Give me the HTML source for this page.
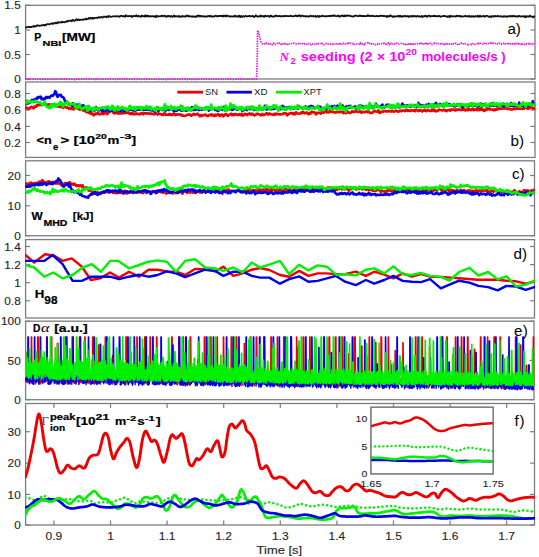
<!DOCTYPE html><html><head><meta charset="utf-8"><style>html,body{margin:0;padding:0;background:#fff;width:539px;height:557px;overflow:hidden}svg{display:block;font-family:"Liberation Sans",sans-serif}</style></head><body><svg width="539" height="557" viewBox="0 0 539 557">
<rect width="539" height="557" fill="#fff"/>
<defs>
<clipPath id="cpa"><rect x="25.1" y="5.3" width="510.4" height="73.7"/></clipPath>
<clipPath id="cpb"><rect x="25.1" y="82.0" width="510.4" height="75.4"/></clipPath>
<clipPath id="cpc"><rect x="25.1" y="160.8" width="509.9" height="74.89999999999998"/></clipPath>
<clipPath id="cpd"><rect x="25.1" y="239.6" width="509.9" height="78.4"/></clipPath>
<clipPath id="cpe"><rect x="25.1" y="321.2" width="509.4" height="78.5"/></clipPath>
<clipPath id="cpf"><rect x="25.1" y="403.5" width="509.9" height="121.5"/></clipPath>
</defs>
<rect x="25.6" y="5.3" width="509.4" height="73.7" fill="none" stroke="#7d7d7d" stroke-width="1.3"/>
<line x1="25.6" y1="79.0" x2="30.1" y2="79.0" stroke="#7d7d7d" stroke-width="1.2"/>
<line x1="530.5" y1="79.0" x2="535.0" y2="79.0" stroke="#7d7d7d" stroke-width="1.2"/>
<text x="14.15" y="83.10" font-size="10.6" textLength="6.55" lengthAdjust="spacingAndGlyphs" fill="#262626" stroke="#262626" stroke-width="0.12">0</text>
<line x1="25.6" y1="54.5" x2="30.1" y2="54.5" stroke="#7d7d7d" stroke-width="1.2"/>
<line x1="530.5" y1="54.5" x2="535.0" y2="54.5" stroke="#7d7d7d" stroke-width="1.2"/>
<text x="4.32" y="58.60" font-size="10.6" textLength="16.38" lengthAdjust="spacingAndGlyphs" fill="#262626" stroke="#262626" stroke-width="0.12">0.5</text>
<line x1="25.6" y1="30.0" x2="30.1" y2="30.0" stroke="#7d7d7d" stroke-width="1.2"/>
<line x1="530.5" y1="30.0" x2="535.0" y2="30.0" stroke="#7d7d7d" stroke-width="1.2"/>
<text x="14.15" y="34.10" font-size="10.6" textLength="6.55" lengthAdjust="spacingAndGlyphs" fill="#262626" stroke="#262626" stroke-width="0.12">1</text>
<line x1="25.6" y1="5.3" x2="30.1" y2="5.3" stroke="#7d7d7d" stroke-width="1.2"/>
<line x1="530.5" y1="5.3" x2="535.0" y2="5.3" stroke="#7d7d7d" stroke-width="1.2"/>
<text x="4.32" y="9.40" font-size="10.6" textLength="16.38" lengthAdjust="spacingAndGlyphs" fill="#262626" stroke="#262626" stroke-width="0.12">1.5</text>
<rect x="25.6" y="82.0" width="509.4" height="75.4" fill="none" stroke="#7d7d7d" stroke-width="1.3"/>
<line x1="25.6" y1="93.5" x2="30.1" y2="93.5" stroke="#7d7d7d" stroke-width="1.2"/>
<line x1="530.5" y1="93.5" x2="535.0" y2="93.5" stroke="#7d7d7d" stroke-width="1.2"/>
<text x="4.32" y="97.60" font-size="10.6" textLength="16.38" lengthAdjust="spacingAndGlyphs" fill="#262626" stroke="#262626" stroke-width="0.12">0.8</text>
<line x1="25.6" y1="110.1" x2="30.1" y2="110.1" stroke="#7d7d7d" stroke-width="1.2"/>
<line x1="530.5" y1="110.1" x2="535.0" y2="110.1" stroke="#7d7d7d" stroke-width="1.2"/>
<text x="4.32" y="114.20" font-size="10.6" textLength="16.38" lengthAdjust="spacingAndGlyphs" fill="#262626" stroke="#262626" stroke-width="0.12">0.6</text>
<line x1="25.6" y1="126.4" x2="30.1" y2="126.4" stroke="#7d7d7d" stroke-width="1.2"/>
<line x1="530.5" y1="126.4" x2="535.0" y2="126.4" stroke="#7d7d7d" stroke-width="1.2"/>
<text x="4.32" y="130.50" font-size="10.6" textLength="16.38" lengthAdjust="spacingAndGlyphs" fill="#262626" stroke="#262626" stroke-width="0.12">0.4</text>
<line x1="25.6" y1="142.5" x2="30.1" y2="142.5" stroke="#7d7d7d" stroke-width="1.2"/>
<line x1="530.5" y1="142.5" x2="535.0" y2="142.5" stroke="#7d7d7d" stroke-width="1.2"/>
<text x="4.32" y="146.60" font-size="10.6" textLength="16.38" lengthAdjust="spacingAndGlyphs" fill="#262626" stroke="#262626" stroke-width="0.12">0.2</text>
<rect x="25.6" y="160.8" width="508.9" height="74.89999999999998" fill="none" stroke="#7d7d7d" stroke-width="1.3"/>
<line x1="25.6" y1="175.5" x2="30.1" y2="175.5" stroke="#7d7d7d" stroke-width="1.2"/>
<line x1="530.0" y1="175.5" x2="534.5" y2="175.5" stroke="#7d7d7d" stroke-width="1.2"/>
<text x="7.60" y="179.60" font-size="10.6" textLength="13.10" lengthAdjust="spacingAndGlyphs" fill="#262626" stroke="#262626" stroke-width="0.12">20</text>
<line x1="25.6" y1="205.8" x2="30.1" y2="205.8" stroke="#7d7d7d" stroke-width="1.2"/>
<line x1="530.0" y1="205.8" x2="534.5" y2="205.8" stroke="#7d7d7d" stroke-width="1.2"/>
<text x="7.60" y="209.90" font-size="10.6" textLength="13.10" lengthAdjust="spacingAndGlyphs" fill="#262626" stroke="#262626" stroke-width="0.12">10</text>
<line x1="25.6" y1="235.7" x2="30.1" y2="235.7" stroke="#7d7d7d" stroke-width="1.2"/>
<line x1="530.0" y1="235.7" x2="534.5" y2="235.7" stroke="#7d7d7d" stroke-width="1.2"/>
<text x="14.15" y="239.80" font-size="10.6" textLength="6.55" lengthAdjust="spacingAndGlyphs" fill="#262626" stroke="#262626" stroke-width="0.12">0</text>
<rect x="25.6" y="239.6" width="508.9" height="78.4" fill="none" stroke="#7d7d7d" stroke-width="1.3"/>
<line x1="25.6" y1="246.5" x2="30.1" y2="246.5" stroke="#7d7d7d" stroke-width="1.2"/>
<line x1="530.0" y1="246.5" x2="534.5" y2="246.5" stroke="#7d7d7d" stroke-width="1.2"/>
<text x="4.32" y="250.60" font-size="10.6" textLength="16.38" lengthAdjust="spacingAndGlyphs" fill="#262626" stroke="#262626" stroke-width="0.12">1.4</text>
<line x1="25.6" y1="264.6" x2="30.1" y2="264.6" stroke="#7d7d7d" stroke-width="1.2"/>
<line x1="530.0" y1="264.6" x2="534.5" y2="264.6" stroke="#7d7d7d" stroke-width="1.2"/>
<text x="4.32" y="268.70" font-size="10.6" textLength="16.38" lengthAdjust="spacingAndGlyphs" fill="#262626" stroke="#262626" stroke-width="0.12">1.2</text>
<line x1="25.6" y1="282.7" x2="30.1" y2="282.7" stroke="#7d7d7d" stroke-width="1.2"/>
<line x1="530.0" y1="282.7" x2="534.5" y2="282.7" stroke="#7d7d7d" stroke-width="1.2"/>
<text x="14.15" y="286.80" font-size="10.6" textLength="6.55" lengthAdjust="spacingAndGlyphs" fill="#262626" stroke="#262626" stroke-width="0.12">1</text>
<line x1="25.6" y1="300.8" x2="30.1" y2="300.8" stroke="#7d7d7d" stroke-width="1.2"/>
<line x1="530.0" y1="300.8" x2="534.5" y2="300.8" stroke="#7d7d7d" stroke-width="1.2"/>
<text x="4.32" y="304.90" font-size="10.6" textLength="16.38" lengthAdjust="spacingAndGlyphs" fill="#262626" stroke="#262626" stroke-width="0.12">0.8</text>
<rect x="25.6" y="321.2" width="508.4" height="78.5" fill="none" stroke="#7d7d7d" stroke-width="1.3"/>
<line x1="25.6" y1="321.2" x2="30.1" y2="321.2" stroke="#7d7d7d" stroke-width="1.2"/>
<line x1="529.5" y1="321.2" x2="534.0" y2="321.2" stroke="#7d7d7d" stroke-width="1.2"/>
<text x="1.05" y="325.30" font-size="10.6" textLength="19.65" lengthAdjust="spacingAndGlyphs" fill="#262626" stroke="#262626" stroke-width="0.12">100</text>
<line x1="25.6" y1="360.4" x2="30.1" y2="360.4" stroke="#7d7d7d" stroke-width="1.2"/>
<line x1="529.5" y1="360.4" x2="534.0" y2="360.4" stroke="#7d7d7d" stroke-width="1.2"/>
<text x="7.60" y="364.50" font-size="10.6" textLength="13.10" lengthAdjust="spacingAndGlyphs" fill="#262626" stroke="#262626" stroke-width="0.12">50</text>
<line x1="25.6" y1="399.7" x2="30.1" y2="399.7" stroke="#7d7d7d" stroke-width="1.2"/>
<line x1="529.5" y1="399.7" x2="534.0" y2="399.7" stroke="#7d7d7d" stroke-width="1.2"/>
<text x="14.15" y="403.80" font-size="10.6" textLength="6.55" lengthAdjust="spacingAndGlyphs" fill="#262626" stroke="#262626" stroke-width="0.12">0</text>
<rect x="25.6" y="403.5" width="508.9" height="121.5" fill="none" stroke="#7d7d7d" stroke-width="1.3"/>
<line x1="25.6" y1="431.7" x2="30.1" y2="431.7" stroke="#7d7d7d" stroke-width="1.2"/>
<line x1="530.0" y1="431.7" x2="534.5" y2="431.7" stroke="#7d7d7d" stroke-width="1.2"/>
<text x="7.60" y="435.80" font-size="10.6" textLength="13.10" lengthAdjust="spacingAndGlyphs" fill="#262626" stroke="#262626" stroke-width="0.12">30</text>
<line x1="25.6" y1="463.1" x2="30.1" y2="463.1" stroke="#7d7d7d" stroke-width="1.2"/>
<line x1="530.0" y1="463.1" x2="534.5" y2="463.1" stroke="#7d7d7d" stroke-width="1.2"/>
<text x="7.60" y="467.20" font-size="10.6" textLength="13.10" lengthAdjust="spacingAndGlyphs" fill="#262626" stroke="#262626" stroke-width="0.12">20</text>
<line x1="25.6" y1="494.4" x2="30.1" y2="494.4" stroke="#7d7d7d" stroke-width="1.2"/>
<line x1="530.0" y1="494.4" x2="534.5" y2="494.4" stroke="#7d7d7d" stroke-width="1.2"/>
<text x="7.60" y="498.50" font-size="10.6" textLength="13.10" lengthAdjust="spacingAndGlyphs" fill="#262626" stroke="#262626" stroke-width="0.12">10</text>
<line x1="25.6" y1="525.0" x2="30.1" y2="525.0" stroke="#7d7d7d" stroke-width="1.2"/>
<line x1="530.0" y1="525.0" x2="534.5" y2="525.0" stroke="#7d7d7d" stroke-width="1.2"/>
<text x="14.15" y="529.10" font-size="10.6" textLength="6.55" lengthAdjust="spacingAndGlyphs" fill="#262626" stroke="#262626" stroke-width="0.12">0</text>
<line x1="53.90" y1="403.5" x2="53.90" y2="408.0" stroke="#7d7d7d" stroke-width="1.2"/>
<line x1="53.90" y1="520.5" x2="53.90" y2="525.0" stroke="#7d7d7d" stroke-width="1.2"/>
<text x="45.55" y="539.6" font-size="10.8" textLength="16.70" lengthAdjust="spacingAndGlyphs" fill="#262626" stroke="#262626" stroke-width="0.12">0.9</text>
<line x1="110.50" y1="403.5" x2="110.50" y2="408.0" stroke="#7d7d7d" stroke-width="1.2"/>
<line x1="110.50" y1="520.5" x2="110.50" y2="525.0" stroke="#7d7d7d" stroke-width="1.2"/>
<text x="107.16" y="539.6" font-size="10.8" textLength="6.68" lengthAdjust="spacingAndGlyphs" fill="#262626" stroke="#262626" stroke-width="0.12">1</text>
<line x1="167.10" y1="403.5" x2="167.10" y2="408.0" stroke="#7d7d7d" stroke-width="1.2"/>
<line x1="167.10" y1="520.5" x2="167.10" y2="525.0" stroke="#7d7d7d" stroke-width="1.2"/>
<text x="158.75" y="539.6" font-size="10.8" textLength="16.70" lengthAdjust="spacingAndGlyphs" fill="#262626" stroke="#262626" stroke-width="0.12">1.1</text>
<line x1="223.70" y1="403.5" x2="223.70" y2="408.0" stroke="#7d7d7d" stroke-width="1.2"/>
<line x1="223.70" y1="520.5" x2="223.70" y2="525.0" stroke="#7d7d7d" stroke-width="1.2"/>
<text x="215.35" y="539.6" font-size="10.8" textLength="16.70" lengthAdjust="spacingAndGlyphs" fill="#262626" stroke="#262626" stroke-width="0.12">1.2</text>
<line x1="280.30" y1="403.5" x2="280.30" y2="408.0" stroke="#7d7d7d" stroke-width="1.2"/>
<line x1="280.30" y1="520.5" x2="280.30" y2="525.0" stroke="#7d7d7d" stroke-width="1.2"/>
<text x="271.95" y="539.6" font-size="10.8" textLength="16.70" lengthAdjust="spacingAndGlyphs" fill="#262626" stroke="#262626" stroke-width="0.12">1.3</text>
<line x1="336.90" y1="403.5" x2="336.90" y2="408.0" stroke="#7d7d7d" stroke-width="1.2"/>
<line x1="336.90" y1="520.5" x2="336.90" y2="525.0" stroke="#7d7d7d" stroke-width="1.2"/>
<text x="328.55" y="539.6" font-size="10.8" textLength="16.70" lengthAdjust="spacingAndGlyphs" fill="#262626" stroke="#262626" stroke-width="0.12">1.4</text>
<line x1="393.50" y1="403.5" x2="393.50" y2="408.0" stroke="#7d7d7d" stroke-width="1.2"/>
<line x1="393.50" y1="520.5" x2="393.50" y2="525.0" stroke="#7d7d7d" stroke-width="1.2"/>
<text x="385.15" y="539.6" font-size="10.8" textLength="16.70" lengthAdjust="spacingAndGlyphs" fill="#262626" stroke="#262626" stroke-width="0.12">1.5</text>
<line x1="450.10" y1="403.5" x2="450.10" y2="408.0" stroke="#7d7d7d" stroke-width="1.2"/>
<line x1="450.10" y1="520.5" x2="450.10" y2="525.0" stroke="#7d7d7d" stroke-width="1.2"/>
<text x="441.75" y="539.6" font-size="10.8" textLength="16.70" lengthAdjust="spacingAndGlyphs" fill="#262626" stroke="#262626" stroke-width="0.12">1.6</text>
<line x1="506.70" y1="403.5" x2="506.70" y2="408.0" stroke="#7d7d7d" stroke-width="1.2"/>
<line x1="506.70" y1="520.5" x2="506.70" y2="525.0" stroke="#7d7d7d" stroke-width="1.2"/>
<text x="498.35" y="539.6" font-size="10.8" textLength="16.70" lengthAdjust="spacingAndGlyphs" fill="#262626" stroke="#262626" stroke-width="0.12">1.7</text>
<text x="256.6" y="553.5" font-size="11" textLength="45.5" lengthAdjust="spacingAndGlyphs" fill="#262626" stroke="#262626" stroke-width="0.12">Time [s]</text>
<polyline points="25.60,27.37 26.30,27.55 27.00,27.20 27.70,27.08 28.40,26.77 29.10,26.93 29.80,27.31 30.50,26.98 31.20,27.10 31.90,26.73 32.60,26.69 33.30,26.53 34.00,25.79 34.70,26.58 35.40,26.37 36.10,26.28 36.80,25.42 37.50,25.31 38.20,25.52 38.90,25.58 39.60,25.76 40.30,25.54 41.00,25.62 41.70,25.10 42.40,25.32 43.10,25.24 43.80,24.76 44.50,25.48 45.20,24.96 45.90,25.07 46.60,24.33 47.30,24.17 48.00,24.20 48.70,24.17 49.40,24.32 50.10,24.07 50.80,23.72 51.50,23.43 52.20,23.47 52.90,23.96 53.60,23.14 54.30,23.40 55.00,23.35 55.70,22.58 56.40,23.01 57.10,23.35 57.80,22.08 58.50,22.57 59.20,22.55 59.90,22.20 60.60,22.55 61.30,22.25 62.00,21.66 62.70,22.36 63.40,22.20 64.10,22.20 64.80,22.27 65.50,21.79 66.20,21.60 66.90,21.00 67.60,21.57 68.30,21.04 69.00,20.99 69.70,20.60 70.40,20.61 71.10,20.67 71.80,21.22 72.50,19.97 73.20,20.08 73.90,20.59 74.60,20.92 75.30,20.53 76.00,19.58 76.70,19.27 77.40,20.19 78.10,19.72 78.80,19.49 79.50,20.14 80.20,20.09 80.90,19.67 81.60,19.62 82.30,19.59 83.00,19.91 83.70,19.48 84.40,19.36 85.10,19.28 85.80,18.46 86.50,19.37 87.20,19.17 87.90,18.94 88.60,17.98 89.30,18.36 90.00,18.79 90.70,17.78 91.40,18.27 92.10,18.60 92.80,17.71 93.50,18.64 94.20,18.19 94.90,17.86 95.60,17.94 96.30,17.97 97.00,17.70 97.70,17.98 98.40,17.26 99.10,17.26 99.80,17.69 100.50,17.26 101.20,16.88 101.90,17.46 102.60,17.58 103.30,16.85 104.00,16.46 104.70,16.83 105.40,16.76 106.10,16.65 106.80,17.18 107.50,16.27 108.20,17.00 108.90,16.06 109.60,16.16 110.30,16.61 111.00,16.77 111.70,16.65 112.40,16.45 113.10,16.36 113.80,16.34 114.50,16.47 115.20,16.18 115.90,16.32 116.60,16.40 117.30,16.18 118.00,16.43 118.70,16.34 119.40,16.82 120.10,16.21 120.80,15.95 121.50,15.97 122.20,16.10 122.90,16.43 123.60,15.99 124.30,16.25 125.00,16.76 125.70,15.22 126.40,15.72 127.10,16.20 127.80,16.26 128.50,16.20 129.20,15.97 129.90,16.35 130.60,16.23 131.30,15.95 132.00,16.98 132.70,16.26 133.40,15.94 134.10,16.10 134.80,16.06 135.50,16.12 136.20,15.19 136.90,15.97 137.60,16.50 138.30,15.74 139.00,16.12 139.70,16.48 140.40,16.45 141.10,16.67 141.80,15.56 142.50,16.03 143.20,16.04 143.90,16.38 144.60,16.54 145.30,15.22 146.00,16.55 146.70,15.66 147.40,16.41 148.10,15.65 148.80,16.23 149.50,16.59 150.20,16.12 150.90,16.24 151.60,16.46 152.30,16.23 153.00,16.15 153.70,16.72 154.40,16.55 155.10,16.08 155.80,17.15 156.50,15.79 157.20,16.51 157.90,16.10 158.60,16.24 159.30,16.45 160.00,16.28 160.70,16.43 161.40,15.67 162.10,15.68 162.80,16.42 163.50,15.87 164.20,15.85 164.90,15.70 165.60,16.66 166.30,16.48 167.00,16.73 167.70,15.89 168.40,16.22 169.10,15.82 169.80,16.49 170.50,16.78 171.20,15.92 171.90,16.78 172.60,16.58 173.30,16.17 174.00,15.54 174.70,16.73 175.40,16.20 176.10,16.03 176.80,16.38 177.50,16.39 178.20,16.77 178.90,15.89 179.60,16.65 180.30,16.77 181.00,16.76 181.70,16.19 182.40,16.00 183.10,16.61 183.80,16.30 184.50,16.30 185.20,16.76 185.90,16.17 186.60,15.46 187.30,16.13 188.00,15.62 188.70,16.56 189.40,16.38 190.10,16.06 190.80,16.27 191.50,16.57 192.20,16.31 192.90,16.75 193.60,16.26 194.30,16.65 195.00,16.81 195.70,16.85 196.40,16.06 197.10,16.60 197.80,15.64 198.50,15.92 199.20,15.61 199.90,16.67 200.60,15.87 201.30,16.29 202.00,16.23 202.70,16.28 203.40,16.09 204.10,16.37 204.80,16.92 205.50,16.30 206.20,16.47 206.90,16.63 207.60,16.21 208.30,15.84 209.00,16.08 209.70,16.65 210.40,15.70 211.10,16.07 211.80,16.63 212.50,16.55 213.20,16.27 213.90,16.55 214.60,16.32 215.30,15.85 216.00,15.72 216.70,16.04 217.40,16.58 218.10,16.06 218.80,15.94 219.50,15.99 220.20,15.72 220.90,16.21 221.60,15.84 222.30,16.38 223.00,15.42 223.70,16.36 224.40,16.02 225.10,15.56 225.80,16.49 226.50,16.14 227.20,15.46 227.90,15.93 228.60,16.34 229.30,16.07 230.00,16.50 230.70,16.49 231.40,16.46 232.10,16.34 232.80,16.69 233.50,16.45 234.20,16.38 234.90,15.49 235.60,16.53 236.30,16.67 237.00,16.11 237.70,16.05 238.40,16.89 239.10,15.59 239.80,16.37 240.50,17.05 241.20,15.88 241.90,16.44 242.60,16.86 243.30,16.16 244.00,16.39 244.70,16.51 245.40,15.88 246.10,16.16 246.80,16.29 247.50,16.48 248.20,16.18 248.90,16.12 249.60,15.83 250.30,16.06 251.00,16.49 251.70,16.22 252.40,15.88 253.10,15.88 253.80,17.11 254.50,16.57 255.20,16.40 255.90,15.26 256.60,16.39 257.30,16.34 258.00,16.76 258.70,16.31 259.40,16.14 260.10,16.34 260.80,15.48 261.50,16.52 262.20,16.27 262.90,15.91 263.60,16.62 264.30,16.78 265.00,15.66 265.70,15.92 266.40,16.25 267.10,16.21 267.80,16.00 268.50,15.80 269.20,16.88 269.90,16.50 270.60,15.72 271.30,15.66 272.00,16.73 272.70,16.48 273.40,16.77 274.10,16.41 274.80,15.82 275.50,16.22 276.20,15.37 276.90,15.86 277.60,16.10 278.30,16.30 279.00,15.86 279.70,16.07 280.40,16.27 281.10,16.24 281.80,16.33 282.50,16.18 283.20,15.99 283.90,16.38 284.60,16.12 285.30,15.81 286.00,15.88 286.70,16.10 287.40,16.06 288.10,16.15 288.80,16.09 289.50,16.16 290.20,16.04 290.90,15.65 291.60,16.24 292.30,16.46 293.00,16.24 293.70,16.02 294.40,16.24 295.10,15.74 295.80,15.42 296.50,16.10 297.20,15.75 297.90,16.33 298.60,15.69 299.30,15.15 300.00,15.71 300.70,16.62 301.40,15.93 302.10,15.59 302.80,15.80 303.50,16.24 304.20,16.23 304.90,16.12 305.60,16.58 306.30,16.30 307.00,16.05 307.70,16.26 308.40,16.63 309.10,16.39 309.80,16.40 310.50,15.67 311.20,15.99 311.90,16.30 312.60,15.94 313.30,16.41 314.00,16.25 314.70,16.35 315.40,15.96 316.10,16.92 316.80,16.46 317.50,15.95 318.20,16.06 318.90,16.93 319.60,15.90 320.30,16.33 321.00,16.36 321.70,16.02 322.40,15.61 323.10,16.08 323.80,16.14 324.50,16.41 325.20,16.29 325.90,16.02 326.60,16.31 327.30,16.20 328.00,16.08 328.70,16.02 329.40,15.92 330.10,16.24 330.80,15.63 331.50,15.78 332.20,16.01 332.90,15.49 333.60,15.86 334.30,15.31 335.00,15.77 335.70,16.21 336.40,16.21 337.10,16.00 337.80,15.94 338.50,15.52 339.20,16.66 339.90,16.20 340.60,16.41 341.30,15.72 342.00,15.96 342.70,15.39 343.40,16.30 344.10,16.36 344.80,15.37 345.50,16.02 346.20,16.26 346.90,15.42 347.60,15.40 348.30,15.67 349.00,15.82 349.70,15.55 350.40,16.06 351.10,16.13 351.80,16.27 352.50,16.30 353.20,16.58 353.90,16.46 354.60,15.60 355.30,15.88 356.00,15.69 356.70,15.68 357.40,16.03 358.10,16.06 358.80,16.24 359.50,15.51 360.20,15.63 360.90,16.06 361.60,16.00 362.30,15.96 363.00,16.05 363.70,15.81 364.40,16.32 365.10,16.20 365.80,16.05 366.50,15.85 367.20,16.02 367.90,15.13 368.60,15.74 369.30,16.10 370.00,15.56 370.70,16.16 371.40,16.14 372.10,15.61 372.80,16.01 373.50,15.99 374.20,16.26 374.90,16.31 375.60,16.09 376.30,15.80 377.00,16.05 377.70,16.08 378.40,16.36 379.10,16.21 379.80,15.86 380.50,15.64 381.20,15.98 381.90,15.86 382.60,15.73 383.30,16.08 384.00,15.95 384.70,16.16 385.40,16.31 386.10,15.98 386.80,16.94 387.50,16.02 388.20,16.51 388.90,16.17 389.60,16.52 390.30,15.30 391.00,15.87 391.70,16.22 392.40,16.35 393.10,16.96 393.80,16.25 394.50,16.59 395.20,16.41 395.90,16.48 396.60,16.33 397.30,16.09 398.00,16.33 398.70,15.78 399.40,16.57 400.10,15.80 400.80,16.24 401.50,16.90 402.20,16.08 402.90,16.17 403.60,16.57 404.30,16.17 405.00,15.88 405.70,16.26 406.40,16.37 407.10,16.42 407.80,15.90 408.50,16.79 409.20,16.76 409.90,16.18 410.60,16.27 411.30,16.03 412.00,16.68 412.70,15.94 413.40,16.42 414.10,16.02 414.80,15.95 415.50,16.44 416.20,16.66 416.90,16.19 417.60,15.96 418.30,16.48 419.00,16.18 419.70,16.31 420.40,16.73 421.10,16.60 421.80,16.02 422.50,17.00 423.20,16.21 423.90,16.48 424.60,15.98 425.30,16.19 426.00,15.60 426.70,16.84 427.40,16.69 428.10,15.79 428.80,15.69 429.50,15.65 430.20,16.63 430.90,16.06 431.60,16.20 432.30,16.11 433.00,16.18 433.70,15.84 434.40,16.23 435.10,15.72 435.80,16.20 436.50,16.34 437.20,16.39 437.90,16.15 438.60,15.92 439.30,16.29 440.00,16.07 440.70,16.78 441.40,16.51 442.10,16.20 442.80,16.07 443.50,15.99 444.20,15.91 444.90,16.12 445.60,16.35 446.30,16.43 447.00,16.45 447.70,16.98 448.40,16.00 449.10,16.26 449.80,17.23 450.50,15.60 451.20,16.07 451.90,16.31 452.60,16.31 453.30,16.40 454.00,16.18 454.70,16.39 455.40,16.28 456.10,16.53 456.80,15.60 457.50,15.96 458.20,16.27 458.90,15.91 459.60,15.90 460.30,16.49 461.00,16.04 461.70,16.49 462.40,16.53 463.10,16.38 463.80,16.45 464.50,16.24 465.20,15.79 465.90,16.27 466.60,16.44 467.30,16.10 468.00,16.25 468.70,16.55 469.40,15.98 470.10,16.51 470.80,16.94 471.50,16.10 472.20,16.34 472.90,16.24 473.60,16.83 474.30,16.41 475.00,16.61 475.70,16.06 476.40,16.29 477.10,16.30 477.80,15.68 478.50,16.81 479.20,16.62 479.90,15.69 480.60,16.57 481.30,16.26 482.00,16.46 482.70,16.44 483.40,15.79 484.10,16.24 484.80,16.84 485.50,16.11 486.20,15.96 486.90,15.84 487.60,15.89 488.30,16.44 489.00,16.91 489.70,16.47 490.40,16.41 491.10,17.11 491.80,16.14 492.50,16.09 493.20,16.51 493.90,16.52 494.60,15.97 495.30,15.92 496.00,16.43 496.70,16.42 497.40,15.88 498.10,16.27 498.80,16.15 499.50,16.50 500.20,16.30 500.90,16.31 501.60,16.22 502.30,16.71 503.00,16.83 503.70,16.22 504.40,16.64 505.10,16.08 505.80,16.37 506.50,16.61 507.20,16.88 507.90,16.22 508.60,16.33 509.30,16.42 510.00,15.83 510.70,16.36 511.40,16.12 512.10,16.49 512.80,15.97 513.50,15.67 514.20,16.38 514.90,16.46 515.60,16.17 516.30,16.68 517.00,16.27 517.70,16.16 518.40,16.54 519.10,15.82 519.80,16.14 520.50,16.37 521.20,16.67 521.90,16.32 522.60,16.49 523.30,16.15 524.00,16.49 524.70,16.96 525.40,16.14 526.10,17.21 526.80,16.16 527.50,16.39 528.20,16.45 528.90,16.75 529.60,15.96 530.30,15.66 531.00,16.61 531.70,16.67 532.40,16.61 533.10,17.32 533.80,16.47 534.50,16.49" fill="none" stroke="#111" stroke-width="1.8" stroke-linejoin="round" stroke-linecap="round" clip-path="url(#cpa)"/>
<polyline points="25.30,79.34 26.10,79.26 26.90,79.45 27.70,79.01 28.50,79.14 29.30,78.68 30.10,79.32 30.90,79.14 31.70,79.34 32.50,79.52 33.30,79.20 34.10,79.16 34.90,79.13 35.70,79.07 36.50,79.11 37.30,79.30 38.10,79.21 38.90,79.21 39.70,79.17 40.50,79.34 41.30,79.27 42.10,79.18 42.90,79.30 43.70,79.18 44.50,79.03 45.30,79.42 46.10,79.27 46.90,79.06 47.70,79.36 48.50,79.25 49.30,78.97 50.10,79.44 50.90,79.25 51.70,79.33 52.50,79.23 53.30,79.18 54.10,78.97 54.90,79.35 55.70,79.20 56.50,79.16 57.30,79.25 58.10,79.21 58.90,79.30 59.70,79.14 60.50,79.19 61.30,78.88 62.10,79.14 62.90,79.30 63.70,79.40 64.50,79.15 65.30,79.18 66.10,79.44 66.90,79.15 67.70,79.31 68.50,79.45 69.30,79.21 70.10,79.38 70.90,79.09 71.70,79.23 72.50,79.19 73.30,79.22 74.10,79.37 74.90,79.56 75.70,79.10 76.50,79.11 77.30,79.27 78.10,79.04 78.90,79.27 79.70,79.29 80.50,79.16 81.30,79.28 82.10,78.97 82.90,79.31 83.70,78.97 84.50,79.10 85.30,79.12 86.10,79.14 86.90,79.33 87.70,79.21 88.50,79.14 89.30,79.28 90.10,79.44 90.90,79.20 91.70,79.25 92.50,79.39 93.30,79.24 94.10,79.01 94.90,79.57 95.70,79.53 96.50,78.90 97.30,79.19 98.10,79.26 98.90,79.34 99.70,79.30 100.50,79.16 101.30,79.04 102.10,79.22 102.90,79.36 103.70,79.04 104.50,79.05 105.30,79.20 106.10,78.91 106.90,79.16 107.70,79.13 108.50,79.27 109.30,79.09 110.10,79.07 110.90,79.14 111.70,79.19 112.50,79.10 113.30,79.20 114.10,79.31 114.90,79.38 115.70,79.46 116.50,79.08 117.30,79.14 118.10,78.83 118.90,79.48 119.70,79.09 120.50,79.19 121.30,79.28 122.10,79.00 122.90,79.27 123.70,79.20 124.50,78.93 125.30,79.24 126.10,79.38 126.90,78.92 127.70,79.32 128.50,79.23 129.30,79.27 130.10,79.27 130.90,79.40 131.70,79.17 132.50,79.33 133.30,79.14 134.10,79.31 134.90,79.08 135.70,79.18 136.50,79.46 137.30,79.27 138.10,79.18 138.90,79.03 139.70,79.08 140.50,79.23 141.30,79.34 142.10,79.26 142.90,79.28 143.70,79.19 144.50,79.40 145.30,79.14 146.10,79.12 146.90,79.33 147.70,79.21 148.50,79.16 149.30,79.11 150.10,79.16 150.90,79.29 151.70,79.25 152.50,79.02 153.30,79.26 154.10,79.23 154.90,79.05 155.70,79.32 156.50,79.16 157.30,79.15 158.10,79.32 158.90,79.40 159.70,79.10 160.50,79.27 161.30,79.07 162.10,79.55 162.90,79.13 163.70,79.38 164.50,79.10 165.30,79.32 166.10,79.53 166.90,78.82 167.70,79.13 168.50,79.28 169.30,79.19 170.10,79.10 170.90,79.52 171.70,79.21 172.50,78.95 173.30,79.33 174.10,78.94 174.90,79.37 175.70,79.11 176.50,79.22 177.30,79.39 178.10,79.22 178.90,78.99 179.70,78.95 180.50,79.38 181.30,79.31 182.10,79.08 182.90,79.33 183.70,79.27 184.50,79.30 185.30,78.86 186.10,79.15 186.90,79.34 187.70,79.31 188.50,79.33 189.30,78.83 190.10,79.23 190.90,79.27 191.70,79.58 192.50,79.06 193.30,79.15 194.10,79.21 194.90,79.33 195.70,79.13 196.50,79.37 197.30,79.08 198.10,79.24 198.90,79.12 199.70,79.22 200.50,79.10 201.30,78.96 202.10,79.36 202.90,79.25 203.70,79.12 204.50,79.23 205.30,79.35 206.10,79.05 206.90,79.18 207.70,79.28 208.50,79.28 209.30,79.15 210.10,78.88 210.90,79.39 211.70,79.25 212.50,79.20 213.30,79.16 214.10,79.24 214.90,79.14 215.70,79.05 216.50,79.09 217.30,79.11 218.10,79.11 218.90,79.03 219.70,79.30 220.50,79.00 221.30,79.30 222.10,79.05 222.90,79.25 223.70,79.41 224.50,79.23 225.30,79.09 226.10,79.21 226.90,79.22 227.70,78.94 228.50,79.11 229.30,79.22 230.10,79.13 230.90,79.21 231.70,79.31 232.50,79.31 233.30,79.34 234.10,79.29 234.90,79.16 235.70,79.20 236.50,79.16 237.30,79.15 238.10,79.17 238.90,78.94 239.70,79.15 240.50,79.20 241.30,79.05 242.10,79.20 242.90,79.28 243.70,79.18 244.50,79.51 245.30,78.81 246.10,79.17 246.90,78.93 247.70,79.35 248.50,79.60 249.30,78.82 250.10,79.22 250.90,79.28 251.70,79.15 252.50,79.28 253.30,78.86 254.10,79.33 254.90,79.26 255.70,79.20 256.50,79.11 257.20,60.00 257.40,45.00 257.60,30.50 258.20,31.50 259.50,36.00 260.70,41.30 262.00,43.50 263.00,44.12 263.70,43.56 264.40,43.91 265.10,43.54 265.80,42.68 266.50,43.78 267.20,43.90 267.90,44.18 268.60,43.36 269.30,43.78 270.00,44.11 270.70,43.87 271.40,44.42 272.10,44.80 272.80,43.35 273.50,42.84 274.20,44.23 274.90,44.56 275.60,44.26 276.30,44.21 277.00,43.49 277.70,43.44 278.40,44.24 279.10,43.34 279.80,42.89 280.50,43.30 281.20,45.05 281.90,44.76 282.60,43.46 283.30,43.44 284.00,43.92 284.70,43.43 285.40,44.46 286.10,43.76 286.80,43.26 287.50,44.45 288.20,43.51 288.90,43.91 289.60,43.79 290.30,43.64 291.00,43.96 291.70,43.45 292.40,42.88 293.10,42.70 293.80,43.17 294.50,43.42 295.20,43.79 295.90,43.83 296.60,44.08 297.30,43.86 298.00,43.40 298.70,43.45 299.40,42.74 300.10,43.72 300.80,44.04 301.50,44.06 302.20,43.74 302.90,43.71 303.60,44.27 304.30,43.81 305.00,44.17 305.70,44.09 306.40,43.91 307.10,44.45 307.80,43.51 308.50,43.62 309.20,43.40 309.90,43.40 310.60,44.58 311.30,44.68 312.00,43.81 312.70,44.08 313.40,44.39 314.10,44.20 314.80,44.40 315.50,43.17 316.20,43.48 316.90,44.03 317.60,44.52 318.30,43.85 319.00,43.37 319.70,43.62 320.40,43.47 321.10,43.37 321.80,44.55 322.50,43.49 323.20,43.81 323.90,44.88 324.60,44.39 325.30,43.97 326.00,43.49 326.70,44.01 327.40,44.61 328.10,44.11 328.80,44.43 329.50,43.85 330.20,44.06 330.90,43.70 331.60,44.01 332.30,44.45 333.00,43.08 333.70,43.77 334.40,43.92 335.10,43.51 335.80,43.65 336.50,44.19 337.20,44.80 337.90,44.11 338.60,43.96 339.30,43.02 340.00,44.76 340.70,43.84 341.40,43.78 342.10,43.24 342.80,43.77 343.50,43.25 344.20,43.84 344.90,44.03 345.60,43.82 346.30,43.94 347.00,43.37 347.70,44.51 348.40,43.47 349.10,42.89 349.80,43.71 350.50,43.42 351.20,43.30 351.90,43.62 352.60,43.95 353.30,43.21 354.00,43.73 354.70,44.51 355.40,44.14 356.10,43.72 356.80,43.86 357.50,43.74 358.20,43.78 358.90,44.17 359.60,43.75 360.30,42.60 361.00,43.79 361.70,43.36 362.40,44.13 363.10,43.49 363.80,43.87 364.50,44.89 365.20,43.28 365.90,43.24 366.60,43.09 367.30,42.60 368.00,42.86 368.70,43.98 369.40,43.48 370.10,42.87 370.80,43.06 371.50,44.11 372.20,43.41 372.90,43.62 373.60,43.97 374.30,44.48 375.00,44.77 375.70,44.32 376.40,43.87 377.10,43.89 377.80,44.70 378.50,44.51 379.20,43.64 379.90,44.03 380.60,43.94 381.30,43.83 382.00,43.55 382.70,43.14 383.40,43.53 384.10,43.03 384.80,44.41 385.50,44.07 386.20,43.20 386.90,44.50 387.60,44.25 388.30,42.85 389.00,44.72 389.70,44.20 390.40,44.83 391.10,43.18 391.80,44.07 392.50,44.01 393.20,43.90 393.90,43.89 394.60,44.33 395.30,43.05 396.00,43.18 396.70,43.10 397.40,43.52 398.10,43.50 398.80,43.98 399.50,43.93 400.20,43.82 400.90,43.46 401.60,43.58 402.30,44.28 403.00,44.18 403.70,43.85 404.40,43.64 405.10,44.58 405.80,43.50 406.50,44.12 407.20,44.38 407.90,43.67 408.60,44.21 409.30,43.24 410.00,44.31 410.70,43.90 411.40,43.01 412.10,44.13 412.80,43.35 413.50,44.44 414.20,43.46 414.90,43.72 415.60,43.94 416.30,43.63 417.00,43.93 417.70,43.52 418.40,44.14 419.10,43.80 419.80,43.91 420.50,42.42 421.20,44.38 421.90,43.82 422.60,42.91 423.30,43.85 424.00,44.03 424.70,44.34 425.40,43.26 426.10,44.57 426.80,43.72 427.50,45.00 428.20,43.73 428.90,44.14 429.60,43.62 430.30,43.24 431.00,44.35 431.70,44.25 432.40,44.57 433.10,44.23 433.80,43.51 434.50,42.97 435.20,43.47 435.90,43.46 436.60,43.39 437.30,44.09 438.00,43.96 438.70,43.67 439.40,43.89 440.10,43.73 440.80,43.91 441.50,44.18 442.20,44.28 442.90,43.46 443.60,43.05 444.30,44.51 445.00,43.86 445.70,44.35 446.40,42.98 447.10,43.64 447.80,43.81 448.50,43.08 449.20,43.54 449.90,44.16 450.60,44.34 451.30,44.60 452.00,43.37 452.70,43.10 453.40,44.06 454.10,44.27 454.80,43.90 455.50,43.15 456.20,44.19 456.90,44.20 457.60,44.08 458.30,43.56 459.00,43.95 459.70,44.20 460.40,43.52 461.10,42.88 461.80,43.96 462.50,44.04 463.20,43.81 463.90,44.24 464.60,43.51 465.30,43.76 466.00,43.65 466.70,44.09 467.40,44.60 468.10,43.67 468.80,44.83 469.50,44.56 470.20,44.20 470.90,44.09 471.60,44.69 472.30,43.71 473.00,43.74 473.70,43.27 474.40,44.04 475.10,44.47 475.80,44.07 476.50,44.01 477.20,43.70 477.90,43.88 478.60,43.09 479.30,44.32 480.00,43.60 480.70,43.25 481.40,43.42 482.10,43.39 482.80,44.23 483.50,44.33 484.20,43.12 484.90,44.26 485.60,44.24 486.30,43.51 487.00,43.06 487.70,43.43 488.40,43.48 489.10,43.97 489.80,43.62 490.50,42.79 491.20,43.92 491.90,43.03 492.60,44.25 493.30,43.20 494.00,43.45 494.70,43.37 495.40,43.53 496.10,44.45 496.80,44.23 497.50,44.10 498.20,43.96 498.90,43.03 499.60,43.54 500.30,43.52 501.00,43.31 501.70,44.05 502.40,43.43 503.10,43.45 503.80,43.28 504.50,42.77 505.20,44.10 505.90,44.47 506.60,43.89 507.30,43.31 508.00,42.45 508.70,43.89 509.40,44.41 510.10,43.95 510.80,44.26 511.50,44.54 512.20,44.36 512.90,43.58 513.60,44.33 514.30,44.19 515.00,43.03 515.70,43.60 516.40,43.09 517.10,43.75 517.80,44.09 518.50,43.27 519.20,42.77 519.90,44.45 520.60,43.99 521.30,44.54 522.00,43.14 522.70,44.33 523.40,44.84 524.10,44.80 524.80,43.69 525.50,43.93 526.20,43.72 526.90,44.30 527.60,44.32 528.30,43.84 529.00,43.12 529.70,44.17 530.40,43.57 531.10,44.11 531.80,43.93 532.50,44.61 533.20,44.37 533.90,43.57 534.60,43.97" fill="none" stroke="#dc20dc" stroke-width="1.7" stroke-linejoin="round" stroke-dasharray="1.4 1.1" stroke-linecap="butt"/>
<polyline points="25.60,108.55 26.40,107.54 27.20,107.94 28.00,108.51 28.80,108.73 29.60,108.42 30.40,107.23 31.20,106.80 32.00,107.37 32.80,107.37 33.60,108.39 34.40,106.49 35.20,107.04 36.00,106.75 36.80,105.13 37.60,105.10 38.40,105.45 39.20,104.96 40.00,104.86 40.80,105.07 41.60,104.27 42.40,104.70 43.20,104.04 44.00,103.83 44.80,104.27 45.60,103.78 46.40,104.25 47.20,105.14 48.00,104.50 48.80,104.34 49.60,104.86 50.40,104.44 51.20,105.26 52.00,104.20 52.80,105.15 53.60,104.80 54.40,104.66 55.20,106.17 56.00,105.10 56.80,106.44 57.60,106.19 58.40,106.68 59.20,105.52 60.00,106.60 60.80,107.10 61.60,106.44 62.40,106.43 63.20,108.01 64.00,107.17 64.80,106.80 65.60,106.73 66.40,107.45 67.20,107.66 68.00,107.74 68.80,108.75 69.60,107.93 70.40,108.31 71.20,108.99 72.00,107.81 72.80,108.78 73.60,109.49 74.40,107.91 75.20,107.80 76.00,107.87 76.80,107.50 77.60,108.78 78.40,107.80 79.20,108.99 80.00,109.83 80.80,108.61 81.60,109.37 82.40,108.91 83.20,110.61 84.00,110.38 84.80,110.88 85.60,111.44 86.40,112.10 87.20,112.02 88.00,112.48 88.80,112.59 89.60,113.30 90.40,113.04 91.20,114.00 92.00,113.40 92.80,113.96 93.60,115.37 94.40,114.59 95.20,113.64 96.00,114.26 96.80,113.66 97.60,113.12 98.40,113.48 99.20,114.34 100.00,114.27 100.80,113.90 101.60,113.28 102.40,112.99 103.20,114.21 104.00,113.76 104.80,112.92 105.60,112.02 106.40,112.18 107.20,114.28 108.00,112.59 108.80,112.34 109.60,112.03 110.40,111.33 111.20,110.93 112.00,110.70 112.80,111.15 113.60,113.10 114.40,112.44 115.20,113.43 116.00,112.17 116.80,112.73 117.60,113.17 118.40,113.71 119.20,112.63 120.00,113.40 120.80,113.46 121.60,112.86 122.40,113.44 123.20,112.81 124.00,112.76 124.80,113.21 125.60,111.81 126.40,113.01 127.20,112.77 128.00,112.49 128.80,113.03 129.60,113.83 130.40,113.35 131.20,114.21 132.00,113.04 132.80,112.73 133.60,114.29 134.40,113.97 135.20,114.23 136.00,113.31 136.80,114.05 137.60,113.91 138.40,114.12 139.20,113.83 140.00,114.44 140.80,113.55 141.60,113.21 142.40,112.87 143.20,114.29 144.00,113.53 144.80,113.22 145.60,113.23 146.40,113.53 147.20,113.14 148.00,113.63 148.80,113.55 149.60,113.60 150.40,113.39 151.20,113.93 152.00,113.77 152.80,114.08 153.60,114.23 154.40,114.33 155.20,112.95 156.00,113.61 156.80,113.62 157.60,114.51 158.40,113.39 159.20,113.67 160.00,113.97 160.80,114.03 161.60,114.80 162.40,114.16 163.20,114.84 164.00,113.63 164.80,113.21 165.60,114.84 166.40,114.74 167.20,114.77 168.00,114.59 168.80,114.77 169.60,113.87 170.40,114.91 171.20,114.30 172.00,115.04 172.80,114.70 173.60,113.48 174.40,113.64 175.20,115.03 176.00,114.61 176.80,114.39 177.60,114.72 178.40,114.42 179.20,114.30 180.00,114.65 180.80,114.76 181.60,115.56 182.40,114.91 183.20,115.81 184.00,115.96 184.80,115.95 185.60,115.60 186.40,115.01 187.20,114.91 188.00,114.75 188.80,114.39 189.60,114.71 190.40,114.46 191.20,115.70 192.00,115.33 192.80,114.72 193.60,113.79 194.40,114.66 195.20,114.64 196.00,114.27 196.80,114.18 197.60,113.55 198.40,115.01 199.20,114.96 200.00,116.44 200.80,115.27 201.60,114.97 202.40,115.80 203.20,115.24 204.00,115.14 204.80,114.82 205.60,114.63 206.40,115.76 207.20,115.71 208.00,116.10 208.80,115.02 209.60,115.02 210.40,114.51 211.20,115.44 212.00,114.31 212.80,115.18 213.60,115.65 214.40,115.92 215.20,114.66 216.00,115.54 216.80,114.71 217.60,114.52 218.40,114.16 219.20,115.48 220.00,116.02 220.80,114.86 221.60,114.53 222.40,114.69 223.20,116.31 224.00,115.78 224.80,114.80 225.60,113.90 226.40,114.34 227.20,115.46 228.00,116.06 228.80,114.97 229.60,114.51 230.40,114.51 231.20,113.73 232.00,115.13 232.80,114.29 233.60,115.32 234.40,113.96 235.20,113.93 236.00,114.78 236.80,114.36 237.60,115.13 238.40,114.84 239.20,114.12 240.00,114.97 240.80,115.26 241.60,113.76 242.40,115.55 243.20,115.15 244.00,115.21 244.80,113.75 245.60,114.09 246.40,114.36 247.20,115.20 248.00,113.94 248.80,114.00 249.60,113.37 250.40,114.23 251.20,114.73 252.00,113.68 252.80,114.07 253.60,114.76 254.40,115.49 255.20,115.12 256.00,114.49 256.80,113.87 257.60,113.87 258.40,114.02 259.20,114.49 260.00,114.47 260.80,115.40 261.60,114.80 262.40,113.90 263.20,115.16 264.00,115.06 264.80,114.55 265.60,113.97 266.40,113.19 267.20,113.49 268.00,114.61 268.80,113.86 269.60,113.40 270.40,114.13 271.20,114.29 272.00,114.50 272.80,114.56 273.60,114.97 274.40,113.77 275.20,114.53 276.00,113.56 276.80,114.29 277.60,114.13 278.40,114.12 279.20,114.50 280.00,114.01 280.80,114.52 281.60,114.47 282.40,114.03 283.20,113.53 284.00,113.30 284.80,113.37 285.60,113.54 286.40,113.66 287.20,115.34 288.00,114.35 288.80,114.20 289.60,113.24 290.40,113.12 291.20,113.29 292.00,113.59 292.80,112.95 293.60,114.28 294.40,113.31 295.20,114.02 296.00,112.23 296.80,113.15 297.60,113.48 298.40,113.48 299.20,113.69 300.00,113.53 300.80,113.41 301.60,112.22 302.40,112.62 303.20,111.76 304.00,113.24 304.80,113.33 305.60,113.05 306.40,112.62 307.20,112.65 308.00,113.99 308.80,114.17 309.60,113.19 310.40,113.72 311.20,112.20 312.00,111.68 312.80,112.37 313.60,112.26 314.40,112.40 315.20,112.82 316.00,114.48 316.80,112.72 317.60,112.75 318.40,112.86 319.20,112.69 320.00,113.17 320.80,113.72 321.60,112.12 322.40,112.57 323.20,112.40 324.00,112.69 324.80,111.67 325.60,111.32 326.40,110.91 327.20,112.40 328.00,112.50 328.80,112.43 329.60,111.03 330.40,111.84 331.20,111.77 332.00,111.36 332.80,111.54 333.60,112.46 334.40,112.54 335.20,112.21 336.00,112.43 336.80,111.83 337.60,112.06 338.40,112.07 339.20,112.34 340.00,112.02 340.80,111.91 341.60,111.89 342.40,111.59 343.20,113.13 344.00,112.47 344.80,112.28 345.60,113.28 346.40,112.98 347.20,111.25 348.00,112.16 348.80,112.41 349.60,113.04 350.40,112.84 351.20,112.49 352.00,111.32 352.80,111.25 353.60,111.86 354.40,112.11 355.20,111.30 356.00,111.48 356.80,111.50 357.60,111.76 358.40,111.95 359.20,111.64 360.00,111.03 360.80,112.29 361.60,112.73 362.40,111.86 363.20,112.31 364.00,112.07 364.80,112.13 365.60,112.04 366.40,111.31 367.20,111.91 368.00,112.27 368.80,111.26 369.60,112.66 370.40,113.00 371.20,112.91 372.00,112.97 372.80,112.28 373.60,111.53 374.40,111.22 375.20,111.04 376.00,111.51 376.80,111.51 377.60,111.90 378.40,110.46 379.20,112.59 380.00,112.99 380.80,111.76 381.60,111.90 382.40,111.79 383.20,111.64 384.00,111.33 384.80,111.30 385.60,110.88 386.40,111.34 387.20,111.31 388.00,111.48 388.80,110.84 389.60,111.19 390.40,111.25 391.20,111.56 392.00,110.67 392.80,111.31 393.60,111.74 394.40,111.59 395.20,111.00 396.00,110.80 396.80,110.89 397.60,111.43 398.40,111.98 399.20,111.12 400.00,110.66 400.80,111.12 401.60,111.10 402.40,110.46 403.20,110.41 404.00,110.74 404.80,111.22 405.60,110.26 406.40,110.15 407.20,110.96 408.00,110.14 408.80,110.71 409.60,110.94 410.40,110.71 411.20,110.14 412.00,110.55 412.80,110.46 413.60,110.81 414.40,110.20 415.20,111.14 416.00,109.77 416.80,110.31 417.60,110.51 418.40,111.07 419.20,110.29 420.00,110.76 420.80,110.22 421.60,110.83 422.40,111.50 423.20,110.43 424.00,110.68 424.80,109.95 425.60,110.86 426.40,111.16 427.20,110.55 428.00,109.77 428.80,110.46 429.60,111.00 430.40,111.07 431.20,110.92 432.00,109.40 432.80,109.73 433.60,110.96 434.40,109.71 435.20,110.77 436.00,111.39 436.80,110.88 437.60,110.97 438.40,110.16 439.20,109.49 440.00,109.97 440.80,110.00 441.60,110.08 442.40,110.51 443.20,110.11 444.00,110.21 444.80,110.35 445.60,110.12 446.40,111.10 447.20,110.50 448.00,110.17 448.80,109.93 449.60,109.64 450.40,110.67 451.20,110.20 452.00,109.41 452.80,109.54 453.60,109.79 454.40,109.66 455.20,110.49 456.00,109.38 456.80,110.08 457.60,110.02 458.40,109.26 459.20,109.78 460.00,109.80 460.80,110.13 461.60,109.66 462.40,109.98 463.20,108.93 464.00,109.04 464.80,110.10 465.60,110.44 466.40,109.92 467.20,109.47 468.00,110.32 468.80,108.70 469.60,109.09 470.40,109.99 471.20,110.15 472.00,109.23 472.80,108.56 473.60,110.29 474.40,109.90 475.20,109.22 476.00,109.61 476.80,110.16 477.60,108.30 478.40,110.00 479.20,110.12 480.00,108.56 480.80,109.83 481.60,108.65 482.40,110.04 483.20,109.90 484.00,110.90 484.80,109.49 485.60,109.54 486.40,110.13 487.20,109.29 488.00,109.08 488.80,109.22 489.60,109.40 490.40,108.86 491.20,109.60 492.00,109.76 492.80,109.50 493.60,110.34 494.40,109.35 495.20,110.04 496.00,109.12 496.80,109.64 497.60,108.21 498.40,109.09 499.20,109.04 500.00,108.82 500.80,108.69 501.60,108.79 502.40,108.58 503.20,107.69 504.00,108.38 504.80,108.52 505.60,108.54 506.40,108.22 507.20,108.65 508.00,109.22 508.80,108.73 509.60,108.48 510.40,109.44 511.20,109.39 512.00,109.33 512.80,109.42 513.60,108.59 514.40,108.51 515.20,109.16 516.00,108.34 516.80,108.39 517.60,108.66 518.40,108.68 519.20,108.30 520.00,108.90 520.80,108.35 521.60,108.72 522.40,108.97 523.20,108.76 524.00,108.74 524.80,107.65 525.60,107.32 526.40,107.62 527.20,108.27 528.00,108.95 528.80,107.54 529.60,108.08 530.40,107.54 531.20,107.50 532.00,107.74 532.80,108.34 533.60,108.19 534.40,108.70" fill="none" stroke="#ee0000" stroke-width="2.6" stroke-linejoin="round" stroke-linecap="round" clip-path="url(#cpb)"/>
<polyline points="25.60,101.70 26.40,104.07 27.20,103.21 28.00,103.47 28.80,102.78 29.60,101.57 30.40,102.37 31.20,101.52 32.00,99.87 32.80,100.34 33.60,99.92 34.40,101.06 35.20,98.85 36.00,99.04 36.80,98.99 37.60,97.15 38.40,97.89 39.20,96.93 40.00,97.59 40.80,96.65 41.60,99.29 42.40,98.67 43.20,99.49 44.00,98.57 44.80,99.11 45.60,97.68 46.40,96.85 47.20,97.96 48.00,97.08 48.80,97.19 49.60,97.81 50.40,96.28 51.20,95.80 52.00,95.55 52.80,95.83 53.60,94.69 54.40,93.91 55.20,91.18 56.00,91.92 56.80,95.52 57.60,96.98 58.40,95.41 59.20,94.73 60.00,95.27 60.80,94.77 61.60,96.80 62.40,96.95 63.20,97.42 64.00,98.38 64.80,100.70 65.60,101.95 66.40,101.68 67.20,102.97 68.00,103.06 68.80,103.89 69.60,104.81 70.40,104.35 71.20,104.66 72.00,105.81 72.80,103.24 73.60,105.16 74.40,105.83 75.20,105.76 76.00,106.12 76.80,104.50 77.60,105.75 78.40,106.55 79.20,104.11 80.00,106.82 80.80,105.97 81.60,105.92 82.40,107.06 83.20,105.10 84.00,106.87 84.80,108.24 85.60,108.73 86.40,109.12 87.20,109.33 88.00,108.36 88.80,106.32 89.60,109.14 90.40,110.88 91.20,110.14 92.00,110.36 92.80,109.61 93.60,110.56 94.40,110.85 95.20,109.57 96.00,107.10 96.80,109.53 97.60,109.30 98.40,111.27 99.20,108.79 100.00,108.66 100.80,109.76 101.60,110.67 102.40,109.60 103.20,111.29 104.00,110.28 104.80,110.50 105.60,110.69 106.40,110.03 107.20,109.31 108.00,109.71 108.80,110.90 109.60,111.12 110.40,110.44 111.20,108.56 112.00,109.90 112.80,110.33 113.60,109.90 114.40,111.34 115.20,110.94 116.00,109.07 116.80,109.69 117.60,109.25 118.40,110.66 119.20,109.87 120.00,110.74 120.80,110.97 121.60,109.61 122.40,109.56 123.20,110.25 124.00,111.47 124.80,109.74 125.60,109.80 126.40,109.45 127.20,109.11 128.00,110.21 128.80,110.27 129.60,109.87 130.40,109.68 131.20,109.33 132.00,109.86 132.80,110.03 133.60,110.38 134.40,108.78 135.20,110.66 136.00,110.38 136.80,107.68 137.60,109.61 138.40,109.35 139.20,109.70 140.00,109.42 140.80,109.57 141.60,109.58 142.40,108.50 143.20,108.83 144.00,109.96 144.80,108.93 145.60,109.82 146.40,109.62 147.20,109.81 148.00,109.42 148.80,109.87 149.60,110.00 150.40,109.95 151.20,110.19 152.00,110.54 152.80,110.24 153.60,110.41 154.40,111.59 155.20,110.03 156.00,109.28 156.80,109.74 157.60,110.19 158.40,110.97 159.20,109.65 160.00,109.30 160.80,109.20 161.60,108.97 162.40,110.07 163.20,109.92 164.00,109.66 164.80,109.75 165.60,110.73 166.40,109.49 167.20,109.61 168.00,109.37 168.80,109.98 169.60,109.55 170.40,108.71 171.20,108.79 172.00,109.51 172.80,109.26 173.60,111.09 174.40,109.36 175.20,110.81 176.00,110.47 176.80,110.81 177.60,110.08 178.40,108.44 179.20,109.14 180.00,109.96 180.80,110.11 181.60,110.83 182.40,109.54 183.20,110.36 184.00,109.89 184.80,109.75 185.60,110.65 186.40,110.41 187.20,110.43 188.00,110.31 188.80,109.66 189.60,109.59 190.40,108.42 191.20,108.14 192.00,107.08 192.80,109.91 193.60,109.50 194.40,109.99 195.20,110.03 196.00,109.44 196.80,109.48 197.60,108.87 198.40,109.09 199.20,110.05 200.00,107.91 200.80,109.10 201.60,109.88 202.40,108.54 203.20,108.43 204.00,109.28 204.80,109.16 205.60,109.24 206.40,107.61 207.20,107.93 208.00,107.60 208.80,110.58 209.60,109.81 210.40,108.74 211.20,108.51 212.00,109.13 212.80,108.65 213.60,108.05 214.40,108.87 215.20,110.00 216.00,109.57 216.80,109.66 217.60,110.94 218.40,109.36 219.20,110.29 220.00,109.26 220.80,108.84 221.60,108.31 222.40,109.87 223.20,109.15 224.00,106.92 224.80,110.33 225.60,109.17 226.40,109.32 227.20,108.59 228.00,108.73 228.80,108.83 229.60,109.34 230.40,108.89 231.20,109.02 232.00,109.88 232.80,109.81 233.60,108.80 234.40,108.91 235.20,108.14 236.00,108.86 236.80,109.77 237.60,109.60 238.40,108.94 239.20,107.89 240.00,108.80 240.80,108.70 241.60,109.87 242.40,110.84 243.20,110.23 244.00,110.24 244.80,109.20 245.60,109.16 246.40,108.71 247.20,110.04 248.00,108.16 248.80,107.83 249.60,109.07 250.40,108.69 251.20,109.01 252.00,107.88 252.80,107.91 253.60,109.56 254.40,109.98 255.20,109.37 256.00,109.09 256.80,108.57 257.60,108.78 258.40,109.29 259.20,107.21 260.00,108.58 260.80,109.10 261.60,109.67 262.40,108.64 263.20,108.99 264.00,108.28 264.80,105.72 265.60,108.92 266.40,109.41 267.20,109.25 268.00,108.86 268.80,108.03 269.60,109.00 270.40,107.52 271.20,109.27 272.00,108.46 272.80,108.97 273.60,109.03 274.40,108.73 275.20,107.91 276.00,106.06 276.80,108.30 277.60,108.54 278.40,108.84 279.20,108.61 280.00,108.32 280.80,109.21 281.60,106.75 282.40,105.76 283.20,108.40 284.00,106.88 284.80,107.56 285.60,107.63 286.40,109.33 287.20,107.25 288.00,108.14 288.80,107.03 289.60,107.43 290.40,108.77 291.20,107.96 292.00,108.66 292.80,107.88 293.60,108.47 294.40,108.24 295.20,108.19 296.00,107.22 296.80,108.21 297.60,108.63 298.40,108.40 299.20,106.48 300.00,107.16 300.80,107.56 301.60,107.74 302.40,108.58 303.20,108.01 304.00,108.12 304.80,107.74 305.60,106.31 306.40,108.40 307.20,107.82 308.00,107.35 308.80,106.58 309.60,106.69 310.40,107.38 311.20,105.85 312.00,107.91 312.80,106.41 313.60,107.80 314.40,108.55 315.20,108.30 316.00,107.57 316.80,107.21 317.60,106.97 318.40,106.16 319.20,107.99 320.00,106.70 320.80,107.44 321.60,109.17 322.40,108.01 323.20,108.56 324.00,108.07 324.80,107.96 325.60,107.81 326.40,108.65 327.20,108.40 328.00,106.85 328.80,106.82 329.60,106.71 330.40,108.29 331.20,107.66 332.00,106.18 332.80,107.89 333.60,107.33 334.40,105.82 335.20,107.23 336.00,107.37 336.80,106.61 337.60,105.71 338.40,106.90 339.20,106.23 340.00,106.99 340.80,106.87 341.60,107.41 342.40,105.36 343.20,107.02 344.00,107.94 344.80,107.17 345.60,107.35 346.40,106.37 347.20,107.83 348.00,107.93 348.80,106.03 349.60,107.64 350.40,105.76 351.20,107.59 352.00,107.17 352.80,107.53 353.60,107.10 354.40,107.43 355.20,106.31 356.00,108.97 356.80,108.08 357.60,108.29 358.40,107.13 359.20,105.54 360.00,105.03 360.80,106.57 361.60,106.08 362.40,106.16 363.20,106.99 364.00,108.22 364.80,107.30 365.60,106.46 366.40,106.58 367.20,106.79 368.00,108.25 368.80,107.04 369.60,107.05 370.40,106.93 371.20,105.78 372.00,107.77 372.80,106.97 373.60,106.59 374.40,106.45 375.20,106.30 376.00,103.64 376.80,106.54 377.60,106.73 378.40,106.24 379.20,105.97 380.00,106.51 380.80,106.34 381.60,105.51 382.40,104.57 383.20,106.02 384.00,107.72 384.80,106.28 385.60,106.53 386.40,104.94 387.20,105.60 388.00,104.50 388.80,105.78 389.60,105.38 390.40,107.48 391.20,106.27 392.00,105.87 392.80,106.77 393.60,105.70 394.40,106.51 395.20,107.16 396.00,106.33 396.80,105.58 397.60,105.50 398.40,106.96 399.20,107.12 400.00,107.28 400.80,106.59 401.60,105.51 402.40,103.51 403.20,106.43 404.00,105.37 404.80,105.93 405.60,106.95 406.40,105.97 407.20,105.23 408.00,105.50 408.80,105.26 409.60,105.94 410.40,106.88 411.20,104.95 412.00,105.88 412.80,105.94 413.60,106.27 414.40,105.07 415.20,105.56 416.00,106.41 416.80,107.13 417.60,106.80 418.40,102.94 419.20,106.23 420.00,104.73 420.80,105.57 421.60,106.08 422.40,105.05 423.20,105.52 424.00,106.82 424.80,105.94 425.60,106.14 426.40,104.66 427.20,104.93 428.00,106.21 428.80,103.93 429.60,106.24 430.40,106.23 431.20,105.95 432.00,105.49 432.80,106.11 433.60,104.82 434.40,104.41 435.20,105.66 436.00,102.88 436.80,104.68 437.60,106.28 438.40,104.96 439.20,104.42 440.00,103.92 440.80,104.48 441.60,105.20 442.40,104.82 443.20,106.51 444.00,106.27 444.80,104.14 445.60,103.30 446.40,104.71 447.20,105.55 448.00,104.03 448.80,105.46 449.60,104.15 450.40,105.13 451.20,105.26 452.00,105.57 452.80,105.66 453.60,104.31 454.40,106.44 455.20,106.31 456.00,105.68 456.80,104.61 457.60,105.12 458.40,104.62 459.20,104.49 460.00,105.77 460.80,105.83 461.60,105.28 462.40,107.61 463.20,106.00 464.00,105.39 464.80,105.99 465.60,104.85 466.40,105.32 467.20,106.33 468.00,104.70 468.80,105.41 469.60,105.71 470.40,104.73 471.20,105.53 472.00,105.66 472.80,105.08 473.60,106.01 474.40,105.80 475.20,104.98 476.00,105.14 476.80,105.14 477.60,106.52 478.40,104.09 479.20,105.69 480.00,106.26 480.80,103.60 481.60,106.46 482.40,106.11 483.20,104.42 484.00,104.80 484.80,105.09 485.60,104.88 486.40,106.36 487.20,106.95 488.00,106.83 488.80,106.48 489.60,105.39 490.40,105.01 491.20,105.54 492.00,103.42 492.80,105.40 493.60,105.98 494.40,105.21 495.20,105.29 496.00,105.68 496.80,105.19 497.60,105.29 498.40,105.58 499.20,105.67 500.00,106.43 500.80,105.57 501.60,104.74 502.40,105.49 503.20,105.14 504.00,106.20 504.80,105.26 505.60,105.39 506.40,104.56 507.20,103.80 508.00,105.20 508.80,105.67 509.60,105.63 510.40,105.70 511.20,102.98 512.00,105.90 512.80,105.30 513.60,105.92 514.40,105.62 515.20,105.33 516.00,104.83 516.80,106.01 517.60,105.79 518.40,105.57 519.20,102.46 520.00,105.89 520.80,105.93 521.60,104.92 522.40,105.68 523.20,106.10 524.00,106.85 524.80,106.06 525.60,104.73 526.40,105.30 527.20,104.90 528.00,105.66 528.80,105.74 529.60,104.52 530.40,104.93 531.20,105.13 532.00,105.42 532.80,101.16 533.60,104.72 534.40,105.19" fill="none" stroke="#0000ee" stroke-width="2.6" stroke-linejoin="round" stroke-linecap="round" clip-path="url(#cpb)"/>
<polyline points="25.60,102.40 26.40,103.30 27.20,100.39 28.00,101.84 28.80,102.28 29.60,101.45 30.40,101.52 31.20,101.74 32.00,101.41 32.80,101.99 33.60,101.63 34.40,101.95 35.20,100.69 36.00,101.85 36.80,101.97 37.60,101.89 38.40,102.74 39.20,102.51 40.00,102.42 40.80,103.34 41.60,104.06 42.40,105.47 43.20,103.81 44.00,104.25 44.80,101.68 45.60,104.61 46.40,106.30 47.20,106.90 48.00,106.90 48.80,107.97 49.60,106.58 50.40,108.02 51.20,104.40 52.00,106.95 52.80,104.27 53.60,106.26 54.40,103.63 55.20,106.09 56.00,104.59 56.80,106.48 57.60,104.29 58.40,104.38 59.20,104.88 60.00,101.71 60.80,104.04 61.60,102.84 62.40,105.52 63.20,106.63 64.00,104.28 64.80,103.73 65.60,103.08 66.40,103.30 67.20,101.33 68.00,104.67 68.80,103.23 69.60,103.60 70.40,104.72 71.20,103.76 72.00,103.93 72.80,104.42 73.60,103.93 74.40,103.66 75.20,106.79 76.00,105.56 76.80,108.71 77.60,107.69 78.40,105.71 79.20,103.98 80.00,106.73 80.80,107.93 81.60,109.36 82.40,108.47 83.20,107.89 84.00,108.31 84.80,107.47 85.60,106.29 86.40,107.69 87.20,110.77 88.00,105.77 88.80,106.33 89.60,109.59 90.40,108.24 91.20,108.00 92.00,109.77 92.80,108.16 93.60,110.58 94.40,109.58 95.20,107.03 96.00,109.02 96.80,108.60 97.60,108.24 98.40,110.63 99.20,107.99 100.00,108.06 100.80,108.21 101.60,107.83 102.40,107.66 103.20,107.24 104.00,107.97 104.80,108.91 105.60,106.92 106.40,107.84 107.20,106.74 108.00,106.44 108.80,107.28 109.60,109.12 110.40,109.47 111.20,108.46 112.00,105.80 112.80,106.24 113.60,110.08 114.40,107.62 115.20,110.73 116.00,108.15 116.80,108.57 117.60,106.33 118.40,110.02 119.20,109.55 120.00,107.87 120.80,108.52 121.60,107.49 122.40,106.95 123.20,108.51 124.00,108.25 124.80,109.40 125.60,108.14 126.40,109.85 127.20,110.50 128.00,109.13 128.80,109.26 129.60,105.85 130.40,108.42 131.20,106.78 132.00,108.95 132.80,109.05 133.60,107.36 134.40,107.06 135.20,109.92 136.00,107.90 136.80,108.69 137.60,107.49 138.40,107.02 139.20,108.00 140.00,106.90 140.80,109.19 141.60,109.44 142.40,107.22 143.20,107.51 144.00,107.92 144.80,108.68 145.60,107.90 146.40,106.04 147.20,108.16 148.00,109.05 148.80,107.06 149.60,107.79 150.40,106.72 151.20,109.57 152.00,109.12 152.80,108.65 153.60,109.18 154.40,110.41 155.20,108.30 156.00,110.26 156.80,107.06 157.60,106.91 158.40,109.15 159.20,108.60 160.00,108.15 160.80,108.64 161.60,109.95 162.40,107.89 163.20,108.06 164.00,109.44 164.80,104.20 165.60,109.53 166.40,106.33 167.20,108.24 168.00,107.00 168.80,107.64 169.60,107.95 170.40,109.31 171.20,105.93 172.00,109.30 172.80,109.07 173.60,107.81 174.40,106.84 175.20,108.69 176.00,109.50 176.80,108.44 177.60,107.16 178.40,108.12 179.20,107.74 180.00,107.51 180.80,105.60 181.60,109.69 182.40,105.95 183.20,110.54 184.00,108.85 184.80,108.42 185.60,109.47 186.40,107.73 187.20,108.53 188.00,110.05 188.80,107.48 189.60,108.87 190.40,108.91 191.20,110.90 192.00,108.58 192.80,108.74 193.60,108.00 194.40,107.70 195.20,105.51 196.00,107.84 196.80,105.91 197.60,108.12 198.40,107.40 199.20,108.50 200.00,108.63 200.80,108.41 201.60,108.59 202.40,108.20 203.20,108.54 204.00,109.37 204.80,109.00 205.60,107.01 206.40,108.50 207.20,109.38 208.00,108.00 208.80,108.96 209.60,109.06 210.40,107.45 211.20,104.53 212.00,109.51 212.80,109.00 213.60,108.37 214.40,107.71 215.20,107.83 216.00,108.54 216.80,109.24 217.60,108.88 218.40,107.05 219.20,109.55 220.00,108.59 220.80,108.21 221.60,106.71 222.40,108.22 223.20,108.78 224.00,110.11 224.80,109.40 225.60,105.54 226.40,110.78 227.20,110.49 228.00,108.93 228.80,107.94 229.60,108.97 230.40,103.56 231.20,106.40 232.00,107.60 232.80,105.22 233.60,107.25 234.40,105.48 235.20,106.77 236.00,109.05 236.80,107.45 237.60,108.70 238.40,109.62 239.20,107.65 240.00,108.13 240.80,109.69 241.60,106.92 242.40,107.75 243.20,110.16 244.00,108.88 244.80,108.45 245.60,107.98 246.40,107.08 247.20,107.12 248.00,109.18 248.80,108.36 249.60,106.57 250.40,108.25 251.20,108.20 252.00,106.44 252.80,109.20 253.60,106.96 254.40,108.91 255.20,107.94 256.00,109.17 256.80,110.07 257.60,108.40 258.40,110.21 259.20,105.62 260.00,106.28 260.80,109.48 261.60,109.34 262.40,108.01 263.20,109.81 264.00,107.28 264.80,108.67 265.60,107.54 266.40,105.53 267.20,107.40 268.00,107.44 268.80,107.14 269.60,109.60 270.40,107.57 271.20,108.42 272.00,107.27 272.80,107.66 273.60,105.01 274.40,107.29 275.20,106.63 276.00,105.55 276.80,109.05 277.60,108.14 278.40,110.99 279.20,107.67 280.00,106.94 280.80,106.39 281.60,108.37 282.40,109.15 283.20,109.09 284.00,107.98 284.80,109.96 285.60,107.96 286.40,109.16 287.20,108.17 288.00,107.65 288.80,108.20 289.60,107.88 290.40,109.27 291.20,106.67 292.00,108.64 292.80,108.17 293.60,107.30 294.40,106.77 295.20,108.22 296.00,108.44 296.80,107.26 297.60,105.28 298.40,108.24 299.20,107.57 300.00,107.86 300.80,107.40 301.60,107.05 302.40,108.86 303.20,108.31 304.00,107.15 304.80,107.99 305.60,108.65 306.40,106.98 307.20,108.99 308.00,109.54 308.80,108.57 309.60,109.11 310.40,108.23 311.20,107.81 312.00,107.41 312.80,108.18 313.60,108.59 314.40,108.86 315.20,108.37 316.00,107.50 316.80,107.66 317.60,105.79 318.40,106.77 319.20,109.70 320.00,109.64 320.80,109.01 321.60,109.80 322.40,107.74 323.20,110.21 324.00,109.06 324.80,108.42 325.60,107.28 326.40,106.82 327.20,104.48 328.00,107.72 328.80,108.92 329.60,108.01 330.40,107.85 331.20,108.97 332.00,109.00 332.80,109.34 333.60,108.48 334.40,106.93 335.20,107.79 336.00,109.10 336.80,107.84 337.60,107.93 338.40,108.29 339.20,109.35 340.00,103.52 340.80,108.42 341.60,106.39 342.40,107.64 343.20,109.08 344.00,107.63 344.80,108.83 345.60,111.74 346.40,108.88 347.20,107.43 348.00,107.40 348.80,107.30 349.60,107.49 350.40,107.48 351.20,106.15 352.00,107.73 352.80,107.51 353.60,107.99 354.40,108.34 355.20,108.50 356.00,108.25 356.80,107.75 357.60,106.35 358.40,107.58 359.20,109.10 360.00,105.42 360.80,106.83 361.60,107.45 362.40,108.20 363.20,107.47 364.00,108.06 364.80,106.51 365.60,107.72 366.40,105.80 367.20,107.13 368.00,108.77 368.80,109.57 369.60,102.92 370.40,106.40 371.20,106.78 372.00,107.18 372.80,108.15 373.60,108.80 374.40,108.05 375.20,104.05 376.00,105.28 376.80,106.48 377.60,105.47 378.40,107.04 379.20,106.25 380.00,107.22 380.80,108.07 381.60,107.26 382.40,108.72 383.20,107.16 384.00,106.36 384.80,106.80 385.60,107.14 386.40,106.49 387.20,106.99 388.00,105.92 388.80,106.22 389.60,104.75 390.40,107.90 391.20,104.94 392.00,108.54 392.80,105.90 393.60,105.39 394.40,107.12 395.20,108.41 396.00,107.42 396.80,105.34 397.60,103.52 398.40,106.09 399.20,104.66 400.00,106.90 400.80,107.30 401.60,106.56 402.40,106.66 403.20,106.43 404.00,107.00 404.80,106.33 405.60,105.88 406.40,107.31 407.20,106.84 408.00,106.51 408.80,105.11 409.60,104.97 410.40,105.98 411.20,105.22 412.00,105.62 412.80,105.70 413.60,104.82 414.40,107.14 415.20,106.37 416.00,105.67 416.80,105.53 417.60,104.12 418.40,107.17 419.20,107.02 420.00,106.60 420.80,107.38 421.60,106.15 422.40,106.79 423.20,105.96 424.00,105.64 424.80,105.46 425.60,107.31 426.40,106.58 427.20,105.47 428.00,105.72 428.80,106.40 429.60,106.62 430.40,104.31 431.20,105.23 432.00,104.11 432.80,106.05 433.60,105.88 434.40,107.67 435.20,104.90 436.00,106.47 436.80,106.54 437.60,105.38 438.40,104.23 439.20,106.36 440.00,106.04 440.80,105.16 441.60,104.76 442.40,104.94 443.20,103.57 444.00,107.48 444.80,104.48 445.60,103.79 446.40,102.63 447.20,105.83 448.00,105.05 448.80,105.13 449.60,105.63 450.40,104.85 451.20,105.36 452.00,105.55 452.80,105.14 453.60,103.75 454.40,105.56 455.20,105.49 456.00,104.57 456.80,104.15 457.60,105.41 458.40,105.61 459.20,104.98 460.00,106.81 460.80,103.69 461.60,104.12 462.40,104.31 463.20,104.80 464.00,104.32 464.80,106.37 465.60,106.24 466.40,104.94 467.20,106.04 468.00,105.50 468.80,104.10 469.60,104.31 470.40,105.28 471.20,103.05 472.00,103.73 472.80,106.73 473.60,103.29 474.40,104.86 475.20,103.87 476.00,103.89 476.80,105.35 477.60,105.57 478.40,104.04 479.20,104.50 480.00,103.69 480.80,106.16 481.60,104.56 482.40,104.47 483.20,106.07 484.00,105.56 484.80,105.61 485.60,103.44 486.40,106.11 487.20,106.30 488.00,106.63 488.80,104.52 489.60,104.22 490.40,103.53 491.20,104.67 492.00,105.03 492.80,104.01 493.60,102.53 494.40,105.14 495.20,104.93 496.00,104.72 496.80,103.46 497.60,104.65 498.40,103.95 499.20,105.87 500.00,106.06 500.80,103.62 501.60,103.95 502.40,104.22 503.20,103.24 504.00,104.23 504.80,104.10 505.60,103.82 506.40,106.04 507.20,104.23 508.00,105.88 508.80,104.95 509.60,104.12 510.40,104.67 511.20,104.76 512.00,103.54 512.80,104.65 513.60,103.80 514.40,103.46 515.20,104.83 516.00,104.81 516.80,105.40 517.60,105.12 518.40,105.81 519.20,106.31 520.00,106.80 520.80,104.92 521.60,103.88 522.40,104.57 523.20,102.34 524.00,104.35 524.80,104.71 525.60,106.70 526.40,103.15 527.20,103.81 528.00,104.21 528.80,103.17 529.60,105.04 530.40,103.42 531.20,105.01 532.00,105.54 532.80,104.64 533.60,104.58 534.40,105.34" fill="none" stroke="#00f000" stroke-width="2.6" stroke-linejoin="round" stroke-linecap="round" clip-path="url(#cpb)"/>
<polyline points="25.60,183.47 26.40,183.42 27.20,184.54 28.00,185.30 28.80,184.23 29.60,182.97 30.40,183.51 31.20,182.63 32.00,183.23 32.80,184.76 33.60,183.77 34.40,183.12 35.20,183.71 36.00,182.80 36.80,183.07 37.60,182.98 38.40,183.08 39.20,181.70 40.00,182.91 40.80,183.22 41.60,181.00 42.40,180.20 43.20,181.27 44.00,183.12 44.80,182.40 45.60,182.64 46.40,182.53 47.20,182.66 48.00,181.53 48.80,181.27 49.60,181.82 50.40,182.14 51.20,182.34 52.00,182.34 52.80,181.89 53.60,183.05 54.40,182.96 55.20,183.51 56.00,181.27 56.80,183.53 57.60,181.73 58.40,183.44 59.20,183.35 60.00,184.08 60.80,184.35 61.60,184.99 62.40,185.94 63.20,186.41 64.00,185.04 64.80,183.05 65.60,183.60 66.40,184.38 67.20,183.27 68.00,183.67 68.80,182.91 69.60,182.06 70.40,183.46 71.20,184.44 72.00,183.67 72.80,183.83 73.60,184.86 74.40,183.73 75.20,184.08 76.00,185.75 76.80,186.11 77.60,185.38 78.40,185.23 79.20,186.19 80.00,185.33 80.80,185.99 81.60,186.51 82.40,185.21 83.20,187.32 84.00,188.06 84.80,188.61 85.60,187.21 86.40,187.33 87.20,187.97 88.00,188.03 88.80,190.72 89.60,189.38 90.40,189.97 91.20,190.92 92.00,191.74 92.80,193.06 93.60,191.96 94.40,193.60 95.20,193.69 96.00,192.61 96.80,193.27 97.60,192.23 98.40,194.11 99.20,192.75 100.00,193.65 100.80,193.94 101.60,192.53 102.40,191.95 103.20,192.48 104.00,191.64 104.80,192.77 105.60,192.38 106.40,191.54 107.20,191.33 108.00,192.20 108.80,190.72 109.60,192.58 110.40,191.17 111.20,191.38 112.00,190.96 112.80,192.74 113.60,192.58 114.40,192.94 115.20,192.60 116.00,192.18 116.80,193.30 117.60,192.83 118.40,192.63 119.20,192.74 120.00,192.93 120.80,192.63 121.60,192.25 122.40,191.15 123.20,193.54 124.00,191.62 124.80,190.62 125.60,191.45 126.40,193.52 127.20,193.42 128.00,192.09 128.80,192.45 129.60,192.31 130.40,190.88 131.20,191.78 132.00,192.40 132.80,193.16 133.60,191.61 134.40,190.54 135.20,190.82 136.00,192.24 136.80,192.35 137.60,192.42 138.40,192.43 139.20,192.06 140.00,191.27 140.80,192.36 141.60,192.47 142.40,192.58 143.20,193.03 144.00,191.29 144.80,190.10 145.60,190.21 146.40,193.00 147.20,191.31 148.00,191.86 148.80,191.63 149.60,192.06 150.40,193.93 151.20,191.66 152.00,191.48 152.80,191.16 153.60,191.73 154.40,192.07 155.20,191.09 156.00,192.56 156.80,192.76 157.60,192.32 158.40,191.86 159.20,191.70 160.00,190.68 160.80,192.16 161.60,191.31 162.40,191.50 163.20,192.65 164.00,191.52 164.80,191.61 165.60,192.64 166.40,193.60 167.20,191.98 168.00,192.97 168.80,191.93 169.60,192.50 170.40,192.68 171.20,191.53 172.00,192.84 172.80,193.64 173.60,192.52 174.40,192.44 175.20,191.37 176.00,193.27 176.80,192.39 177.60,191.23 178.40,192.45 179.20,191.08 180.00,191.34 180.80,190.34 181.60,192.65 182.40,193.69 183.20,191.84 184.00,191.43 184.80,191.39 185.60,191.37 186.40,192.16 187.20,192.95 188.00,191.32 188.80,192.02 189.60,190.52 190.40,192.60 191.20,191.84 192.00,191.23 192.80,192.70 193.60,191.80 194.40,192.66 195.20,192.60 196.00,192.99 196.80,191.29 197.60,191.55 198.40,191.80 199.20,191.43 200.00,192.58 200.80,191.19 201.60,192.14 202.40,192.58 203.20,190.28 204.00,190.52 204.80,190.60 205.60,190.87 206.40,191.59 207.20,191.32 208.00,191.44 208.80,191.07 209.60,191.26 210.40,191.69 211.20,191.96 212.00,190.91 212.80,191.17 213.60,190.75 214.40,191.08 215.20,190.23 216.00,191.77 216.80,191.87 217.60,191.31 218.40,190.78 219.20,190.83 220.00,190.69 220.80,190.02 221.60,192.16 222.40,193.77 223.20,190.84 224.00,190.29 224.80,191.42 225.60,191.66 226.40,190.13 227.20,189.57 228.00,191.22 228.80,189.72 229.60,191.87 230.40,190.91 231.20,191.13 232.00,191.10 232.80,190.69 233.60,190.90 234.40,190.82 235.20,191.91 236.00,191.15 236.80,191.04 237.60,190.65 238.40,190.49 239.20,190.37 240.00,190.88 240.80,192.26 241.60,191.98 242.40,191.26 243.20,192.12 244.00,191.79 244.80,191.11 245.60,190.67 246.40,189.88 247.20,190.66 248.00,190.38 248.80,189.37 249.60,189.36 250.40,191.64 251.20,190.83 252.00,190.84 252.80,190.59 253.60,190.03 254.40,190.55 255.20,191.08 256.00,190.14 256.80,190.52 257.60,190.93 258.40,189.89 259.20,190.12 260.00,189.48 260.80,190.33 261.60,189.80 262.40,190.79 263.20,189.61 264.00,191.14 264.80,190.00 265.60,189.40 266.40,189.23 267.20,190.32 268.00,189.45 268.80,191.19 269.60,191.16 270.40,190.61 271.20,189.10 272.00,189.80 272.80,189.44 273.60,188.58 274.40,190.02 275.20,191.59 276.00,189.93 276.80,190.57 277.60,191.04 278.40,189.52 279.20,189.66 280.00,190.12 280.80,190.36 281.60,189.25 282.40,190.01 283.20,189.92 284.00,190.67 284.80,188.98 285.60,189.39 286.40,189.52 287.20,189.68 288.00,190.46 288.80,189.64 289.60,191.90 290.40,189.87 291.20,190.58 292.00,190.85 292.80,190.86 293.60,190.03 294.40,189.41 295.20,189.70 296.00,190.42 296.80,190.17 297.60,190.45 298.40,190.50 299.20,189.46 300.00,189.22 300.80,190.84 301.60,189.75 302.40,188.70 303.20,190.94 304.00,189.42 304.80,189.01 305.60,190.27 306.40,188.97 307.20,188.87 308.00,190.20 308.80,189.09 309.60,191.23 310.40,189.89 311.20,191.46 312.00,189.90 312.80,189.50 313.60,188.89 314.40,189.03 315.20,188.83 316.00,189.10 316.80,189.70 317.60,188.31 318.40,188.26 319.20,187.37 320.00,189.75 320.80,189.06 321.60,188.93 322.40,188.84 323.20,189.56 324.00,189.17 324.80,189.45 325.60,188.74 326.40,188.60 327.20,188.58 328.00,187.25 328.80,189.07 329.60,187.49 330.40,187.58 331.20,188.80 332.00,188.60 332.80,189.11 333.60,189.85 334.40,190.11 335.20,189.82 336.00,188.60 336.80,190.00 337.60,188.17 338.40,188.37 339.20,189.19 340.00,188.48 340.80,188.41 341.60,188.23 342.40,189.43 343.20,186.91 344.00,189.10 344.80,189.38 345.60,188.62 346.40,188.93 347.20,187.89 348.00,189.18 348.80,190.84 349.60,188.31 350.40,189.47 351.20,188.65 352.00,188.29 352.80,188.11 353.60,188.28 354.40,187.56 355.20,187.33 356.00,189.46 356.80,188.68 357.60,188.93 358.40,188.81 359.20,188.91 360.00,187.48 360.80,187.71 361.60,188.98 362.40,189.57 363.20,188.23 364.00,188.45 364.80,188.22 365.60,189.49 366.40,189.61 367.20,189.48 368.00,189.05 368.80,189.76 369.60,189.75 370.40,189.28 371.20,190.04 372.00,189.55 372.80,190.70 373.60,190.77 374.40,189.92 375.20,190.75 376.00,190.62 376.80,190.12 377.60,189.94 378.40,189.45 379.20,189.82 380.00,191.03 380.80,191.86 381.60,190.68 382.40,191.00 383.20,191.18 384.00,191.51 384.80,191.32 385.60,191.83 386.40,191.59 387.20,190.42 388.00,191.01 388.80,189.13 389.60,190.30 390.40,190.66 391.20,191.12 392.00,190.56 392.80,191.25 393.60,191.73 394.40,190.25 395.20,190.15 396.00,190.69 396.80,190.95 397.60,190.74 398.40,191.17 399.20,189.80 400.00,190.91 400.80,191.41 401.60,191.45 402.40,190.96 403.20,190.37 404.00,190.69 404.80,190.40 405.60,189.25 406.40,189.71 407.20,190.19 408.00,189.94 408.80,189.57 409.60,189.99 410.40,189.96 411.20,190.26 412.00,190.22 412.80,190.36 413.60,190.97 414.40,190.46 415.20,190.54 416.00,189.37 416.80,187.88 417.60,189.40 418.40,190.47 419.20,189.94 420.00,189.62 420.80,189.09 421.60,190.51 422.40,189.76 423.20,190.15 424.00,190.86 424.80,190.56 425.60,191.71 426.40,190.22 427.20,190.69 428.00,190.59 428.80,189.58 429.60,189.87 430.40,189.48 431.20,189.06 432.00,189.91 432.80,189.30 433.60,190.93 434.40,189.50 435.20,189.34 436.00,189.75 436.80,189.39 437.60,189.71 438.40,189.29 439.20,188.60 440.00,187.74 440.80,188.41 441.60,190.60 442.40,190.29 443.20,190.05 444.00,189.58 444.80,189.74 445.60,190.13 446.40,189.01 447.20,189.24 448.00,189.25 448.80,190.83 449.60,189.50 450.40,190.87 451.20,189.99 452.00,192.14 452.80,190.58 453.60,190.38 454.40,191.31 455.20,191.19 456.00,191.24 456.80,189.83 457.60,191.16 458.40,191.85 459.20,190.73 460.00,190.26 460.80,189.75 461.60,191.20 462.40,190.99 463.20,190.78 464.00,189.86 464.80,191.77 465.60,191.64 466.40,191.00 467.20,191.97 468.00,190.45 468.80,191.49 469.60,190.37 470.40,191.89 471.20,190.98 472.00,191.88 472.80,190.88 473.60,191.26 474.40,191.87 475.20,190.53 476.00,190.97 476.80,190.39 477.60,191.49 478.40,190.66 479.20,190.66 480.00,190.79 480.80,191.80 481.60,190.41 482.40,190.86 483.20,190.74 484.00,190.55 484.80,190.34 485.60,190.75 486.40,191.09 487.20,189.90 488.00,190.95 488.80,190.14 489.60,190.84 490.40,192.61 491.20,190.63 492.00,190.88 492.80,190.79 493.60,191.67 494.40,190.79 495.20,189.67 496.00,189.57 496.80,190.84 497.60,191.15 498.40,191.80 499.20,190.77 500.00,191.43 500.80,190.38 501.60,191.91 502.40,191.28 503.20,190.76 504.00,191.31 504.80,192.60 505.60,191.03 506.40,190.48 507.20,190.58 508.00,190.54 508.80,191.38 509.60,191.88 510.40,191.65 511.20,191.91 512.00,192.72 512.80,191.86 513.60,191.04 514.40,190.18 515.20,191.87 516.00,191.59 516.80,191.89 517.60,192.47 518.40,192.67 519.20,191.29 520.00,191.50 520.80,192.15 521.60,192.02 522.40,192.82 523.20,191.69 524.00,190.23 524.80,192.17 525.60,190.43 526.40,190.46 527.20,191.35 528.00,190.38 528.80,192.64 529.60,191.36 530.40,191.22 531.20,190.39 532.00,192.03 532.80,191.05 533.60,189.85 534.40,190.92" fill="none" stroke="#ee0000" stroke-width="2.6" stroke-linejoin="round" stroke-linecap="round" clip-path="url(#cpc)"/>
<polyline points="25.60,186.32 26.40,186.52 27.20,186.91 28.00,186.59 28.80,185.46 29.60,186.78 30.40,186.80 31.20,184.99 32.00,185.46 32.80,184.73 33.60,184.63 34.40,185.53 35.20,184.99 36.00,184.63 36.80,184.62 37.60,183.61 38.40,185.04 39.20,183.81 40.00,184.96 40.80,183.83 41.60,183.52 42.40,184.76 43.20,183.99 44.00,183.15 44.80,182.96 45.60,183.83 46.40,185.01 47.20,184.43 48.00,183.68 48.80,183.10 49.60,183.39 50.40,183.76 51.20,183.87 52.00,183.05 52.80,184.09 53.60,182.50 54.40,182.16 55.20,182.63 56.00,181.99 56.80,180.60 57.60,180.65 58.40,178.44 59.20,179.76 60.00,179.97 60.80,182.04 61.60,182.80 62.40,185.34 63.20,185.06 64.00,186.62 64.80,185.26 65.60,184.95 66.40,184.81 67.20,183.07 68.00,184.45 68.80,186.58 69.60,184.13 70.40,186.80 71.20,188.74 72.00,189.66 72.80,190.31 73.60,191.94 74.40,192.15 75.20,191.08 76.00,191.65 76.80,192.40 77.60,193.05 78.40,192.93 79.20,193.34 80.00,194.87 80.80,192.30 81.60,195.11 82.40,195.90 83.20,196.21 84.00,196.23 84.80,196.65 85.60,197.12 86.40,197.26 87.20,196.74 88.00,197.87 88.80,196.02 89.60,195.51 90.40,194.74 91.20,193.79 92.00,194.58 92.80,193.97 93.60,192.78 94.40,193.04 95.20,191.99 96.00,193.96 96.80,193.79 97.60,194.90 98.40,193.38 99.20,194.08 100.00,193.10 100.80,192.50 101.60,192.56 102.40,192.56 103.20,192.56 104.00,191.33 104.80,191.70 105.60,191.65 106.40,190.34 107.20,190.58 108.00,190.10 108.80,191.88 109.60,190.62 110.40,191.46 111.20,191.74 112.00,191.05 112.80,190.84 113.60,191.48 114.40,190.89 115.20,190.46 116.00,190.46 116.80,191.31 117.60,191.29 118.40,192.32 119.20,189.86 120.00,190.95 120.80,190.24 121.60,191.95 122.40,192.15 123.20,191.98 124.00,193.10 124.80,192.19 125.60,191.81 126.40,191.24 127.20,191.31 128.00,191.78 128.80,192.17 129.60,192.58 130.40,191.63 131.20,191.34 132.00,191.76 132.80,191.96 133.60,192.17 134.40,192.45 135.20,192.24 136.00,192.52 136.80,192.06 137.60,192.02 138.40,190.95 139.20,191.64 140.00,191.89 140.80,192.11 141.60,191.34 142.40,190.82 143.20,190.65 144.00,190.76 144.80,191.21 145.60,191.59 146.40,190.67 147.20,192.29 148.00,191.08 148.80,191.50 149.60,191.61 150.40,192.70 151.20,193.53 152.00,192.03 152.80,191.69 153.60,191.44 154.40,191.43 155.20,191.36 156.00,193.13 156.80,190.85 157.60,191.00 158.40,190.44 159.20,191.06 160.00,190.46 160.80,191.01 161.60,189.84 162.40,191.78 163.20,190.71 164.00,188.98 164.80,190.30 165.60,189.99 166.40,189.76 167.20,191.15 168.00,191.04 168.80,192.21 169.60,191.82 170.40,192.82 171.20,192.33 172.00,192.28 172.80,192.02 173.60,191.50 174.40,191.29 175.20,191.74 176.00,191.96 176.80,191.14 177.60,192.80 178.40,192.68 179.20,190.57 180.00,191.67 180.80,191.00 181.60,191.02 182.40,190.24 183.20,191.75 184.00,190.23 184.80,190.39 185.60,189.90 186.40,191.63 187.20,191.42 188.00,189.49 188.80,189.66 189.60,190.21 190.40,189.77 191.20,189.81 192.00,189.38 192.80,190.29 193.60,189.59 194.40,190.88 195.20,192.31 196.00,190.73 196.80,191.87 197.60,191.26 198.40,190.47 199.20,190.60 200.00,190.26 200.80,191.01 201.60,191.64 202.40,192.00 203.20,191.28 204.00,190.54 204.80,191.26 205.60,192.70 206.40,192.07 207.20,191.76 208.00,190.34 208.80,191.28 209.60,192.23 210.40,191.38 211.20,192.81 212.00,191.73 212.80,191.29 213.60,191.40 214.40,191.75 215.20,192.59 216.00,191.64 216.80,190.57 217.60,191.56 218.40,192.17 219.20,193.00 220.00,191.27 220.80,192.76 221.60,192.47 222.40,192.25 223.20,191.33 224.00,191.05 224.80,190.93 225.60,192.24 226.40,191.98 227.20,192.52 228.00,193.15 228.80,191.99 229.60,191.70 230.40,193.02 231.20,190.99 232.00,191.19 232.80,191.27 233.60,191.27 234.40,191.63 235.20,191.00 236.00,192.27 236.80,190.73 237.60,190.80 238.40,190.19 239.20,190.25 240.00,191.67 240.80,192.04 241.60,191.58 242.40,192.27 243.20,192.30 244.00,191.50 244.80,191.78 245.60,192.16 246.40,193.45 247.20,192.02 248.00,192.36 248.80,192.60 249.60,193.17 250.40,192.77 251.20,193.20 252.00,191.82 252.80,192.16 253.60,191.09 254.40,192.26 255.20,194.23 256.00,193.19 256.80,192.92 257.60,193.04 258.40,193.03 259.20,192.04 260.00,192.33 260.80,192.75 261.60,193.07 262.40,192.41 263.20,192.81 264.00,192.45 264.80,191.96 265.60,192.33 266.40,192.30 267.20,193.45 268.00,194.04 268.80,193.62 269.60,192.97 270.40,192.61 271.20,191.81 272.00,192.40 272.80,193.99 273.60,194.01 274.40,193.36 275.20,192.90 276.00,192.98 276.80,193.30 277.60,193.05 278.40,193.32 279.20,192.52 280.00,192.94 280.80,192.66 281.60,193.55 282.40,192.02 283.20,193.45 284.00,192.69 284.80,192.19 285.60,192.39 286.40,192.44 287.20,192.13 288.00,192.47 288.80,191.77 289.60,190.78 290.40,192.20 291.20,191.92 292.00,192.99 292.80,192.23 293.60,190.33 294.40,192.17 295.20,191.12 296.00,191.72 296.80,192.95 297.60,192.34 298.40,190.61 299.20,190.91 300.00,189.83 300.80,191.24 301.60,191.45 302.40,190.37 303.20,191.20 304.00,191.70 304.80,191.71 305.60,190.68 306.40,190.45 307.20,190.11 308.00,189.91 308.80,191.01 309.60,191.03 310.40,191.92 311.20,191.38 312.00,190.86 312.80,189.96 313.60,191.88 314.40,191.29 315.20,191.04 316.00,190.30 316.80,190.13 317.60,191.27 318.40,190.38 319.20,191.29 320.00,191.50 320.80,190.83 321.60,189.84 322.40,191.06 323.20,192.00 324.00,190.62 324.80,190.04 325.60,191.58 326.40,191.22 327.20,190.60 328.00,191.79 328.80,190.96 329.60,191.31 330.40,190.88 331.20,190.74 332.00,191.54 332.80,191.11 333.60,190.53 334.40,191.45 335.20,193.04 336.00,193.42 336.80,194.42 337.60,193.95 338.40,194.45 339.20,193.75 340.00,193.28 340.80,193.81 341.60,192.93 342.40,193.96 343.20,193.34 344.00,193.74 344.80,193.05 345.60,193.44 346.40,194.31 347.20,193.67 348.00,193.22 348.80,193.83 349.60,194.38 350.40,193.77 351.20,192.96 352.00,192.55 352.80,192.62 353.60,194.35 354.40,193.90 355.20,194.23 356.00,194.73 356.80,194.29 357.60,194.36 358.40,193.70 359.20,192.79 360.00,194.21 360.80,193.99 361.60,194.43 362.40,193.37 363.20,193.83 364.00,195.44 364.80,193.78 365.60,194.10 366.40,195.03 367.20,194.14 368.00,194.23 368.80,192.66 369.60,194.41 370.40,193.91 371.20,195.04 372.00,194.31 372.80,193.98 373.60,194.49 374.40,194.13 375.20,193.87 376.00,195.27 376.80,195.17 377.60,194.56 378.40,194.93 379.20,195.03 380.00,194.88 380.80,194.50 381.60,194.44 382.40,194.68 383.20,194.85 384.00,194.75 384.80,194.09 385.60,194.32 386.40,194.74 387.20,193.84 388.00,194.34 388.80,194.99 389.60,194.71 390.40,194.26 391.20,194.16 392.00,193.67 392.80,194.43 393.60,193.47 394.40,192.20 395.20,192.13 396.00,193.00 396.80,192.95 397.60,192.30 398.40,191.44 399.20,191.90 400.00,191.37 400.80,191.41 401.60,191.89 402.40,191.44 403.20,192.11 404.00,191.50 404.80,191.59 405.60,191.76 406.40,192.97 407.20,193.31 408.00,192.92 408.80,191.67 409.60,191.95 410.40,192.63 411.20,192.69 412.00,190.99 412.80,191.77 413.60,191.43 414.40,192.42 415.20,192.53 416.00,191.75 416.80,193.46 417.60,192.11 418.40,193.74 419.20,192.24 420.00,191.99 420.80,193.39 421.60,192.03 422.40,191.87 423.20,193.24 424.00,192.52 424.80,192.78 425.60,191.69 426.40,193.65 427.20,193.52 428.00,193.11 428.80,193.33 429.60,192.58 430.40,192.52 431.20,191.77 432.00,193.05 432.80,193.97 433.60,193.93 434.40,194.03 435.20,193.95 436.00,192.84 436.80,192.44 437.60,193.75 438.40,193.74 439.20,194.36 440.00,193.67 440.80,193.00 441.60,193.76 442.40,193.14 443.20,192.24 444.00,192.69 444.80,192.57 445.60,192.29 446.40,192.60 447.20,193.65 448.00,194.76 448.80,194.52 449.60,192.92 450.40,193.63 451.20,192.87 452.00,192.99 452.80,192.22 453.60,192.41 454.40,191.31 455.20,193.44 456.00,192.03 456.80,192.62 457.60,191.88 458.40,192.26 459.20,191.30 460.00,191.58 460.80,192.62 461.60,192.67 462.40,190.99 463.20,192.63 464.00,191.52 464.80,192.45 465.60,192.85 466.40,192.17 467.20,192.33 468.00,192.45 468.80,192.99 469.60,193.51 470.40,193.97 471.20,193.40 472.00,194.49 472.80,192.71 473.60,194.31 474.40,193.27 475.20,193.84 476.00,193.38 476.80,193.50 477.60,192.86 478.40,193.71 479.20,195.09 480.00,194.11 480.80,193.79 481.60,193.78 482.40,194.28 483.20,193.77 484.00,193.81 484.80,194.00 485.60,194.82 486.40,194.74 487.20,193.34 488.00,193.41 488.80,193.87 489.60,194.56 490.40,194.81 491.20,194.07 492.00,195.57 492.80,194.29 493.60,195.14 494.40,195.32 495.20,195.52 496.00,194.60 496.80,194.69 497.60,193.29 498.40,192.81 499.20,193.58 500.00,194.67 500.80,195.08 501.60,194.33 502.40,194.95 503.20,194.73 504.00,195.31 504.80,193.22 505.60,193.34 506.40,193.22 507.20,193.15 508.00,194.97 508.80,193.52 509.60,193.25 510.40,193.49 511.20,194.40 512.00,193.63 512.80,194.27 513.60,194.24 514.40,193.37 515.20,192.02 516.00,192.68 516.80,192.59 517.60,194.54 518.40,193.27 519.20,192.72 520.00,193.61 520.80,193.53 521.60,192.83 522.40,194.07 523.20,194.16 524.00,193.72 524.80,192.90 525.60,192.61 526.40,191.76 527.20,193.22 528.00,193.51 528.80,192.61 529.60,193.09 530.40,195.45 531.20,192.82 532.00,191.84 532.80,193.25 533.60,192.78 534.40,192.64" fill="none" stroke="#0000ee" stroke-width="2.6" stroke-linejoin="round" stroke-linecap="round" clip-path="url(#cpc)"/>
<polyline points="25.60,191.54 26.40,191.51 27.20,192.72 28.00,192.56 28.80,190.69 29.60,191.87 30.40,191.07 31.20,191.10 32.00,189.61 32.80,188.84 33.60,189.53 34.40,187.76 35.20,189.31 36.00,189.36 36.80,190.75 37.60,189.69 38.40,190.77 39.20,190.63 40.00,191.66 40.80,191.57 41.60,191.11 42.40,191.68 43.20,191.50 44.00,191.74 44.80,193.40 45.60,192.51 46.40,192.23 47.20,192.06 48.00,193.04 48.80,192.56 49.60,192.54 50.40,194.03 51.20,191.46 52.00,192.00 52.80,188.95 53.60,191.15 54.40,191.84 55.20,190.26 56.00,191.01 56.80,190.90 57.60,191.98 58.40,191.43 59.20,191.11 60.00,190.64 60.80,190.69 61.60,191.25 62.40,189.59 63.20,189.95 64.00,191.29 64.80,189.91 65.60,189.36 66.40,190.01 67.20,190.73 68.00,191.38 68.80,191.36 69.60,190.95 70.40,191.56 71.20,192.13 72.00,191.30 72.80,190.79 73.60,191.21 74.40,191.34 75.20,191.87 76.00,192.05 76.80,191.84 77.60,190.12 78.40,189.39 79.20,190.90 80.00,192.41 80.80,192.04 81.60,192.01 82.40,188.88 83.20,190.33 84.00,189.49 84.80,189.88 85.60,188.34 86.40,188.09 87.20,188.00 88.00,187.81 88.80,189.19 89.60,188.80 90.40,187.44 91.20,188.22 92.00,189.94 92.80,189.36 93.60,189.45 94.40,189.43 95.20,189.55 96.00,189.05 96.80,188.73 97.60,189.35 98.40,188.32 99.20,188.25 100.00,188.88 100.80,188.37 101.60,186.89 102.40,186.69 103.20,187.17 104.00,186.70 104.80,186.76 105.60,185.55 106.40,185.18 107.20,186.41 108.00,185.59 108.80,185.64 109.60,186.18 110.40,185.81 111.20,185.38 112.00,185.10 112.80,185.92 113.60,185.83 114.40,186.42 115.20,187.28 116.00,186.00 116.80,186.06 117.60,187.01 118.40,187.81 119.20,185.69 120.00,187.22 120.80,187.62 121.60,182.63 122.40,186.79 123.20,185.06 124.00,186.54 124.80,185.06 125.60,185.80 126.40,185.96 127.20,185.90 128.00,185.85 128.80,187.07 129.60,187.93 130.40,186.98 131.20,188.12 132.00,188.12 132.80,188.68 133.60,188.17 134.40,189.14 135.20,190.14 136.00,188.21 136.80,188.46 137.60,186.29 138.40,188.32 139.20,188.37 140.00,188.03 140.80,188.12 141.60,187.30 142.40,186.50 143.20,186.90 144.00,186.54 144.80,185.95 145.60,186.96 146.40,186.26 147.20,186.29 148.00,186.08 148.80,187.52 149.60,186.82 150.40,185.84 151.20,186.23 152.00,186.36 152.80,185.25 153.60,186.00 154.40,184.82 155.20,184.89 156.00,184.80 156.80,183.63 157.60,183.88 158.40,182.60 159.20,185.07 160.00,183.91 160.80,181.98 161.60,182.22 162.40,181.54 163.20,182.05 164.00,182.05 164.80,180.28 165.60,184.41 166.40,185.11 167.20,187.47 168.00,188.12 168.80,187.12 169.60,189.12 170.40,188.71 171.20,189.02 172.00,188.63 172.80,188.42 173.60,188.61 174.40,189.81 175.20,190.80 176.00,189.98 176.80,189.94 177.60,188.42 178.40,189.48 179.20,188.45 180.00,187.67 180.80,188.14 181.60,187.91 182.40,188.63 183.20,186.18 184.00,186.32 184.80,185.59 185.60,186.24 186.40,186.03 187.20,186.07 188.00,184.53 188.80,185.47 189.60,185.25 190.40,185.17 191.20,185.55 192.00,185.61 192.80,185.98 193.60,185.35 194.40,186.45 195.20,185.05 196.00,187.09 196.80,185.62 197.60,186.16 198.40,186.01 199.20,186.12 200.00,187.54 200.80,187.06 201.60,187.17 202.40,186.37 203.20,187.24 204.00,188.10 204.80,187.85 205.60,188.52 206.40,188.00 207.20,187.96 208.00,187.87 208.80,187.54 209.60,188.24 210.40,188.44 211.20,188.74 212.00,187.97 212.80,187.07 213.60,189.52 214.40,186.85 215.20,187.50 216.00,188.33 216.80,187.16 217.60,188.47 218.40,188.35 219.20,188.00 220.00,189.40 220.80,190.10 221.60,188.91 222.40,186.77 223.20,187.71 224.00,188.33 224.80,187.60 225.60,186.83 226.40,186.17 227.20,186.84 228.00,186.45 228.80,186.19 229.60,186.00 230.40,184.97 231.20,183.35 232.00,186.18 232.80,186.72 233.60,186.72 234.40,186.39 235.20,186.46 236.00,186.26 236.80,187.23 237.60,187.47 238.40,188.01 239.20,187.90 240.00,187.99 240.80,187.75 241.60,187.47 242.40,187.81 243.20,188.82 244.00,189.08 244.80,188.07 245.60,188.58 246.40,188.52 247.20,187.26 248.00,187.55 248.80,187.68 249.60,188.08 250.40,188.12 251.20,186.10 252.00,187.28 252.80,187.37 253.60,186.71 254.40,186.25 255.20,186.71 256.00,186.34 256.80,188.10 257.60,187.67 258.40,187.53 259.20,187.10 260.00,185.97 260.80,185.29 261.60,186.04 262.40,186.10 263.20,186.37 264.00,187.40 264.80,187.63 265.60,186.49 266.40,186.64 267.20,185.60 268.00,186.39 268.80,186.60 269.60,187.40 270.40,187.09 271.20,187.14 272.00,186.85 272.80,187.75 273.60,188.22 274.40,186.39 275.20,186.47 276.00,185.68 276.80,186.87 277.60,188.26 278.40,187.98 279.20,187.83 280.00,186.78 280.80,187.06 281.60,188.20 282.40,187.79 283.20,188.46 284.00,186.24 284.80,186.21 285.60,186.44 286.40,186.84 287.20,186.60 288.00,186.35 288.80,186.59 289.60,187.40 290.40,188.12 291.20,187.84 292.00,186.98 292.80,186.14 293.60,187.37 294.40,187.44 295.20,187.17 296.00,186.69 296.80,187.88 297.60,187.15 298.40,187.99 299.20,187.51 300.00,187.57 300.80,187.37 301.60,187.52 302.40,186.80 303.20,187.66 304.00,186.51 304.80,187.12 305.60,185.70 306.40,187.61 307.20,186.20 308.00,186.84 308.80,188.15 309.60,188.56 310.40,186.69 311.20,187.40 312.00,186.78 312.80,186.46 313.60,187.28 314.40,187.48 315.20,187.83 316.00,186.69 316.80,187.15 317.60,187.97 318.40,187.86 319.20,186.50 320.00,187.50 320.80,187.69 321.60,186.29 322.40,187.10 323.20,187.62 324.00,189.67 324.80,190.02 325.60,188.74 326.40,188.69 327.20,188.63 328.00,187.83 328.80,188.10 329.60,188.88 330.40,187.88 331.20,187.78 332.00,188.11 332.80,187.37 333.60,187.30 334.40,188.22 335.20,187.68 336.00,187.34 336.80,187.03 337.60,188.03 338.40,188.18 339.20,187.02 340.00,187.83 340.80,187.66 341.60,186.56 342.40,188.49 343.20,188.77 344.00,187.68 344.80,189.21 345.60,187.67 346.40,186.68 347.20,187.33 348.00,187.27 348.80,187.49 349.60,188.06 350.40,187.27 351.20,187.57 352.00,187.07 352.80,189.25 353.60,188.30 354.40,187.14 355.20,188.21 356.00,188.39 356.80,187.74 357.60,188.60 358.40,187.76 359.20,186.72 360.00,187.58 360.80,188.29 361.60,187.61 362.40,188.41 363.20,186.83 364.00,188.11 364.80,186.87 365.60,187.71 366.40,187.73 367.20,187.30 368.00,187.27 368.80,187.67 369.60,188.19 370.40,187.52 371.20,188.17 372.00,188.06 372.80,187.24 373.60,187.63 374.40,189.38 375.20,189.24 376.00,187.86 376.80,187.16 377.60,186.92 378.40,188.04 379.20,188.63 380.00,188.97 380.80,186.80 381.60,187.62 382.40,187.48 383.20,188.11 384.00,187.91 384.80,187.58 385.60,188.27 386.40,187.56 387.20,187.19 388.00,188.29 388.80,188.32 389.60,188.22 390.40,186.83 391.20,188.05 392.00,187.90 392.80,186.87 393.60,187.85 394.40,188.00 395.20,187.64 396.00,187.87 396.80,189.59 397.60,189.29 398.40,187.91 399.20,188.43 400.00,190.11 400.80,188.39 401.60,188.66 402.40,188.56 403.20,186.52 404.00,188.96 404.80,187.29 405.60,188.90 406.40,187.87 407.20,188.17 408.00,187.84 408.80,187.93 409.60,188.12 410.40,187.56 411.20,189.02 412.00,188.74 412.80,189.44 413.60,187.50 414.40,187.81 415.20,188.36 416.00,187.44 416.80,188.50 417.60,188.20 418.40,188.23 419.20,188.98 420.00,188.25 420.80,189.35 421.60,188.40 422.40,187.26 423.20,187.82 424.00,188.77 424.80,188.81 425.60,186.95 426.40,188.21 427.20,187.56 428.00,187.78 428.80,189.44 429.60,187.87 430.40,188.75 431.20,188.25 432.00,187.39 432.80,188.54 433.60,187.85 434.40,187.61 435.20,187.57 436.00,187.13 436.80,188.93 437.60,187.96 438.40,189.37 439.20,187.70 440.00,185.63 440.80,186.97 441.60,187.85 442.40,186.98 443.20,186.30 444.00,188.89 444.80,188.71 445.60,188.95 446.40,186.86 447.20,186.65 448.00,187.29 448.80,186.89 449.60,188.12 450.40,184.48 451.20,184.98 452.00,186.58 452.80,185.26 453.60,185.63 454.40,186.62 455.20,186.58 456.00,187.48 456.80,186.93 457.60,187.21 458.40,187.46 459.20,186.98 460.00,186.26 460.80,184.98 461.60,186.68 462.40,186.18 463.20,185.76 464.00,186.28 464.80,185.48 465.60,185.59 466.40,185.77 467.20,184.86 468.00,185.71 468.80,186.16 469.60,186.98 470.40,186.76 471.20,187.84 472.00,187.72 472.80,186.73 473.60,187.06 474.40,187.61 475.20,186.84 476.00,187.79 476.80,187.15 477.60,186.92 478.40,187.01 479.20,187.30 480.00,187.74 480.80,188.81 481.60,187.09 482.40,188.20 483.20,187.69 484.00,187.56 484.80,188.27 485.60,187.25 486.40,186.65 487.20,186.76 488.00,186.98 488.80,188.30 489.60,189.66 490.40,188.33 491.20,188.19 492.00,188.05 492.80,188.06 493.60,187.78 494.40,188.21 495.20,188.84 496.00,191.07 496.80,190.67 497.60,190.65 498.40,190.06 499.20,190.53 500.00,189.12 500.80,190.48 501.60,190.60 502.40,190.21 503.20,190.75 504.00,191.03 504.80,191.29 505.60,191.61 506.40,190.36 507.20,191.79 508.00,190.33 508.80,191.81 509.60,191.73 510.40,192.59 511.20,192.56 512.00,193.50 512.80,192.91 513.60,192.96 514.40,192.33 515.20,192.49 516.00,191.61 516.80,192.88 517.60,192.35 518.40,193.55 519.20,193.73 520.00,194.79 520.80,194.34 521.60,194.30 522.40,195.16 523.20,194.44 524.00,195.17 524.80,195.33 525.60,195.53 526.40,194.52 527.20,194.40 528.00,193.44 528.80,194.24 529.60,192.50 530.40,192.43 531.20,192.73 532.00,192.68 532.80,192.75 533.60,192.62 534.40,192.30" fill="none" stroke="#00f000" stroke-width="2.6" stroke-linejoin="round" stroke-linecap="round" clip-path="url(#cpc)"/>
<polyline points="25.30,255.00 34.20,262.50 45.00,254.20 53.40,255.40 62.60,260.90 71.80,258.40 81.80,266.70 91.00,280.00 100.10,278.40 110.00,272.50 119.00,277.60 129.00,271.70 139.00,276.70 148.40,269.70 157.60,269.70 166.80,271.40 176.00,271.70 185.10,275.00 195.00,268.90 205.00,269.20 215.00,271.40 223.40,266.70 233.40,275.90 242.60,273.40 251.80,269.70 260.10,268.00 269.30,270.00 280.00,275.00 289.20,276.70 299.20,270.90 308.40,275.90 317.60,273.40 326.80,273.40 336.00,274.20 345.10,274.20 355.80,271.70 365.90,275.90 374.20,271.70 384.20,274.70 393.40,278.40 402.60,273.40 411.80,276.70 421.00,274.20 430.10,276.70 440.80,276.90 459.00,278.20 478.00,279.70 497.70,279.70 506.40,280.70 516.00,281.30 525.70,283.60 534.40,281.30" fill="none" stroke="#ee0000" stroke-width="2.4" stroke-linejoin="round" stroke-linecap="round" clip-path="url(#cpd)"/>
<polyline points="25.30,260.90 44.20,260.90 52.60,255.00 62.60,264.20 72.60,280.90 81.80,280.90 91.00,276.70 100.00,276.70 110.00,276.70 119.00,279.20 129.00,276.70 139.00,274.70 148.40,276.70 157.60,275.00 166.80,271.40 176.00,273.40 185.10,277.20 195.00,273.40 205.00,269.70 215.00,270.90 223.40,275.90 233.40,271.70 242.60,271.70 251.80,275.90 260.10,277.60 269.30,277.60 280.00,283.70 289.20,279.20 299.20,276.40 308.40,281.70 317.60,280.90 326.80,278.40 336.00,275.90 345.10,281.70 355.80,285.10 365.90,280.00 374.20,283.70 384.20,280.00 393.40,275.90 402.60,280.90 411.80,281.70 421.00,282.10 430.10,279.20 440.80,288.40 449.50,284.60 459.10,280.70 469.40,282.60 478.40,285.90 488.10,287.10 497.70,290.40 506.40,285.90 516.10,286.50 525.70,289.80 534.40,287.10" fill="none" stroke="#0000ee" stroke-width="2.4" stroke-linejoin="round" stroke-linecap="round" clip-path="url(#cpd)"/>
<polyline points="25.30,265.00 34.20,267.50 44.20,276.70 53.40,272.50 62.60,278.40 72.60,275.00 82.60,267.50 91.80,264.20 101.00,271.70 110.00,260.90 118.40,260.90 129.20,268.40 139.20,265.00 148.40,261.70 157.60,260.40 166.80,261.70 176.00,271.70 185.10,260.90 195.00,259.20 205.00,267.50 215.00,268.40 223.40,270.90 233.40,267.50 242.60,272.50 251.80,262.50 260.10,267.50 269.30,264.70 280.00,260.90 289.20,274.20 299.20,264.70 308.40,270.40 317.60,265.40 326.80,266.70 336.00,274.70 345.10,274.20 355.80,275.40 365.90,269.70 374.20,268.40 384.20,273.40 393.40,266.40 402.60,274.20 411.80,275.00 421.00,273.00 430.10,275.90 440.80,276.90 449.50,280.70 459.10,272.00 469.40,267.80 478.40,275.50 488.10,272.00 497.70,279.40 506.40,276.30 516.10,286.50 525.70,284.60 534.40,280.70" fill="none" stroke="#00f000" stroke-width="2.4" stroke-linejoin="round" stroke-linecap="round" clip-path="url(#cpd)"/>
<polyline points="25.30,477.00 25.66,475.93 26.14,474.56 26.74,472.76 27.43,470.39 28.20,467.30 28.63,465.41 29.10,463.28 29.61,460.93 30.14,458.41 30.69,455.76 31.25,453.03 31.80,450.26 32.36,447.48 32.89,444.75 33.40,442.10 33.96,439.03 34.52,435.67 35.08,432.16 35.63,428.63 36.18,425.22 36.70,422.05 37.20,419.27 37.67,417.01 38.10,415.40 38.76,414.05 39.31,414.21 39.80,415.47 40.28,417.47 40.80,419.80 41.38,422.84 41.97,426.84 42.57,431.25 43.16,435.52 43.70,439.10 44.32,442.72 44.89,445.86 45.45,448.43 46.00,450.30 46.56,451.28 47.11,451.49 47.65,451.28 48.20,451.00 48.73,450.52 49.25,449.71 49.79,449.00 50.40,448.80 50.84,448.93 51.29,449.13 51.76,449.49 52.27,450.11 52.81,451.09 53.40,452.50 53.89,454.02 54.43,455.97 55.01,458.21 55.60,460.61 56.19,463.01 56.77,465.27 57.31,467.25 57.80,468.80 58.37,470.32 58.88,471.45 59.34,472.25 59.80,472.77 60.28,473.07 60.80,473.20 61.30,473.10 61.83,472.75 62.37,472.22 62.93,471.56 63.47,470.84 64.00,470.14 64.50,469.50 65.03,468.72 65.53,467.81 66.00,466.89 66.47,466.05 66.97,465.42 67.50,465.10 67.99,465.15 68.51,465.46 69.04,465.94 69.58,466.52 70.12,467.11 70.67,467.63 71.20,468.00 71.72,468.26 72.24,468.49 72.75,468.69 73.27,468.83 73.79,468.91 74.33,468.90 74.90,468.80 75.41,468.57 75.93,468.20 76.46,467.72 77.01,467.21 77.56,466.71 78.13,466.27 78.71,465.95 79.30,465.80 79.79,465.86 80.30,466.10 80.82,466.45 81.36,466.87 81.89,467.31 82.43,467.72 82.97,468.04 83.49,468.23 84.00,468.23 84.50,468.00 85.04,467.42 85.56,466.53 86.08,465.43 86.59,464.18 87.09,462.86 87.59,461.55 88.07,460.32 88.54,459.24 89.00,458.40 89.56,457.61 90.07,457.01 90.56,456.56 91.04,456.22 91.55,455.94 92.09,455.68 92.70,455.40 93.18,455.24 93.70,455.15 94.25,455.12 94.82,455.12 95.40,455.12 95.98,455.09 96.54,455.00 97.07,454.82 97.56,454.53 98.00,454.10 98.74,452.81 99.36,451.09 99.90,449.12 100.40,447.10 100.90,445.20 101.51,442.84 102.08,440.39 102.63,438.12 103.20,436.30 103.68,435.17 104.18,434.23 104.68,433.54 105.18,433.14 105.70,433.10 106.24,433.42 106.79,434.07 107.35,435.02 107.89,436.27 108.40,437.80 108.97,440.33 109.49,443.47 110.01,446.75 110.60,449.70 111.13,451.96 111.70,454.32 112.30,456.47 112.90,458.10 113.50,458.90 113.99,458.74 114.47,457.93 114.95,456.69 115.44,455.24 115.96,453.81 116.50,452.60 116.99,451.72 117.51,450.84 118.04,449.96 118.58,449.10 119.12,448.26 119.67,447.46 120.20,446.70 120.73,445.99 121.28,445.32 121.82,444.68 122.36,444.07 122.89,443.47 123.41,442.88 123.90,442.30 124.44,441.54 124.95,440.71 125.44,439.89 125.93,439.18 126.41,438.69 126.90,438.50 127.40,438.58 127.90,438.85 128.41,439.33 128.91,440.05 129.41,441.03 129.90,442.30 130.47,444.37 131.03,447.00 131.59,449.92 132.17,452.88 132.80,455.60 133.29,457.56 133.82,459.71 134.37,461.89 134.92,463.93 135.47,465.66 136.00,466.90 136.50,467.50 137.04,467.34 137.55,466.46 138.04,465.00 138.53,463.11 139.01,460.93 139.50,458.60 140.00,455.86 140.50,452.53 141.01,448.91 141.51,445.30 142.01,441.99 142.50,439.30 143.09,436.76 143.68,434.65 144.26,432.99 144.83,431.80 145.40,431.10 145.94,431.03 146.47,431.58 146.99,432.53 147.52,433.68 148.10,434.80 148.62,435.84 149.17,437.11 149.74,438.47 150.31,439.76 150.87,440.82 151.40,441.50 152.00,441.64 152.58,441.24 153.15,440.62 153.72,440.10 154.30,440.00 154.79,440.22 155.27,440.54 155.75,441.01 156.24,441.67 156.76,442.55 157.30,443.70 157.80,445.02 158.33,446.65 158.87,448.50 159.43,450.43 159.97,452.34 160.50,454.10 161.00,455.60 161.53,457.24 162.03,458.93 162.50,460.48 162.97,461.69 163.47,462.36 164.00,462.30 164.50,461.49 165.05,460.04 165.62,458.13 166.18,455.96 166.73,453.70 167.24,451.55 167.70,449.70 168.35,446.81 168.89,444.00 169.38,441.44 169.90,439.30 170.44,437.55 170.96,436.12 171.52,435.13 172.20,434.70 172.66,434.84 173.18,435.32 173.72,436.01 174.29,436.79 174.85,437.53 175.40,438.11 175.90,438.40 176.44,438.38 176.94,438.11 177.43,437.68 177.90,437.16 178.39,436.64 178.90,436.20 179.44,435.70 180.00,435.05 180.57,434.40 181.14,433.89 181.69,433.68 182.20,433.90 182.77,434.81 183.30,436.25 183.82,438.05 184.31,440.06 184.80,442.10 185.40,444.87 185.98,447.96 186.54,451.10 187.10,454.00 187.64,456.74 188.16,459.41 188.70,461.77 189.30,463.60 189.76,464.46 190.27,465.10 190.80,465.53 191.33,465.78 191.84,465.86 192.30,465.80 192.91,465.29 193.45,464.32 193.97,463.16 194.50,462.10 195.05,461.05 195.60,459.93 196.15,458.96 196.70,458.40 197.21,458.53 197.71,459.15 198.24,459.77 198.90,459.90 199.34,459.68 199.82,459.33 200.34,458.87 200.88,458.32 201.44,457.68 202.02,456.97 202.60,456.20 203.07,455.48 203.56,454.61 204.07,453.63 204.59,452.60 205.11,451.59 205.63,450.64 206.14,449.82 206.63,449.19 207.10,448.80 207.68,448.75 208.24,449.13 208.78,449.78 209.31,450.53 209.82,451.21 210.32,451.66 210.80,451.70 211.33,451.22 211.83,450.36 212.30,449.26 212.77,448.04 213.27,446.84 213.80,445.80 214.30,444.91 214.85,443.90 215.42,442.86 215.98,441.91 216.53,441.15 217.04,440.68 217.50,440.60 218.16,441.53 218.69,443.42 219.19,445.75 219.70,448.00 220.23,450.43 220.75,453.19 221.29,455.57 221.90,456.90 222.36,457.06 222.87,456.81 223.40,456.19 223.93,455.24 224.44,453.99 224.90,452.50 225.51,449.42 226.05,445.47 226.57,441.30 227.10,437.60 227.63,434.35 228.15,431.26 228.69,428.56 229.30,426.50 229.75,425.55 230.24,424.89 230.75,424.48 231.27,424.27 231.79,424.22 232.30,424.30 232.79,424.66 233.27,425.37 233.76,426.24 234.25,427.10 234.76,427.74 235.30,428.00 235.79,427.86 236.31,427.48 236.85,426.93 237.40,426.27 237.94,425.57 238.48,424.89 239.00,424.30 239.59,423.60 240.19,422.79 240.78,421.99 241.34,421.29 241.89,420.79 242.40,420.60 242.97,420.83 243.51,421.44 244.01,422.31 244.47,423.30 244.90,424.30 245.42,426.19 245.84,428.31 246.50,430.20 246.92,430.82 247.40,431.35 247.94,431.82 248.50,432.27 249.08,432.74 249.65,433.27 250.20,433.90 250.74,434.62 251.30,435.39 251.86,436.20 252.42,437.06 252.95,437.97 253.45,438.91 253.90,439.90 254.55,441.69 255.09,443.58 255.58,445.66 256.10,448.00 256.67,450.79 257.25,453.94 257.83,457.10 258.40,459.90 258.94,462.40 259.46,464.74 260.00,466.71 260.60,468.10 261.13,468.66 261.70,468.80 262.30,468.66 262.90,468.38 263.50,468.10 263.99,467.76 264.49,467.23 264.99,466.63 265.50,466.10 266.00,465.78 266.50,465.80 267.00,466.22 267.50,466.95 268.01,467.88 268.51,468.93 269.01,470.00 269.50,471.00 270.07,472.22 270.62,473.56 271.18,474.89 271.76,476.08 272.40,477.00 272.90,477.47 273.45,477.82 274.01,478.07 274.59,478.24 275.15,478.34 275.70,478.39 276.20,478.40 276.80,478.25 277.30,477.90 277.80,477.49 278.37,477.14 279.10,477.00 279.54,477.01 280.01,477.04 280.52,477.10 281.06,477.18 281.61,477.29 282.18,477.44 282.76,477.63 283.35,477.87 283.93,478.15 284.50,478.50 285.02,478.89 285.54,479.35 286.07,479.87 286.61,480.45 287.15,481.05 287.69,481.67 288.23,482.30 288.78,482.91 289.32,483.49 289.86,484.02 290.40,484.50 290.94,484.95 291.50,485.42 292.07,485.90 292.64,486.36 293.21,486.80 293.77,487.20 294.32,487.56 294.85,487.84 295.36,488.06 295.85,488.18 296.30,488.20 296.94,487.97 297.52,487.47 298.04,486.76 298.53,485.95 299.01,485.11 299.49,484.33 300.00,483.70 300.53,483.14 301.06,482.56 301.59,482.00 302.11,481.50 302.64,481.10 303.17,480.85 303.70,480.80 304.22,480.95 304.71,481.27 305.21,481.73 305.71,482.31 306.23,482.98 306.79,483.72 307.40,484.50 307.87,485.12 308.37,485.85 308.89,486.66 309.44,487.52 309.99,488.39 310.55,489.24 311.10,490.06 311.63,490.79 312.13,491.41 312.60,491.90 313.22,492.37 313.79,492.65 314.33,492.78 314.85,492.80 315.36,492.75 315.87,492.67 316.40,492.60 316.93,492.47 317.44,492.20 317.96,491.88 318.47,491.55 318.99,491.29 319.54,491.15 320.10,491.20 320.62,491.44 321.15,491.84 321.69,492.36 322.25,492.94 322.81,493.53 323.38,494.09 323.94,494.56 324.50,494.90 325.00,495.11 325.51,495.30 326.02,495.44 326.54,495.55 327.05,495.61 327.56,495.62 328.05,495.58 328.53,495.47 329.00,495.30 329.56,494.95 330.10,494.45 330.60,493.84 331.11,493.17 331.62,492.48 332.14,491.81 332.70,491.20 333.22,490.69 333.75,490.15 334.29,489.60 334.85,489.07 335.41,488.56 335.98,488.10 336.54,487.71 337.10,487.40 337.60,487.19 338.11,487.01 338.62,486.87 339.14,486.78 339.65,486.73 340.16,486.73 340.65,486.77 341.13,486.86 341.60,487.00 342.17,487.32 342.72,487.79 343.24,488.37 343.76,488.98 344.27,489.57 344.78,490.06 345.30,490.40 345.83,490.62 346.36,490.78 346.89,490.87 347.41,490.89 347.94,490.82 348.47,490.66 349.00,490.40 349.54,489.98 350.08,489.38 350.63,488.68 351.18,487.93 351.71,487.19 352.22,486.53 352.70,486.00 353.32,485.46 353.90,485.03 354.44,484.71 354.97,484.48 355.50,484.30 356.00,484.17 356.45,484.11 356.91,484.13 357.41,484.25 358.00,484.50 358.43,484.74 358.89,485.04 359.39,485.40 359.91,485.80 360.43,486.22 360.96,486.66 361.49,487.09 362.00,487.50 362.50,487.93 363.00,488.41 363.50,488.92 364.00,489.42 364.50,489.89 365.00,490.31 365.50,490.66 366.00,490.90 366.49,491.01 366.98,491.01 367.46,490.92 367.94,490.78 368.43,490.63 368.93,490.49 369.45,490.40 370.00,490.40 370.46,490.46 370.94,490.54 371.43,490.65 371.93,490.77 372.44,490.91 372.95,491.06 373.47,491.22 373.98,491.39 374.50,491.55 375.00,491.70 375.50,491.85 376.00,492.00 376.50,492.16 377.00,492.31 377.50,492.48 378.00,492.64 378.50,492.82 379.00,493.00 379.50,493.20 380.00,493.40 380.50,493.63 381.00,493.88 381.50,494.14 382.00,494.42 382.50,494.71 383.00,494.98 383.50,495.25 384.00,495.50 384.50,495.72 385.00,495.90 385.50,496.05 386.00,496.18 386.50,496.28 387.00,496.37 387.50,496.44 388.00,496.50 388.50,496.55 389.00,496.60 389.50,496.65 390.00,496.70 390.51,496.76 391.05,496.81 391.59,496.87 392.14,496.92 392.69,496.97 393.22,497.00 393.72,497.03 394.19,497.04 394.62,497.03 395.00,497.00 395.69,496.86 396.12,496.62 396.50,496.31 397.00,495.90 397.44,495.55 397.93,495.11 398.44,494.64 398.96,494.17 399.49,493.74 400.00,493.40 400.48,493.12 400.93,492.87 401.38,492.66 401.85,492.51 402.38,492.45 403.00,492.50 403.42,492.61 403.89,492.78 404.38,493.02 404.90,493.29 405.44,493.57 405.98,493.87 406.51,494.14 407.03,494.38 407.53,494.58 408.00,494.70 408.55,494.77 409.07,494.79 409.57,494.76 410.06,494.69 410.54,494.59 411.02,494.47 411.51,494.34 412.00,494.20 412.50,494.02 413.00,493.78 413.50,493.50 414.00,493.21 414.50,492.94 415.00,492.71 415.50,492.56 416.00,492.50 416.49,492.54 416.98,492.67 417.46,492.85 417.94,493.09 418.43,493.35 418.93,493.64 419.45,493.93 420.00,494.20 420.47,494.43 420.97,494.69 421.49,494.98 422.02,495.28 422.56,495.57 423.10,495.86 423.62,496.13 424.11,496.37 424.58,496.56 425.00,496.70 425.60,496.84 426.11,496.91 426.56,496.89 427.00,496.80 427.47,496.64 428.00,496.40 428.46,496.13 428.95,495.77 429.47,495.34 430.00,494.88 430.53,494.42 431.05,494.00 431.54,493.65 432.00,493.40 432.57,493.19 433.11,493.06 433.62,493.01 434.11,493.04 434.57,493.17 435.00,493.40 435.58,494.05 436.09,495.00 436.56,495.97 437.00,496.70 437.50,497.33 437.94,497.69 438.50,497.50 438.94,496.97 439.45,496.13 439.99,495.15 440.52,494.19 441.00,493.40 441.54,492.66 442.03,492.05 442.51,491.51 443.00,491.00 443.48,490.46 443.94,489.94 444.43,489.53 445.00,489.30 445.43,489.28 445.89,489.34 446.38,489.47 446.89,489.66 447.43,489.91 448.00,490.20 448.45,490.45 448.93,490.75 449.43,491.07 449.94,491.43 450.46,491.80 450.98,492.19 451.49,492.59 452.00,493.00 452.50,493.43 453.00,493.89 453.50,494.37 454.00,494.86 454.50,495.35 455.00,495.82 455.50,496.28 456.00,496.70 456.51,497.09 457.02,497.47 457.54,497.84 458.06,498.19 458.57,498.52 459.07,498.83 459.55,499.13 460.00,499.40 460.56,499.74 461.07,500.07 461.56,500.36 462.04,500.60 462.51,500.79 463.00,500.90 463.50,500.94 464.00,500.90 464.50,500.81 465.00,500.67 465.50,500.49 466.00,500.30 466.50,500.04 467.00,499.70 467.50,499.33 468.00,498.97 468.50,498.68 469.00,498.50 469.49,498.44 469.96,498.47 470.44,498.56 470.93,498.69 471.44,498.84 472.00,499.00 472.45,499.15 472.93,499.34 473.43,499.57 473.94,499.79 474.46,500.00 474.98,500.17 475.49,500.28 476.00,500.30 476.49,500.22 476.98,500.06 477.46,499.83 477.94,499.56 478.43,499.27 478.93,498.99 479.45,498.72 480.00,498.50 480.46,498.34 480.94,498.19 481.43,498.03 481.93,497.88 482.44,497.74 482.95,497.60 483.47,497.48 483.98,497.37 484.50,497.28 485.00,497.20 485.50,497.15 486.00,497.14 486.50,497.15 487.00,497.18 487.50,497.21 488.00,497.25 488.50,497.27 489.00,497.28 489.50,497.25 490.00,497.20 490.50,497.11 491.02,497.00 491.53,496.87 492.05,496.72 492.56,496.56 493.07,496.39 493.57,496.22 494.06,496.04 494.54,495.87 495.00,495.70 495.55,495.46 496.07,495.19 496.57,494.89 497.06,494.59 497.54,494.32 498.02,494.10 498.51,493.95 499.00,493.90 499.50,493.94 500.00,494.05 500.50,494.23 501.00,494.46 501.50,494.73 502.00,495.03 502.50,495.36 503.00,495.70 503.50,496.09 504.00,496.54 504.50,497.05 505.00,497.57 505.50,498.09 506.00,498.59 506.50,499.03 507.00,499.40 507.50,499.71 508.00,499.99 508.50,500.24 509.00,500.45 509.50,500.62 510.00,500.76 510.50,500.85 511.00,500.90 511.49,500.89 511.98,500.81 512.46,500.69 512.94,500.52 513.43,500.34 513.93,500.15 514.45,499.96 515.00,499.80 515.46,499.68 515.94,499.55 516.43,499.41 516.93,499.28 517.44,499.14 517.95,499.00 518.47,498.87 518.98,498.74 519.50,498.61 520.00,498.50 520.50,498.39 521.00,498.29 521.50,498.18 522.00,498.09 522.50,497.99 523.00,497.90 523.50,497.82 524.00,497.74 524.50,497.67 525.00,497.60 525.50,497.54 526.01,497.48 526.52,497.43 527.02,497.38 527.53,497.34 528.04,497.31 528.54,497.27 529.03,497.25 529.52,497.22 530.00,497.20 530.55,497.18 531.12,497.17 531.70,497.17 532.28,497.17 532.84,497.18 533.35,497.19 533.81,497.19 534.20,497.20 534.50,497.20" fill="none" stroke="#ee0000" stroke-width="2.9" stroke-linejoin="round" stroke-linecap="round" clip-path="url(#cpf)"/>
<polyline points="25.30,497.10 25.61,497.19 26.02,497.32 26.51,497.46 27.05,497.62 27.63,497.79 28.24,497.97 28.85,498.16 29.44,498.33 30.00,498.50 30.49,498.66 30.98,498.85 31.48,499.06 31.98,499.27 32.48,499.48 32.99,499.66 33.49,499.82 34.00,499.94 34.50,500.00 35.00,500.00 35.51,499.93 36.02,499.80 36.54,499.61 37.06,499.39 37.58,499.13 38.09,498.86 38.60,498.58 39.08,498.30 39.55,498.04 40.00,497.80 40.57,497.44 41.08,497.02 41.54,496.59 42.00,496.19 42.49,495.86 43.05,495.65 43.70,495.60 44.12,495.67 44.56,495.81 45.01,496.02 45.47,496.27 45.95,496.55 46.46,496.86 46.98,497.18 47.53,497.50 48.10,497.80 48.71,498.08 49.34,498.32 50.00,498.50 50.42,498.59 50.85,498.67 51.30,498.74 51.76,498.81 52.24,498.87 52.73,498.92 53.23,498.97 53.73,499.01 54.25,499.05 54.77,499.08 55.29,499.11 55.82,499.14 56.35,499.16 56.88,499.18 57.41,499.21 57.94,499.22 58.46,499.24 58.98,499.26 59.50,499.28 60.00,499.30 60.50,499.32 61.00,499.32 61.50,499.32 62.00,499.32 62.50,499.30 63.00,499.29 63.50,499.27 64.00,499.25 64.50,499.23 65.00,499.21 65.50,499.19 66.00,499.18 66.50,499.17 67.00,499.16 67.50,499.16 68.00,499.17 68.50,499.19 69.00,499.21 69.50,499.25 70.00,499.30 70.50,499.36 71.00,499.44 71.50,499.54 72.00,499.65 72.50,499.76 73.00,499.89 73.50,500.02 74.00,500.16 74.50,500.30 75.00,500.44 75.50,500.58 76.00,500.72 76.50,500.86 77.00,500.98 77.50,501.10 78.00,501.21 78.50,501.31 79.00,501.39 79.50,501.45 80.00,501.50 80.51,501.53 81.02,501.53 81.55,501.52 82.08,501.49 82.62,501.44 83.16,501.39 83.70,501.33 84.24,501.26 84.78,501.18 85.31,501.11 85.84,501.03 86.36,500.96 86.87,500.89 87.37,500.84 87.85,500.79 88.32,500.76 88.77,500.74 89.20,500.74 89.61,500.76 90.00,500.80 90.70,500.96 91.32,501.22 91.87,501.54 92.36,501.91 92.81,502.29 93.24,502.68 93.66,503.03 94.08,503.34 94.52,503.57 95.00,503.70 95.48,503.73 95.92,503.67 96.34,503.55 96.76,503.38 97.19,503.18 97.64,502.97 98.13,502.75 98.68,502.56 99.30,502.40 100.00,502.30 100.39,502.27 100.80,502.26 101.23,502.25 101.68,502.26 102.15,502.27 102.63,502.29 103.13,502.32 103.64,502.34 104.16,502.37 104.69,502.40 105.22,502.43 105.76,502.45 106.30,502.47 106.84,502.48 107.38,502.48 107.92,502.47 108.45,502.45 108.98,502.42 109.49,502.37 110.00,502.30 110.51,502.22 111.02,502.11 111.55,502.00 112.08,501.87 112.62,501.73 113.16,501.57 113.70,501.41 114.24,501.24 114.78,501.07 115.31,500.89 115.84,500.71 116.36,500.54 116.87,500.36 117.37,500.18 117.85,500.01 118.32,499.85 118.77,499.70 119.20,499.55 119.61,499.42 120.00,499.30 120.70,499.07 121.32,498.83 121.87,498.60 122.36,498.38 122.81,498.18 123.24,498.00 123.66,497.87 124.08,497.79 124.52,497.76 125.00,497.80 125.50,497.92 126.00,498.12 126.50,498.39 127.00,498.71 127.50,499.07 128.00,499.44 128.50,499.82 129.00,500.18 129.50,500.51 130.00,500.80 130.50,501.07 131.00,501.35 131.50,501.64 132.00,501.92 132.50,502.18 133.00,502.42 133.50,502.64 134.00,502.81 134.50,502.93 135.00,503.00 135.48,502.99 135.92,502.90 136.34,502.75 136.76,502.56 137.19,502.34 137.64,502.11 138.13,501.90 138.68,501.71 139.30,501.57 140.00,501.50 140.39,501.49 140.80,501.49 141.23,501.50 141.68,501.51 142.15,501.54 142.63,501.57 143.13,501.61 143.64,501.66 144.16,501.71 144.69,501.76 145.22,501.82 145.76,501.88 146.30,501.94 146.84,501.99 147.38,502.05 147.92,502.11 148.45,502.16 148.98,502.21 149.49,502.26 150.00,502.30 150.51,502.34 151.02,502.39 151.55,502.45 152.08,502.51 152.62,502.57 153.16,502.63 153.70,502.70 154.24,502.76 154.78,502.83 155.31,502.89 155.84,502.94 156.36,502.99 156.87,503.03 157.37,503.07 157.85,503.09 158.32,503.10 158.77,503.10 159.20,503.08 159.61,503.05 160.00,503.00 160.70,502.85 161.32,502.62 161.87,502.35 162.36,502.03 162.81,501.68 163.24,501.32 163.66,500.96 164.08,500.61 164.52,500.28 165.00,500.00 165.50,499.74 166.00,499.48 166.50,499.23 167.00,498.99 167.50,498.76 168.00,498.53 168.50,498.32 169.00,498.13 169.50,497.96 170.00,497.80 170.48,497.66 170.92,497.51 171.34,497.38 171.76,497.26 172.19,497.16 172.64,497.08 173.13,497.03 173.68,497.02 174.30,497.04 175.00,497.10 175.38,497.15 175.78,497.23 176.18,497.31 176.60,497.42 177.03,497.54 177.47,497.67 177.93,497.81 178.40,497.95 178.88,498.10 179.38,498.26 179.88,498.41 180.40,498.56 180.93,498.71 181.47,498.86 182.03,499.00 182.60,499.12 183.18,499.24 183.78,499.34 184.38,499.43 185.00,499.50 185.42,499.54 185.85,499.57 186.30,499.59 186.75,499.61 187.21,499.63 187.68,499.64 188.16,499.64 188.64,499.65 189.13,499.64 189.63,499.64 190.13,499.63 190.64,499.62 191.15,499.61 191.67,499.60 192.19,499.59 192.71,499.57 193.23,499.56 193.76,499.54 194.29,499.53 194.81,499.51 195.34,499.50 195.87,499.49 196.40,499.48 196.92,499.47 197.44,499.47 197.96,499.47 198.48,499.47 198.99,499.48 199.50,499.49 200.00,499.50 200.50,499.52 201.00,499.54 201.50,499.57 202.00,499.60 202.50,499.63 203.00,499.67 203.50,499.71 204.00,499.75 204.50,499.79 205.00,499.83 205.50,499.88 206.00,499.92 206.50,499.97 207.00,500.02 207.50,500.06 208.00,500.11 208.50,500.15 209.00,500.20 209.50,500.24 210.00,500.28 210.50,500.32 211.00,500.35 211.50,500.38 212.00,500.41 212.50,500.44 213.00,500.46 213.50,500.48 214.00,500.49 214.50,500.50 215.00,500.50 215.50,500.50 216.01,500.49 216.52,500.49 217.04,500.48 217.56,500.46 218.08,500.45 218.60,500.43 219.13,500.41 219.66,500.38 220.19,500.36 220.71,500.33 221.24,500.30 221.77,500.27 222.29,500.24 222.81,500.20 223.33,500.16 223.85,500.12 224.36,500.08 224.87,500.04 225.37,500.00 225.87,499.95 226.36,499.90 226.84,499.86 227.32,499.81 227.79,499.76 228.25,499.71 228.70,499.66 229.15,499.61 229.58,499.55 230.00,499.50 230.61,499.41 231.20,499.30 231.77,499.18 232.32,499.05 232.85,498.91 233.37,498.76 233.87,498.60 234.36,498.45 234.84,498.29 235.31,498.14 235.78,497.99 236.24,497.85 236.70,497.72 237.16,497.60 237.62,497.50 238.08,497.41 238.55,497.35 239.02,497.31 239.51,497.29 240.00,497.30 240.50,497.34 240.99,497.40 241.48,497.48 241.97,497.59 242.45,497.71 242.94,497.85 243.42,498.01 243.90,498.18 244.39,498.36 244.88,498.54 245.36,498.74 245.86,498.94 246.35,499.14 246.85,499.35 247.36,499.55 247.87,499.75 248.39,499.95 248.92,500.14 249.45,500.33 250.00,500.50 250.47,500.64 250.96,500.79 251.47,500.95 251.99,501.11 252.52,501.28 253.07,501.45 253.62,501.62 254.19,501.80 254.75,501.97 255.31,502.14 255.88,502.32 256.44,502.49 256.99,502.65 257.54,502.82 258.07,502.97 258.59,503.13 259.10,503.27 259.59,503.41 260.05,503.53 260.50,503.65 260.92,503.76 261.31,503.85 261.67,503.93 262.00,504.00 263.00,504.14 263.59,504.12 263.94,503.99 264.19,503.79 264.49,503.58 265.00,503.40 265.42,503.30 265.87,503.17 266.35,503.03 266.86,502.88 267.38,502.72 267.90,502.58 268.44,502.46 268.97,502.37 269.49,502.31 270.00,502.30 270.50,502.34 271.00,502.42 271.50,502.54 272.00,502.68 272.50,502.85 273.00,503.03 273.50,503.21 274.00,503.39 274.50,503.55 275.00,503.70 275.50,503.83 276.00,503.95 276.50,504.07 277.00,504.18 277.50,504.29 278.00,504.41 278.50,504.54 279.00,504.68 279.50,504.83 280.00,505.00 280.50,505.20 281.00,505.43 281.50,505.69 282.00,505.96 282.50,506.23 283.00,506.50 283.50,506.75 284.00,506.97 284.50,507.16 285.00,507.30 285.49,507.40 285.97,507.48 286.44,507.54 286.90,507.58 287.38,507.59 287.86,507.58 288.35,507.54 288.87,507.48 289.42,507.40 290.00,507.30 290.45,507.20 290.93,507.08 291.44,506.94 291.97,506.78 292.52,506.61 293.07,506.43 293.62,506.24 294.17,506.04 294.71,505.85 295.23,505.66 295.73,505.47 296.19,505.30 296.62,505.14 297.00,505.00 297.71,504.68 298.22,504.37 298.62,504.07 299.00,503.83 299.43,503.67 300.00,503.60 300.42,503.62 300.87,503.69 301.35,503.79 301.86,503.93 302.38,504.08 302.90,504.25 303.44,504.42 303.97,504.60 304.49,504.76 305.00,504.90 305.50,505.04 306.00,505.18 306.50,505.33 307.00,505.48 307.50,505.63 308.00,505.77 308.50,505.91 309.00,506.02 309.50,506.12 310.00,506.20 310.50,506.26 311.00,506.30 311.50,506.34 312.00,506.36 312.50,506.36 313.00,506.36 313.50,506.34 314.00,506.30 314.50,506.26 315.00,506.20 315.50,506.12 316.00,506.00 316.50,505.86 317.00,505.71 317.50,505.55 318.00,505.39 318.50,505.24 319.00,505.10 319.50,504.98 320.00,504.90 320.50,504.84 321.00,504.80 321.50,504.78 322.00,504.76 322.50,504.76 323.00,504.77 323.50,504.79 324.00,504.82 324.50,504.86 325.00,504.90 325.50,504.95 326.00,505.02 326.50,505.10 327.00,505.19 327.50,505.28 328.00,505.38 328.50,505.49 329.00,505.59 329.50,505.70 330.00,505.80 330.50,505.91 331.00,506.03 331.50,506.16 332.00,506.29 332.50,506.43 333.00,506.55 333.50,506.67 334.00,506.77 334.50,506.85 335.00,506.90 335.50,506.93 336.00,506.93 336.50,506.92 337.00,506.89 337.50,506.84 338.00,506.79 338.50,506.74 339.00,506.69 339.50,506.64 340.00,506.60 340.50,506.56 341.00,506.53 341.50,506.49 342.00,506.46 342.50,506.42 343.00,506.38 343.50,506.34 344.00,506.29 344.50,506.25 345.00,506.20 345.50,506.14 346.00,506.07 346.50,506.00 347.00,505.92 347.50,505.84 348.00,505.76 348.50,505.70 349.00,505.65 349.50,505.61 350.00,505.60 350.50,505.61 351.00,505.63 351.50,505.67 352.00,505.72 352.50,505.78 353.00,505.85 353.50,505.93 354.00,506.02 354.50,506.11 355.00,506.20 355.48,506.31 355.92,506.43 356.34,506.58 356.76,506.73 357.19,506.88 357.64,507.03 358.13,507.18 358.68,507.31 359.30,507.42 360.00,507.50 360.39,507.53 360.80,507.56 361.23,507.59 361.68,507.61 362.15,507.63 362.63,507.64 363.13,507.65 363.64,507.66 364.16,507.67 364.69,507.67 365.22,507.67 365.76,507.67 366.30,507.66 366.84,507.66 367.38,507.65 367.92,507.64 368.45,507.63 368.98,507.62 369.49,507.61 370.00,507.60 370.50,507.59 370.99,507.57 371.47,507.55 371.95,507.53 372.43,507.51 372.91,507.49 373.38,507.46 373.86,507.43 374.33,507.41 374.81,507.38 375.30,507.34 375.78,507.31 376.28,507.27 376.78,507.24 377.29,507.20 377.81,507.16 378.34,507.12 378.88,507.08 379.43,507.04 380.00,507.00 380.45,506.96 380.92,506.92 381.40,506.88 381.89,506.83 382.40,506.78 382.92,506.72 383.44,506.67 383.98,506.61 384.51,506.55 385.05,506.49 385.60,506.43 386.14,506.37 386.69,506.31 387.23,506.25 387.77,506.19 388.30,506.14 388.83,506.09 389.34,506.05 389.85,506.01 390.35,505.97 390.83,505.94 391.30,505.92 391.75,505.90 392.19,505.89 392.60,505.89 393.00,505.90 393.68,505.94 394.29,506.00 394.84,506.10 395.35,506.21 395.82,506.34 396.26,506.48 396.69,506.63 397.10,506.79 397.52,506.94 397.96,507.10 398.41,507.24 398.90,507.38 399.42,507.50 400.00,507.60 400.43,507.66 400.88,507.72 401.34,507.78 401.81,507.84 402.29,507.89 402.78,507.94 403.28,507.99 403.78,508.04 404.30,508.08 404.81,508.12 405.33,508.16 405.86,508.20 406.38,508.24 406.91,508.27 407.43,508.30 407.95,508.32 408.47,508.35 408.99,508.37 409.50,508.39 410.00,508.40 410.50,508.41 411.00,508.42 411.50,508.42 412.00,508.41 412.50,508.41 413.00,508.40 413.50,508.38 414.00,508.37 414.50,508.35 415.00,508.33 415.50,508.31 416.00,508.29 416.50,508.26 417.00,508.24 417.50,508.21 418.00,508.19 418.50,508.17 419.00,508.14 419.50,508.12 420.00,508.10 420.50,508.08 421.00,508.05 421.50,508.01 422.00,507.97 422.50,507.93 423.00,507.89 423.50,507.84 424.00,507.80 424.50,507.75 425.00,507.71 425.50,507.67 426.00,507.64 426.50,507.61 427.00,507.58 427.50,507.56 428.00,507.55 428.50,507.55 429.00,507.55 429.50,507.57 430.00,507.60 430.51,507.64 431.02,507.71 431.55,507.78 432.08,507.87 432.62,507.97 433.16,508.08 433.70,508.20 434.24,508.32 434.78,508.45 435.31,508.58 435.84,508.70 436.36,508.83 436.87,508.95 437.37,509.06 437.85,509.17 438.32,509.26 438.77,509.34 439.20,509.41 439.61,509.47 440.00,509.50 440.70,509.52 441.32,509.48 441.87,509.39 442.36,509.28 442.81,509.14 443.24,509.00 443.66,508.86 444.08,508.74 444.52,508.65 445.00,508.60 445.48,508.59 445.92,508.60 446.34,508.62 446.76,508.66 447.19,508.71 447.64,508.77 448.13,508.83 448.68,508.89 449.30,508.95 450.00,509.00 450.39,509.02 450.80,509.05 451.23,509.08 451.68,509.12 452.15,509.15 452.63,509.19 453.13,509.22 453.64,509.26 454.16,509.30 454.69,509.33 455.22,509.36 455.76,509.40 456.30,509.42 456.84,509.45 457.38,509.47 457.92,509.49 458.45,509.50 458.98,509.51 459.49,509.51 460.00,509.50 460.50,509.48 461.00,509.46 461.50,509.42 462.00,509.38 462.50,509.33 463.00,509.28 463.50,509.22 464.00,509.15 464.50,509.09 465.00,509.02 465.50,508.96 466.00,508.90 466.50,508.84 467.00,508.78 467.50,508.73 468.00,508.69 468.50,508.65 469.00,508.62 469.50,508.61 470.00,508.60 470.49,508.61 470.95,508.62 471.40,508.65 471.84,508.68 472.27,508.72 472.69,508.77 473.10,508.82 473.52,508.87 473.94,508.93 474.38,508.99 474.82,509.06 475.28,509.12 475.76,509.18 476.26,509.24 476.80,509.30 477.36,509.35 477.96,509.40 478.59,509.44 479.27,509.47 480.00,509.50 480.38,509.51 480.79,509.52 481.21,509.52 481.64,509.53 482.09,509.53 482.55,509.53 483.03,509.53 483.52,509.53 484.02,509.52 484.53,509.52 485.05,509.51 485.58,509.51 486.12,509.50 486.66,509.49 487.21,509.48 487.76,509.47 488.32,509.46 488.88,509.46 489.44,509.45 490.00,509.44 490.56,509.43 491.12,509.42 491.68,509.41 492.24,509.41 492.79,509.40 493.34,509.40 493.88,509.39 494.42,509.39 494.95,509.39 495.47,509.39 495.98,509.39 496.48,509.39 496.97,509.40 497.45,509.41 497.91,509.42 498.36,509.43 498.79,509.44 499.21,509.46 499.62,509.48 500.00,509.50 500.73,509.55 501.43,509.62 502.09,509.70 502.72,509.78 503.32,509.87 503.89,509.97 504.44,510.08 504.96,510.19 505.46,510.30 505.94,510.42 506.40,510.53 506.84,510.65 507.27,510.76 507.68,510.87 508.09,510.98 508.48,511.08 508.87,511.17 509.25,511.26 509.62,511.33 510.00,511.40 510.70,511.51 511.32,511.62 511.87,511.70 512.36,511.78 512.81,511.84 513.24,511.88 513.66,511.91 514.08,511.92 514.52,511.92 515.00,511.90 515.50,511.85 516.00,511.77 516.50,511.67 517.00,511.54 517.50,511.41 518.00,511.27 518.50,511.13 519.00,511.00 519.50,510.89 520.00,510.80 520.48,510.72 520.93,510.64 521.36,510.57 521.78,510.50 522.22,510.44 522.68,510.39 523.17,510.36 523.71,510.35 524.32,510.36 525.00,510.40 525.41,510.44 525.86,510.49 526.35,510.55 526.87,510.62 527.42,510.70 527.99,510.78 528.58,510.88 529.17,510.97 529.77,511.07 530.36,511.18 530.94,511.28 531.51,511.38 532.05,511.47 532.56,511.56 533.04,511.65 533.48,511.73 533.88,511.80 534.22,511.85 534.50,511.90" fill="none" stroke="#00f000" stroke-width="2.5" stroke-linejoin="round" stroke-linecap="round" stroke-dasharray="0.1 4.2" clip-path="url(#cpf)"/>
<polyline points="25.30,514.90 25.65,514.17 26.13,513.12 26.70,511.92 27.34,510.73 28.00,509.70 28.51,509.07 29.08,508.45 29.68,507.86 30.28,507.30 30.87,506.80 31.42,506.36 31.90,506.00 32.53,505.65 33.01,505.55 33.48,505.48 34.10,505.20 34.55,504.89 35.05,504.51 35.58,504.07 36.14,503.61 36.70,503.15 37.26,502.70 37.80,502.30 38.32,501.92 38.83,501.52 39.34,501.13 39.86,500.76 40.38,500.44 40.93,500.18 41.50,500.00 41.96,499.93 42.43,499.91 42.91,499.94 43.41,500.00 43.91,500.09 44.42,500.19 44.94,500.30 45.46,500.41 46.00,500.50 46.48,500.60 46.96,500.73 47.44,500.89 47.92,501.06 48.42,501.22 48.93,501.36 49.46,501.48 50.01,501.55 50.59,501.56 51.20,501.50 51.66,501.40 52.15,501.23 52.67,501.03 53.20,500.78 53.74,500.51 54.30,500.22 54.86,499.92 55.42,499.62 55.98,499.34 56.53,499.09 57.07,498.86 57.60,498.69 58.11,498.56 58.60,498.50 59.20,498.51 59.77,498.59 60.34,498.73 60.89,498.92 61.42,499.15 61.95,499.42 62.47,499.70 62.98,499.99 63.49,500.27 64.00,500.55 64.50,500.80 65.05,501.10 65.58,501.46 66.11,501.86 66.63,502.27 67.14,502.67 67.65,503.04 68.16,503.35 68.67,503.58 69.18,503.70 69.70,503.70 70.22,503.55 70.75,503.26 71.29,502.87 71.82,502.40 72.35,501.87 72.88,501.31 73.40,500.75 73.91,500.21 74.41,499.72 74.90,499.30 75.49,498.82 76.05,498.31 76.60,497.81 77.14,497.34 77.68,496.92 78.21,496.60 78.75,496.38 79.30,496.30 79.79,496.41 80.28,496.71 80.77,497.13 81.25,497.63 81.75,498.15 82.24,498.63 82.75,499.02 83.27,499.26 83.80,499.30 84.29,499.15 84.80,498.87 85.31,498.48 85.83,498.00 86.36,497.47 86.89,496.90 87.42,496.33 87.95,495.77 88.48,495.25 89.00,494.80 89.53,494.36 90.06,493.89 90.60,493.40 91.15,492.91 91.69,492.44 92.22,492.01 92.74,491.64 93.25,491.35 93.74,491.17 94.20,491.10 94.81,491.24 95.38,491.62 95.92,492.17 96.43,492.83 96.94,493.53 97.46,494.21 98.00,494.80 98.48,495.28 98.96,495.79 99.44,496.31 99.92,496.83 100.42,497.32 100.92,497.78 101.45,498.18 102.00,498.50 102.47,498.69 102.97,498.81 103.49,498.88 104.02,498.92 104.56,498.94 105.10,498.96 105.62,498.99 106.11,499.05 106.58,499.14 107.00,499.30 107.59,499.66 108.07,500.09 108.50,500.57 108.93,501.11 109.41,501.69 110.00,502.30 110.43,502.69 110.90,503.13 111.42,503.59 111.95,504.06 112.50,504.55 113.05,505.03 113.58,505.50 114.10,505.94 114.57,506.34 115.00,506.70 115.60,507.24 116.11,507.76 116.56,508.21 117.00,508.57 117.47,508.81 118.00,508.90 118.46,508.84 118.95,508.68 119.47,508.43 120.00,508.12 120.53,507.78 121.05,507.41 121.54,507.04 122.00,506.70 122.53,506.20 123.00,505.62 123.44,505.01 123.89,504.45 124.40,503.99 125.00,503.70 125.42,503.62 125.87,503.58 126.35,503.59 126.86,503.65 127.38,503.73 127.90,503.85 128.44,503.99 128.97,504.14 129.49,504.32 130.00,504.50 130.51,504.72 131.05,505.00 131.59,505.33 132.14,505.68 132.69,506.04 133.22,506.40 133.72,506.73 134.19,507.02 134.62,507.25 135.00,507.40 135.69,507.53 136.12,507.42 136.50,507.12 137.00,506.70 137.44,506.36 137.93,505.95 138.44,505.48 138.96,504.95 139.49,504.35 140.00,503.70 140.49,502.92 140.96,501.99 141.44,501.00 141.93,500.03 142.44,499.17 143.00,498.50 143.46,498.12 143.95,497.82 144.47,497.57 145.00,497.39 145.53,497.25 146.05,497.16 146.54,497.12 147.00,497.10 147.56,497.20 148.07,497.44 148.56,497.76 149.04,498.09 149.51,498.36 150.00,498.50 150.49,498.51 150.96,498.45 151.44,498.33 151.93,498.17 152.44,497.99 153.00,497.80 153.46,497.62 153.95,497.38 154.47,497.10 155.00,496.82 155.53,496.57 156.05,496.38 156.54,496.28 157.00,496.30 157.56,496.51 158.07,496.86 158.56,497.34 159.04,497.92 159.51,498.58 160.00,499.30 160.50,500.12 161.00,501.08 161.50,502.11 162.00,503.18 162.50,504.22 163.00,505.20 163.50,506.20 164.00,507.27 164.50,508.32 165.00,509.26 165.50,509.98 166.00,510.40 166.50,510.52 167.00,510.41 167.50,510.09 168.00,509.57 168.50,508.87 169.00,508.00 169.50,506.82 170.00,505.30 170.50,503.60 171.00,501.87 171.50,500.29 172.00,499.00 172.48,497.92 172.93,496.90 173.38,496.02 173.85,495.36 174.38,494.99 175.00,495.00 175.42,495.24 175.87,495.68 176.35,496.27 176.86,496.98 177.38,497.78 177.90,498.61 178.44,499.46 178.97,500.28 179.49,501.04 180.00,501.70 180.50,502.31 181.00,502.93 181.50,503.56 182.00,504.17 182.50,504.76 183.00,505.32 183.50,505.82 184.00,506.26 184.50,506.63 185.00,506.90 185.50,507.09 186.00,507.20 186.50,507.24 187.00,507.23 187.50,507.16 188.00,507.04 188.50,506.88 189.00,506.68 189.50,506.45 190.00,506.20 190.50,505.89 191.00,505.48 191.50,505.01 192.00,504.49 192.50,503.95 193.00,503.41 193.50,502.89 194.00,502.42 194.50,502.01 195.00,501.70 195.50,501.45 196.00,501.24 196.50,501.05 197.00,500.90 197.50,500.79 198.00,500.73 198.50,500.72 199.00,500.75 199.50,500.85 200.00,501.00 200.50,501.24 201.00,501.59 201.50,502.01 202.00,502.50 202.50,503.02 203.00,503.55 203.50,504.08 204.00,504.58 204.50,505.03 205.00,505.40 205.50,505.74 206.00,506.08 206.50,506.41 207.00,506.72 207.50,507.01 208.00,507.25 208.50,507.44 209.00,507.57 209.50,507.63 210.00,507.60 210.50,507.48 211.00,507.28 211.50,507.01 212.00,506.68 212.50,506.30 213.00,505.87 213.50,505.41 214.00,504.92 214.50,504.41 215.00,503.90 215.51,503.34 216.05,502.70 216.59,502.00 217.14,501.26 217.69,500.51 218.22,499.77 218.72,499.06 219.19,498.39 219.62,497.80 220.00,497.30 220.69,496.28 221.12,495.51 221.50,495.05 222.00,495.00 222.42,495.23 222.85,495.65 223.31,496.24 223.81,496.96 224.37,497.79 225.00,498.70 225.43,499.33 225.90,500.07 226.42,500.88 226.95,501.75 227.50,502.64 228.05,503.51 228.58,504.33 229.10,505.07 229.57,505.71 230.00,506.20 230.60,506.78 231.11,507.16 231.56,507.34 232.00,507.36 232.47,507.20 233.00,506.90 233.46,506.57 233.95,506.14 234.47,505.61 235.00,504.99 235.53,504.29 236.05,503.50 236.54,502.64 237.00,501.70 237.57,500.16 238.11,498.29 238.62,496.27 239.11,494.30 239.57,492.58 240.00,491.30 240.55,490.12 241.00,489.53 241.45,489.44 242.00,489.80 242.44,490.35 242.93,491.20 243.44,492.26 243.96,493.43 244.49,494.64 245.00,495.80 245.51,497.03 246.04,498.43 246.56,499.86 247.07,501.19 247.56,502.28 248.00,503.00 248.55,503.33 249.00,503.04 249.45,502.41 250.00,501.70 250.44,501.17 250.93,500.49 251.44,499.74 251.96,498.99 252.49,498.32 253.00,497.80 253.51,497.41 254.04,497.08 254.56,496.83 255.07,496.67 255.56,496.63 256.00,496.70 256.55,497.07 257.00,497.72 257.45,498.55 258.00,499.50 258.45,500.19 258.96,500.96 259.50,501.79 260.04,502.67 260.55,503.58 261.00,504.50 261.57,505.96 262.06,507.51 262.52,509.08 263.00,510.60 263.48,512.13 263.94,513.68 264.43,515.09 265.00,516.20 265.43,516.74 265.89,517.14 266.38,517.44 266.89,517.65 267.43,517.79 268.00,517.90 268.42,517.94 268.84,517.92 269.25,517.87 269.69,517.77 270.16,517.66 270.70,517.54 271.30,517.41 272.00,517.30 272.39,517.24 272.79,517.17 273.22,517.10 273.67,517.01 274.14,516.93 274.62,516.84 275.12,516.75 275.62,516.66 276.15,516.57 276.68,516.49 277.22,516.41 277.77,516.35 278.32,516.29 278.88,516.25 279.44,516.21 280.00,516.20 280.46,516.20 280.93,516.21 281.41,516.22 281.90,516.24 282.41,516.27 282.92,516.30 283.43,516.34 283.95,516.39 284.48,516.44 285.00,516.49 285.52,516.54 286.05,516.60 286.57,516.66 287.08,516.72 287.59,516.79 288.10,516.85 288.59,516.91 289.07,516.98 289.54,517.04 290.00,517.10 290.55,517.18 291.07,517.27 291.57,517.38 292.05,517.48 292.51,517.60 292.97,517.72 293.42,517.83 293.88,517.95 294.33,518.06 294.79,518.17 295.27,518.27 295.77,518.37 296.28,518.45 296.82,518.51 297.39,518.57 298.00,518.60 298.43,518.61 298.87,518.61 299.32,518.60 299.79,518.58 300.27,518.56 300.77,518.53 301.27,518.49 301.78,518.44 302.29,518.40 302.82,518.35 303.34,518.30 303.88,518.24 304.41,518.19 304.94,518.14 305.47,518.09 306.00,518.04 306.53,518.00 307.05,517.96 307.56,517.93 308.07,517.91 308.57,517.89 309.06,517.88 309.53,517.89 310.00,517.90 310.55,517.93 311.09,517.98 311.63,518.03 312.16,518.10 312.69,518.18 313.21,518.27 313.73,518.37 314.24,518.47 314.75,518.57 315.25,518.67 315.75,518.78 316.24,518.89 316.73,518.99 317.21,519.09 317.69,519.18 318.16,519.26 318.63,519.34 319.09,519.41 319.55,519.46 320.00,519.50 320.56,519.54 321.12,519.56 321.67,519.58 322.21,519.60 322.75,519.60 323.28,519.60 323.80,519.59 324.31,519.57 324.82,519.54 325.31,519.51 325.79,519.48 326.26,519.43 326.71,519.38 327.16,519.33 327.59,519.27 328.00,519.20 328.63,519.09 329.22,518.99 329.78,518.87 330.31,518.75 330.81,518.60 331.29,518.42 331.74,518.21 332.18,517.96 332.59,517.66 333.00,517.30 333.63,516.50 334.19,515.48 334.69,514.35 335.15,513.22 335.58,512.20 336.00,511.40 336.57,510.63 337.06,510.16 337.52,509.84 338.00,509.50 338.43,509.10 338.81,508.73 339.29,508.42 340.00,508.20 340.38,508.15 340.81,508.13 341.28,508.13 341.78,508.14 342.31,508.16 342.86,508.19 343.41,508.21 343.95,508.22 344.49,508.22 345.00,508.20 345.51,508.16 346.03,508.10 346.56,508.04 347.10,507.97 347.62,507.89 348.14,507.81 348.65,507.72 349.13,507.64 349.58,507.57 350.00,507.50 350.63,507.38 351.19,507.25 351.69,507.12 352.15,507.01 352.58,506.93 353.00,506.90 353.55,506.86 354.00,506.84 354.45,507.01 355.00,507.50 355.43,508.14 355.89,509.01 356.38,510.02 356.89,511.03 357.43,511.93 358.00,512.60 358.42,512.94 358.84,513.19 359.25,513.37 359.69,513.49 360.16,513.57 360.70,513.62 361.30,513.66 362.00,513.70 362.39,513.72 362.81,513.73 363.25,513.73 363.72,513.72 364.20,513.71 364.71,513.69 365.22,513.67 365.75,513.64 366.28,513.61 366.82,513.57 367.37,513.54 367.91,513.51 368.44,513.48 368.97,513.45 369.49,513.42 370.00,513.40 370.50,513.38 371.01,513.37 371.51,513.36 372.02,513.35 372.53,513.34 373.04,513.34 373.55,513.33 374.06,513.32 374.57,513.31 375.07,513.29 375.57,513.27 376.07,513.25 376.56,513.22 377.05,513.19 377.53,513.15 378.00,513.10 378.54,513.03 379.07,512.95 379.60,512.86 380.13,512.76 380.66,512.66 381.17,512.55 381.69,512.43 382.19,512.32 382.69,512.20 383.17,512.09 383.65,511.98 384.11,511.88 384.56,511.78 385.00,511.70 385.58,511.60 386.13,511.50 386.65,511.42 387.14,511.34 387.62,511.26 388.10,511.19 388.56,511.12 389.03,511.05 389.51,510.98 390.00,510.90 390.50,510.81 391.00,510.69 391.50,510.56 392.00,510.42 392.50,510.29 393.00,510.18 393.50,510.10 394.00,510.05 394.50,510.05 395.00,510.10 395.50,510.22 396.00,510.40 396.50,510.64 397.00,510.91 397.50,511.20 398.00,511.51 398.50,511.81 399.00,512.10 399.50,512.37 400.00,512.60 400.50,512.81 401.00,513.01 401.50,513.21 402.00,513.41 402.50,513.59 403.00,513.75 403.50,513.90 404.00,514.03 404.50,514.13 405.00,514.20 405.48,514.24 405.92,514.24 406.34,514.22 406.76,514.18 407.19,514.12 407.64,514.04 408.13,513.96 408.68,513.87 409.30,513.78 410.00,513.70 410.39,513.66 410.80,513.61 411.23,513.57 411.68,513.52 412.15,513.46 412.63,513.41 413.13,513.35 413.64,513.29 414.16,513.23 414.69,513.18 415.22,513.11 415.76,513.05 416.30,512.99 416.84,512.93 417.38,512.88 417.92,512.82 418.45,512.76 418.98,512.70 419.49,512.65 420.00,512.60 420.51,512.55 421.02,512.49 421.55,512.44 422.08,512.38 422.62,512.32 423.16,512.26 423.70,512.20 424.24,512.14 424.78,512.08 425.31,512.02 425.84,511.97 426.36,511.92 426.87,511.87 427.37,511.83 427.85,511.79 428.32,511.76 428.77,511.74 429.20,511.72 429.61,511.70 430.00,511.70 430.70,511.71 431.32,511.73 431.87,511.76 432.36,511.82 432.81,511.89 433.24,511.98 433.66,512.10 434.08,512.24 434.52,512.40 435.00,512.60 435.50,512.84 436.00,513.15 436.50,513.50 437.00,513.88 437.50,514.27 438.00,514.66 438.50,515.03 439.00,515.37 439.50,515.67 440.00,515.90 440.50,516.08 441.00,516.22 441.50,516.33 442.00,516.41 442.50,516.46 443.00,516.50 443.50,516.52 444.00,516.52 444.50,516.51 445.00,516.50 445.48,516.46 445.92,516.40 446.34,516.30 446.76,516.19 447.19,516.06 447.64,515.94 448.13,515.82 448.68,515.72 449.30,515.64 450.00,515.60 450.39,515.59 450.80,515.59 451.23,515.60 451.68,515.61 452.15,515.63 452.63,515.65 453.13,515.68 453.64,515.70 454.16,515.74 454.69,515.77 455.22,515.80 455.76,515.84 456.30,515.87 456.84,515.90 457.38,515.93 457.92,515.95 458.45,515.97 458.98,515.99 459.49,516.00 460.00,516.00 460.50,516.00 461.00,515.99 461.50,515.97 462.00,515.95 462.50,515.93 463.00,515.90 463.50,515.88 464.00,515.84 464.50,515.81 465.00,515.78 465.50,515.75 466.00,515.72 466.50,515.69 467.00,515.66 467.50,515.64 468.00,515.62 468.50,515.61 469.00,515.60 469.50,515.60 470.00,515.60 470.50,515.61 471.00,515.63 471.50,515.65 472.00,515.69 472.50,515.72 473.00,515.76 473.50,515.80 474.00,515.85 474.50,515.90 475.00,515.94 475.50,515.99 476.00,516.04 476.50,516.09 477.00,516.13 477.50,516.17 478.00,516.21 478.50,516.24 479.00,516.27 479.50,516.29 480.00,516.30 480.50,516.31 481.00,516.31 481.50,516.31 482.00,516.31 482.50,516.30 483.00,516.29 483.50,516.27 484.00,516.26 484.50,516.24 485.00,516.22 485.50,516.20 486.00,516.18 486.50,516.15 487.00,516.13 487.50,516.11 488.00,516.08 488.50,516.06 489.00,516.04 489.50,516.02 490.00,516.00 490.50,515.98 491.00,515.96 491.50,515.94 492.00,515.91 492.50,515.89 493.00,515.86 493.50,515.84 494.00,515.81 494.50,515.78 495.00,515.76 495.50,515.73 496.00,515.71 496.50,515.68 497.00,515.66 497.50,515.65 498.00,515.63 498.50,515.62 499.00,515.61 499.50,515.60 500.00,515.60 500.50,515.60 501.00,515.60 501.50,515.60 502.00,515.61 502.50,515.61 503.00,515.62 503.50,515.63 504.00,515.64 504.50,515.65 505.00,515.66 505.50,515.68 506.00,515.70 506.50,515.72 507.00,515.75 507.50,515.78 508.00,515.82 508.50,515.86 509.00,515.90 509.50,515.95 510.00,516.00 510.51,516.06 511.02,516.13 511.55,516.20 512.08,516.28 512.62,516.37 513.16,516.47 513.70,516.56 514.24,516.66 514.78,516.76 515.31,516.87 515.84,516.97 516.36,517.08 516.87,517.18 517.37,517.28 517.85,517.38 518.32,517.48 518.77,517.57 519.20,517.65 519.61,517.73 520.00,517.80 520.68,517.93 521.25,518.06 521.73,518.18 522.14,518.29 522.53,518.39 522.92,518.48 523.33,518.56 523.79,518.62 524.34,518.67 525.00,518.70 525.41,518.71 525.86,518.70 526.35,518.69 526.87,518.68 527.42,518.66 527.99,518.63 528.58,518.60 529.17,518.56 529.77,518.53 530.36,518.49 530.94,518.45 531.51,518.41 532.05,518.37 532.56,518.33 533.04,518.30 533.48,518.27 533.88,518.24 534.22,518.22 534.50,518.20" fill="none" stroke="#00f000" stroke-width="2.7" stroke-linejoin="round" stroke-linecap="round" clip-path="url(#cpf)"/>
<polyline points="25.30,507.40 25.62,507.29 26.04,507.17 26.54,507.02 27.11,506.83 27.70,506.61 28.31,506.33 28.90,506.00 29.36,505.69 29.84,505.32 30.34,504.91 30.84,504.47 31.36,504.02 31.87,503.57 32.39,503.12 32.90,502.69 33.40,502.30 33.95,501.87 34.50,501.41 35.05,500.96 35.60,500.52 36.15,500.12 36.70,499.77 37.25,499.49 37.80,499.30 38.28,499.22 38.74,499.23 39.19,499.31 39.63,499.43 40.10,499.58 40.58,499.73 41.10,499.87 41.67,499.96 42.30,500.00 42.74,499.99 43.20,499.96 43.69,499.92 44.20,499.86 44.73,499.80 45.27,499.72 45.82,499.65 46.38,499.58 46.94,499.50 47.50,499.44 48.06,499.38 48.62,499.34 49.16,499.31 49.70,499.30 50.24,499.30 50.78,499.31 51.34,499.32 51.90,499.33 52.47,499.35 53.03,499.38 53.59,499.42 54.14,499.47 54.68,499.52 55.20,499.59 55.71,499.67 56.20,499.77 56.66,499.88 57.10,500.00 57.79,500.26 58.41,500.57 58.97,500.93 59.48,501.31 59.97,501.72 60.46,502.15 60.97,502.58 61.50,503.00 61.99,503.39 62.47,503.81 62.94,504.25 63.42,504.70 63.90,505.15 64.39,505.58 64.90,505.99 65.44,506.37 66.00,506.70 66.48,506.95 66.97,507.18 67.47,507.41 67.98,507.62 68.50,507.81 69.04,507.98 69.59,508.14 70.14,508.27 70.72,508.37 71.30,508.45 71.90,508.50 72.38,508.51 72.88,508.49 73.38,508.45 73.90,508.39 74.43,508.32 74.96,508.23 75.50,508.12 76.04,508.02 76.59,507.90 77.13,507.79 77.68,507.68 78.22,507.58 78.76,507.48 79.30,507.40 79.80,507.33 80.31,507.27 80.82,507.21 81.33,507.15 81.85,507.09 82.37,507.04 82.89,506.98 83.40,506.92 83.91,506.86 84.41,506.80 84.91,506.73 85.40,506.66 85.88,506.58 86.35,506.49 86.80,506.40 87.39,506.25 87.95,506.05 88.49,505.84 89.00,505.60 89.51,505.37 90.01,505.14 90.52,504.93 91.03,504.75 91.56,504.61 92.12,504.52 92.70,504.50 93.17,504.53 93.65,504.61 94.12,504.73 94.60,504.87 95.09,505.04 95.59,505.23 96.09,505.44 96.61,505.65 97.14,505.86 97.68,506.06 98.23,506.25 98.80,506.43 99.39,506.58 100.00,506.70 100.44,506.77 100.89,506.84 101.35,506.90 101.83,506.96 102.31,507.02 102.80,507.07 103.30,507.12 103.81,507.17 104.32,507.21 104.83,507.25 105.35,507.28 105.87,507.31 106.39,507.34 106.91,507.36 107.44,507.38 107.96,507.39 108.47,507.40 108.99,507.41 109.50,507.41 110.00,507.40 110.51,507.39 111.02,507.37 111.55,507.35 112.08,507.32 112.62,507.28 113.16,507.24 113.70,507.20 114.24,507.15 114.78,507.09 115.31,507.04 115.84,506.98 116.36,506.92 116.87,506.85 117.37,506.79 117.85,506.72 118.32,506.66 118.77,506.59 119.20,506.53 119.61,506.46 120.00,506.40 120.70,506.26 121.32,506.11 121.87,505.94 122.36,505.76 122.81,505.58 123.24,505.41 123.66,505.25 124.08,505.11 124.52,504.99 125.00,504.90 125.48,504.84 125.92,504.80 126.34,504.77 126.76,504.76 127.19,504.77 127.64,504.79 128.13,504.82 128.68,504.87 129.30,504.93 130.00,505.00 130.39,505.04 130.82,505.10 131.28,505.16 131.76,505.23 132.27,505.30 132.79,505.38 133.33,505.47 133.88,505.55 134.44,505.64 135.00,505.73 135.56,505.82 136.12,505.91 136.67,505.99 137.21,506.07 137.73,506.15 138.24,506.21 138.72,506.28 139.18,506.33 139.61,506.37 140.00,506.40 140.70,506.44 141.32,506.46 141.87,506.46 142.36,506.45 142.81,506.41 143.24,506.36 143.66,506.29 144.08,506.21 144.52,506.11 145.00,506.00 145.50,505.85 146.00,505.66 146.50,505.43 147.00,505.18 147.50,504.92 148.00,504.67 148.50,504.44 149.00,504.24 149.50,504.09 150.00,504.00 150.49,503.97 150.97,503.98 151.44,504.04 151.90,504.12 152.38,504.23 152.86,504.36 153.35,504.49 153.87,504.64 154.42,504.77 155.00,504.90 155.45,505.00 155.92,505.12 156.42,505.26 156.94,505.41 157.48,505.57 158.02,505.73 158.56,505.89 159.10,506.03 159.64,506.16 160.16,506.27 160.66,506.36 161.14,506.41 161.59,506.43 162.00,506.40 162.64,506.24 163.21,505.96 163.72,505.59 164.19,505.16 164.63,504.70 165.07,504.25 165.52,503.84 166.00,503.50 166.49,503.20 166.98,502.88 167.46,502.57 167.94,502.28 168.43,502.03 168.93,501.84 169.45,501.73 170.00,501.70 170.46,501.75 170.94,501.87 171.43,502.04 171.93,502.25 172.44,502.50 172.95,502.77 173.47,503.06 173.98,503.34 174.50,503.63 175.00,503.90 175.50,504.19 176.00,504.53 176.50,504.90 177.00,505.29 177.50,505.68 178.00,506.04 178.50,506.36 179.00,506.62 179.50,506.81 180.00,506.90 180.50,506.90 181.00,506.82 181.50,506.67 182.00,506.47 182.50,506.22 183.00,505.94 183.50,505.63 184.00,505.32 184.50,505.00 185.00,504.70 185.50,504.38 186.00,504.03 186.50,503.66 187.00,503.26 187.50,502.86 188.00,502.45 188.50,502.05 189.00,501.67 189.50,501.32 190.00,501.00 190.50,500.69 191.00,500.38 191.50,500.06 192.00,499.76 192.50,499.47 193.00,499.22 193.50,499.01 194.00,498.84 194.50,498.74 195.00,498.70 195.50,498.74 196.00,498.87 196.50,499.06 197.00,499.29 197.50,499.57 198.00,499.87 198.50,500.17 199.00,500.47 199.50,500.75 200.00,501.00 200.50,501.23 201.00,501.47 201.50,501.71 202.00,501.96 202.50,502.20 203.00,502.43 203.50,502.65 204.00,502.86 204.50,503.04 205.00,503.20 205.50,503.33 206.00,503.42 206.50,503.50 207.00,503.55 207.50,503.59 208.00,503.63 208.50,503.68 209.00,503.73 209.50,503.80 210.00,503.90 210.50,504.03 211.00,504.18 211.50,504.36 212.00,504.55 212.50,504.74 213.00,504.92 213.50,505.09 214.00,505.23 214.50,505.34 215.00,505.40 215.50,505.42 216.00,505.41 216.50,505.38 217.00,505.32 217.50,505.24 218.00,505.14 218.50,505.04 219.00,504.93 219.50,504.81 220.00,504.70 220.50,504.58 221.00,504.44 221.50,504.29 222.00,504.12 222.50,503.96 223.00,503.79 223.50,503.62 224.00,503.47 224.50,503.33 225.00,503.20 225.50,503.08 226.00,502.96 226.50,502.84 227.00,502.72 227.50,502.61 228.00,502.52 228.50,502.45 229.00,502.40 229.50,502.38 230.00,502.40 230.50,502.46 231.00,502.58 231.50,502.73 232.00,502.90 232.50,503.09 233.00,503.29 233.50,503.48 234.00,503.65 234.50,503.80 235.00,503.90 235.50,503.97 236.00,504.02 236.50,504.05 237.00,504.07 237.50,504.08 238.00,504.08 238.50,504.07 239.00,504.05 239.50,504.02 240.00,504.00 240.50,503.97 241.00,503.94 241.50,503.91 242.00,503.86 242.50,503.81 243.00,503.75 243.50,503.68 244.00,503.60 244.50,503.51 245.00,503.40 245.50,503.26 246.00,503.09 246.50,502.90 247.00,502.69 247.50,502.47 248.00,502.27 248.50,502.08 249.00,501.91 249.50,501.78 250.00,501.70 250.51,501.66 251.03,501.66 251.56,501.68 252.10,501.72 252.62,501.79 253.14,501.87 253.65,501.97 254.13,502.07 254.58,502.19 255.00,502.30 255.63,502.50 256.19,502.73 256.69,502.98 257.15,503.27 257.58,503.61 258.00,504.00 258.57,504.72 259.06,505.58 259.52,506.47 260.00,507.30 260.48,508.06 260.94,508.81 261.43,509.50 262.00,510.10 262.42,510.44 262.85,510.74 263.31,511.00 263.81,511.24 264.37,511.47 265.00,511.70 265.42,511.84 265.87,511.98 266.35,512.11 266.86,512.24 267.38,512.37 267.90,512.49 268.44,512.60 268.97,512.71 269.49,512.81 270.00,512.90 270.50,512.98 271.00,513.04 271.50,513.08 272.00,513.12 272.50,513.16 273.00,513.19 273.50,513.23 274.00,513.27 274.50,513.33 275.00,513.40 275.50,513.49 276.00,513.58 276.50,513.69 277.00,513.80 277.50,513.91 278.00,514.03 278.50,514.15 279.00,514.27 279.50,514.39 280.00,514.50 280.50,514.61 281.00,514.74 281.50,514.86 282.00,514.99 282.50,515.12 283.00,515.24 283.50,515.35 284.00,515.45 284.50,515.53 285.00,515.60 285.50,515.64 286.00,515.66 286.50,515.66 287.00,515.65 287.50,515.63 288.00,515.61 288.50,515.59 289.00,515.58 289.50,515.58 290.00,515.60 290.50,515.64 291.00,515.71 291.50,515.78 292.00,515.87 292.50,515.96 293.00,516.04 293.50,516.11 294.00,516.17 294.50,516.20 295.00,516.20 295.50,516.17 296.00,516.11 296.50,516.03 297.00,515.93 297.50,515.83 298.00,515.71 298.50,515.60 299.00,515.48 299.50,515.38 300.00,515.30 300.50,515.22 301.00,515.14 301.50,515.06 302.00,514.98 302.50,514.91 303.00,514.84 303.50,514.78 304.00,514.74 304.50,514.71 305.00,514.70 305.50,514.71 306.00,514.73 306.50,514.77 307.00,514.82 307.50,514.88 308.00,514.95 308.50,515.03 309.00,515.12 309.50,515.21 310.00,515.30 310.50,515.40 311.00,515.52 311.50,515.64 312.00,515.77 312.50,515.91 313.00,516.05 313.50,516.19 314.00,516.33 314.50,516.47 315.00,516.60 315.50,516.74 316.00,516.90 316.50,517.07 317.00,517.24 317.50,517.41 318.00,517.57 318.50,517.70 319.00,517.81 319.50,517.88 320.00,517.90 320.50,517.88 321.00,517.81 321.50,517.71 322.00,517.59 322.50,517.44 323.00,517.27 323.50,517.10 324.00,516.93 324.50,516.76 325.00,516.60 325.50,516.45 326.00,516.28 326.50,516.11 327.00,515.94 327.50,515.76 328.00,515.58 328.50,515.41 329.00,515.23 329.50,515.06 330.00,514.90 330.50,514.72 331.00,514.52 331.50,514.31 332.00,514.09 332.50,513.88 333.00,513.70 333.50,513.54 334.00,513.43 334.50,513.38 335.00,513.40 335.48,513.50 335.92,513.69 336.34,513.94 336.76,514.24 337.19,514.57 337.64,514.91 338.13,515.24 338.68,515.54 339.30,515.80 340.00,516.00 340.39,516.08 340.80,516.14 341.23,516.21 341.68,516.26 342.15,516.31 342.63,516.35 343.13,516.39 343.64,516.42 344.16,516.45 344.69,516.47 345.22,516.50 345.76,516.51 346.30,516.53 346.84,516.54 347.38,516.55 347.92,516.56 348.45,516.57 348.98,516.58 349.49,516.59 350.00,516.60 350.51,516.61 351.02,516.62 351.55,516.62 352.08,516.62 352.62,516.62 353.16,516.62 353.70,516.62 354.24,516.62 354.78,516.61 355.31,516.60 355.84,516.59 356.36,516.58 356.87,516.56 357.37,516.54 357.85,516.53 358.32,516.50 358.77,516.48 359.20,516.46 359.61,516.43 360.00,516.40 360.68,516.32 361.24,516.21 361.71,516.09 362.12,515.95 362.50,515.81 362.88,515.67 363.29,515.56 363.76,515.47 364.32,515.41 365.00,515.40 365.39,515.42 365.80,515.44 366.23,515.49 366.68,515.54 367.15,515.60 367.63,515.67 368.13,515.75 368.64,515.83 369.16,515.92 369.69,516.01 370.22,516.10 370.76,516.18 371.30,516.27 371.84,516.36 372.38,516.43 372.92,516.51 373.45,516.57 373.98,516.62 374.49,516.67 375.00,516.70 375.50,516.72 376.00,516.74 376.50,516.74 377.00,516.75 377.50,516.74 378.00,516.73 378.50,516.72 379.00,516.70 379.50,516.69 380.00,516.66 380.50,516.64 381.00,516.61 381.50,516.58 382.00,516.56 382.50,516.53 383.00,516.50 383.50,516.47 384.00,516.45 384.50,516.42 385.00,516.40 385.51,516.38 386.02,516.35 386.55,516.32 387.08,516.29 387.62,516.26 388.16,516.22 388.70,516.19 389.24,516.15 389.78,516.12 390.31,516.08 390.84,516.05 391.36,516.02 391.87,515.99 392.37,515.96 392.85,515.94 393.32,515.92 393.77,515.91 394.20,515.90 394.61,515.90 395.00,515.90 395.68,515.93 396.24,515.98 396.71,516.04 397.12,516.12 397.50,516.21 397.88,516.31 398.29,516.41 398.76,516.51 399.32,516.61 400.00,516.70 400.39,516.74 400.80,516.79 401.23,516.84 401.68,516.89 402.15,516.94 402.63,516.99 403.13,517.04 403.64,517.10 404.16,517.15 404.69,517.20 405.22,517.25 405.76,517.30 406.30,517.35 406.84,517.39 407.38,517.44 407.92,517.48 408.45,517.51 408.98,517.55 409.49,517.58 410.00,517.60 410.50,517.62 411.00,517.64 411.50,517.65 412.00,517.66 412.50,517.67 413.00,517.68 413.50,517.68 414.00,517.68 414.50,517.68 415.00,517.68 415.50,517.68 416.00,517.67 416.50,517.67 417.00,517.66 417.50,517.65 418.00,517.64 418.50,517.63 419.00,517.62 419.50,517.61 420.00,517.60 420.50,517.59 421.00,517.57 421.50,517.55 422.00,517.52 422.50,517.49 423.00,517.46 423.50,517.43 424.00,517.40 424.50,517.36 425.00,517.33 425.50,517.30 426.00,517.27 426.50,517.25 427.00,517.22 427.50,517.20 428.00,517.19 428.50,517.18 429.00,517.18 429.50,517.19 430.00,517.20 430.50,517.22 431.00,517.25 431.50,517.30 432.00,517.34 432.50,517.40 433.00,517.46 433.50,517.52 434.00,517.59 434.50,517.66 435.00,517.73 435.50,517.80 436.00,517.87 436.50,517.94 437.00,518.01 437.50,518.07 438.00,518.13 438.50,518.19 439.00,518.23 439.50,518.27 440.00,518.30 440.50,518.32 441.00,518.34 441.50,518.36 442.00,518.37 442.50,518.38 443.00,518.38 443.50,518.38 444.00,518.38 444.50,518.38 445.00,518.37 445.50,518.36 446.00,518.35 446.50,518.33 447.00,518.32 447.50,518.30 448.00,518.28 448.50,518.26 449.00,518.24 449.50,518.22 450.00,518.20 450.50,518.17 451.00,518.14 451.50,518.11 452.00,518.07 452.50,518.03 453.00,517.99 453.50,517.94 454.00,517.89 454.50,517.84 455.00,517.79 455.50,517.74 456.00,517.70 456.50,517.65 457.00,517.60 457.50,517.56 458.00,517.52 458.50,517.48 459.00,517.45 459.50,517.42 460.00,517.40 460.50,517.38 461.00,517.36 461.50,517.35 462.00,517.34 462.50,517.32 463.00,517.32 463.50,517.31 464.00,517.30 464.50,517.30 465.00,517.30 465.50,517.30 466.00,517.30 466.50,517.31 467.00,517.32 467.50,517.32 468.00,517.34 468.50,517.35 469.00,517.36 469.50,517.38 470.00,517.40 470.49,517.42 470.95,517.45 471.40,517.48 471.84,517.52 472.27,517.56 472.69,517.61 473.10,517.65 473.52,517.70 473.94,517.75 474.38,517.80 474.82,517.85 475.28,517.90 475.76,517.95 476.26,517.99 476.80,518.04 477.36,518.08 477.96,518.12 478.59,518.15 479.27,518.18 480.00,518.20 480.38,518.21 480.77,518.22 481.18,518.22 481.60,518.23 482.02,518.23 482.46,518.24 482.90,518.24 483.36,518.24 483.82,518.24 484.30,518.24 484.78,518.24 485.26,518.24 485.76,518.24 486.26,518.24 486.77,518.24 487.28,518.23 487.80,518.23 488.32,518.23 488.85,518.22 489.38,518.22 489.91,518.21 490.44,518.21 490.98,518.21 491.52,518.20 492.06,518.20 492.60,518.19 493.14,518.19 493.69,518.19 494.23,518.19 494.77,518.18 495.30,518.18 495.84,518.18 496.37,518.18 496.90,518.18 497.43,518.18 497.96,518.18 498.47,518.19 498.99,518.19 499.50,518.19 500.00,518.20 500.50,518.21 501.01,518.21 501.51,518.22 502.02,518.23 502.54,518.25 503.05,518.26 503.57,518.27 504.09,518.28 504.61,518.30 505.13,518.31 505.65,518.33 506.17,518.34 506.70,518.36 507.22,518.38 507.74,518.39 508.26,518.41 508.79,518.43 509.31,518.45 509.83,518.46 510.34,518.48 510.86,518.50 511.37,518.52 511.89,518.53 512.40,518.55 512.90,518.56 513.41,518.58 513.91,518.59 514.40,518.61 514.90,518.62 515.39,518.63 515.87,518.65 516.35,518.66 516.83,518.67 517.30,518.67 517.76,518.68 518.22,518.69 518.68,518.69 519.12,518.70 519.57,518.70 520.00,518.70 520.60,518.70 521.20,518.69 521.80,518.69 522.40,518.68 523.00,518.67 523.60,518.65 524.20,518.64 524.80,518.62 525.39,518.60 525.97,518.58 526.55,518.56 527.12,518.54 527.68,518.52 528.23,518.49 528.77,518.47 529.29,518.45 529.81,518.42 530.31,518.40 530.79,518.37 531.25,518.35 531.70,518.33 532.13,518.31 532.54,518.29 532.92,518.27 533.29,518.25 533.63,518.24 533.95,518.22 534.24,518.21 534.50,518.20" fill="none" stroke="#0000ee" stroke-width="2.7" stroke-linejoin="round" stroke-linecap="round" clip-path="url(#cpf)"/>
<polyline points="25.30,514.90 25.65,514.17 26.13,513.12 26.70,511.92 27.34,510.73 28.00,509.70 28.51,509.07 29.08,508.45 29.68,507.86 30.28,507.30 30.87,506.80 31.42,506.36 31.90,506.00 32.53,505.65 33.01,505.55 33.48,505.48 34.10,505.20 34.55,504.89 35.05,504.51 35.58,504.07 36.14,503.61 36.70,503.15 37.26,502.70 37.80,502.30 38.32,501.92 38.83,501.52 39.34,501.13 39.86,500.76 40.38,500.44 40.93,500.18 41.50,500.00 41.96,499.93 42.43,499.91 42.91,499.94 43.41,500.00 43.91,500.09 44.42,500.19 44.94,500.30 45.46,500.41 46.00,500.50 46.48,500.60 46.96,500.73 47.44,500.89 47.92,501.06 48.42,501.22 48.93,501.36 49.46,501.48 50.01,501.55 50.59,501.56 51.20,501.50 51.66,501.40 52.15,501.23 52.67,501.03 53.20,500.78 53.74,500.51 54.30,500.22 54.86,499.92 55.42,499.62 55.98,499.34 56.53,499.09 57.07,498.86 57.60,498.69 58.11,498.56 58.60,498.50 59.20,498.51 59.77,498.59 60.34,498.73 60.89,498.92 61.42,499.15 61.95,499.42" fill="none" stroke="#00f000" stroke-width="2.7" stroke-linejoin="round" stroke-linecap="round" clip-path="url(#cpf)"/>
<polyline points="25.30,379.16 25.45,352.26 26.03,352.26 26.33,379.46 26.63,378.65 26.93,379.95 27.23,381.74 27.53,374.07 27.83,376.37 28.13,374.04 28.43,381.93 28.73,380.66 29.03,373.52 29.33,383.83 29.63,383.64 29.93,380.24 30.23,379.82 30.53,374.81 30.83,373.25 31.13,378.88 31.28,336.80 31.71,336.80 32.01,375.74 32.31,378.18 32.61,377.93 32.91,382.33 33.21,378.80 33.51,380.12 33.81,378.59 34.11,380.37 34.41,378.13 34.71,376.18 35.01,384.04 35.31,384.02 35.61,382.33 35.91,380.88 36.21,376.60 36.51,375.67 36.81,376.32 37.11,373.94 37.41,381.53 37.56,336.80 38.30,336.80 38.60,377.39 38.90,382.43 39.20,373.21 39.50,375.49 39.80,383.12 40.10,378.33 40.40,383.89 40.70,377.55 41.00,374.03 41.30,380.08 41.60,381.70 41.90,376.18 42.20,374.20 42.50,376.87 42.80,383.73 43.10,381.49 43.40,374.55 43.70,375.95 44.00,374.37 44.30,373.93 44.60,381.93 44.90,375.22 45.20,379.36 45.50,378.15 45.80,375.37 46.10,381.24 46.40,374.73 46.55,336.80 46.95,336.80 47.25,377.87 47.55,376.25 47.85,383.84 48.15,382.03 48.45,376.63 48.75,382.91 49.05,375.63 49.35,377.62 49.65,382.59 49.95,380.30 50.25,374.45 50.55,384.05 50.85,375.68 51.15,376.17 51.30,336.80 51.80,336.80 52.10,376.58 52.40,374.37 52.70,379.69 53.00,376.03 53.30,379.89 53.60,377.42 53.90,378.30 54.20,383.75 54.50,378.64 54.80,379.62 55.10,382.76 55.40,375.41 55.70,375.10 56.00,383.22 56.30,382.25 56.60,376.14 56.90,375.50 57.20,381.41 57.35,343.42 58.12,343.42 58.42,382.95 58.72,378.01 59.02,374.61 59.32,373.91 59.62,383.83 59.92,376.06 60.22,381.07 60.52,376.27 60.82,382.35 61.12,379.92 61.42,376.67 61.72,375.41 62.02,381.25 62.32,374.28 62.62,375.99 62.92,379.54 63.22,382.68 63.52,380.13 63.82,376.56 64.12,383.38 64.42,375.75 64.72,373.75 65.02,376.46 65.32,378.35 65.47,336.80 65.90,336.80 66.20,377.53 66.50,375.01 66.80,377.47 67.10,383.12 67.40,384.07 67.70,380.63 68.00,380.99 68.30,379.86 68.60,375.13 68.90,374.01 69.20,373.83 69.50,383.34 69.80,381.11 70.10,383.90 70.40,373.89 70.70,380.43 71.00,378.80 71.30,381.44 71.60,377.07 71.90,384.31 72.05,336.80 72.65,336.80 72.95,381.52 73.25,381.53 73.55,381.18 73.85,382.13 74.15,383.43 74.45,377.45 74.75,380.99 75.05,383.28 75.35,382.97 75.65,378.16 75.95,382.12 76.25,382.89 76.55,379.82 76.85,380.37 77.15,377.81 77.45,379.93 77.75,380.21 78.05,374.62 78.35,380.54 78.65,384.29 78.95,383.09 79.25,381.49 79.40,336.80 80.08,336.80 80.38,379.93 80.68,382.66 80.98,374.70 81.28,381.74 81.58,374.14 81.88,380.17 82.18,378.91 82.48,376.26 82.78,381.20 83.08,379.09 83.38,380.33 83.68,383.55 83.98,376.55 84.28,373.98 84.58,377.04 84.73,336.80 85.17,336.80 85.47,375.65 85.77,380.83 86.07,378.54 86.37,383.27 86.67,377.33 86.97,380.90 87.27,375.99 87.57,378.44 87.87,382.38 88.17,383.52 88.47,383.17 88.77,377.96 89.07,380.05 89.37,377.26 89.67,375.37 89.97,379.15 90.27,382.73 90.57,382.85 90.87,381.41 91.17,383.92 91.47,376.87 91.77,375.74 92.07,378.69 92.37,376.86 92.52,336.80 93.06,336.80 93.36,380.53 93.66,377.30 93.96,382.78 94.26,384.27 94.56,378.74 94.86,374.80 95.16,374.35 95.46,383.14 95.76,374.46 96.06,381.43 96.36,379.99 96.66,377.27 96.96,382.30 97.26,374.25 97.56,375.47 97.86,378.80 98.16,374.32 98.31,344.93 98.72,344.93 99.02,374.55 99.32,378.73 99.62,380.64 99.92,380.91 100.22,382.50 100.52,384.07 100.82,381.22 101.12,376.18 101.42,379.05 101.72,375.97 102.02,374.23 102.32,379.03 102.62,381.55 102.92,375.99 103.22,376.96 103.52,377.73 103.82,381.38 104.12,379.55 104.42,380.53 104.72,382.00 105.02,378.24 105.17,336.80 105.93,336.80 106.23,375.07 106.53,381.66 106.83,375.53 107.13,378.88 107.43,380.67 107.73,383.61 108.03,378.10 108.33,380.09 108.63,383.30 108.93,382.45 109.23,383.97 109.53,379.01 109.83,380.95 110.13,376.35 110.43,381.69 110.73,382.68 111.03,380.86 111.33,381.65 111.63,376.46 111.93,383.53 112.23,384.36 112.38,355.31 113.08,355.31 113.38,377.57 113.68,383.09 113.98,377.88 114.28,375.15 114.58,378.83 114.88,379.96 115.18,382.20 115.48,379.32 115.78,374.61 116.08,382.62 116.38,374.99 116.68,382.53 116.98,376.11 117.28,377.77 117.58,382.42 117.88,375.79 118.18,375.88 118.48,379.65 118.78,381.77 118.93,360.63 119.71,360.63 120.01,379.40 120.31,375.27 120.61,376.65 120.91,379.77 121.21,377.36 121.51,381.84 121.81,380.93 122.11,379.74 122.41,383.02 122.71,380.13 123.01,377.60 123.31,378.31 123.61,383.04 123.91,383.61 124.21,376.56 124.51,383.10 124.81,384.30 125.11,379.79 125.41,380.29 125.71,376.51 125.86,336.80 126.44,336.80 126.74,380.62 127.04,384.32 127.34,379.73 127.64,378.56 127.94,382.62 128.24,380.21 128.54,379.48 128.84,381.51 129.14,375.18 129.44,379.98 129.74,378.71 129.89,368.86 130.36,368.86 130.66,379.31 130.96,378.93 131.26,382.79 131.56,383.65 131.86,379.37 132.16,377.76 132.46,376.50 132.76,380.81 133.06,383.91 133.36,375.88 133.66,382.44 133.96,374.81 134.26,376.55 134.56,376.88 134.86,381.52 135.16,377.85 135.46,378.19 135.76,380.85 136.06,375.67 136.36,381.97 136.66,375.86 136.81,336.80 137.27,336.80 137.57,376.61 137.87,379.03 138.17,378.42 138.47,378.80 138.77,379.97 139.07,376.26 139.37,376.71 139.67,381.00 139.97,381.07 140.27,379.99 140.57,383.21 140.87,380.81 141.17,383.27 141.47,377.02 141.77,382.11 142.07,382.81 142.37,383.74 142.67,377.87 142.97,377.87 143.27,383.94 143.57,376.90 143.87,384.70 144.17,383.60 144.47,376.07 144.62,336.80 145.30,336.80 145.60,377.33 145.90,383.06 146.20,378.97 146.50,382.64 146.80,376.03 147.10,378.79 147.40,381.60 147.70,374.96 148.00,376.79 148.30,381.58 148.60,383.86 148.90,384.43 149.20,375.95 149.50,379.84 149.80,382.35 149.95,336.80 150.60,336.80 150.90,376.69 151.20,375.89 151.50,375.21 151.80,380.31 152.10,379.95 152.40,380.49 152.70,376.31 153.00,376.69 153.30,376.89 153.60,383.19 153.90,384.67 154.20,384.05 154.50,375.83 154.80,375.50 155.10,384.30 155.40,379.46 155.70,382.45 156.00,378.13 156.30,379.52 156.45,336.80 157.00,336.80 157.30,380.84 157.60,381.84 157.90,383.25 158.20,376.72 158.50,379.41 158.80,382.23 159.10,378.94 159.40,376.88 159.70,376.58 160.00,380.01 160.30,375.12 160.60,383.75 160.90,382.86 161.20,381.90 161.50,383.44 161.80,381.17 162.10,378.96 162.40,380.88 162.70,379.95 162.85,365.13 163.31,365.13 163.61,383.94 163.91,382.64 164.21,383.01 164.51,379.00 164.81,383.81 165.11,383.65 165.41,381.84 165.71,382.55 166.01,382.53 166.31,379.02 166.61,382.12 166.91,375.75 167.21,378.41 167.51,379.65 167.81,375.18 168.11,378.55 168.41,381.32 168.71,381.18 169.01,377.36 169.31,384.31 169.61,381.59 169.91,378.40 170.21,381.54 170.51,380.66 170.81,380.31 171.11,378.92 171.41,384.86 171.56,336.80 172.23,336.80 172.53,382.54 172.83,375.37 173.13,381.13 173.43,382.33 173.73,377.65 174.03,379.06 174.33,375.66 174.63,377.07 174.93,378.82 175.23,376.14 175.53,377.62 175.83,383.97 176.13,380.52 176.43,380.12 176.73,384.57 177.03,380.71 177.33,384.84 177.63,381.39 177.93,383.05 178.23,375.97 178.53,381.01 178.68,336.80 179.05,336.80 179.35,384.22 179.65,379.80 179.95,376.89 180.25,380.04 180.55,381.15 180.85,375.83 181.15,384.38 181.45,379.33 181.75,380.35 182.05,381.04 182.35,378.81 182.65,378.04 182.95,381.60 183.10,336.80 183.58,336.80 183.88,382.19 184.18,375.45 184.48,377.67 184.78,375.73 185.08,376.83 185.38,382.57 185.68,379.08 185.98,383.95 186.28,382.52 186.58,375.83 186.88,384.83 187.18,384.40 187.48,376.07 187.78,384.03 188.08,379.48 188.38,379.94 188.68,384.69 188.98,377.71 189.28,380.39 189.58,384.35 189.88,382.30 190.03,336.80 190.82,336.80 191.12,383.20 191.42,376.52 191.72,381.38 192.02,379.77 192.32,377.37 192.62,375.93 192.92,380.47 193.22,376.63 193.52,379.67 193.82,381.81 194.12,379.79 194.42,377.96 194.72,381.00 195.02,379.46 195.32,382.87 195.62,380.52 195.92,384.96 196.22,384.53 196.52,382.46 196.82,377.76 197.12,376.58 197.42,383.97 197.57,359.12 198.08,359.12 198.38,378.08 198.68,380.87 198.98,381.13 199.28,381.53 199.58,382.66 199.88,377.34 200.18,377.90 200.48,384.82 200.78,384.22 201.08,383.87 201.38,375.94 201.68,376.15 201.98,378.14 202.28,379.60 202.58,381.49 202.88,376.56 203.18,380.72 203.48,376.28 203.78,376.42 204.08,382.01 204.23,336.80 204.86,336.80 205.16,379.14 205.46,377.62 205.76,378.89 206.06,382.70 206.36,383.60 206.66,376.35 206.96,376.78 207.26,383.33 207.56,381.58 207.86,382.96 208.16,377.69 208.46,379.70 208.76,378.13 209.06,383.37 209.36,379.19 209.66,381.90 209.96,385.10 210.26,378.79 210.41,336.80 211.10,336.80 211.40,384.45 211.70,379.23 212.00,376.64 212.30,384.06 212.60,376.48 212.90,376.52 213.20,381.11 213.50,380.36 213.80,382.28 214.10,378.60 214.40,383.15 214.70,376.48 215.00,377.80 215.30,382.08 215.60,376.55 215.90,378.68 216.20,382.70 216.50,382.41 216.80,378.49 216.95,336.80 217.46,336.80 217.76,382.72 218.06,376.93 218.36,382.59 218.66,381.26 218.96,384.60 219.26,384.81 219.56,384.56 219.86,380.02 220.16,383.52 220.46,378.76 220.76,378.89 221.06,379.68 221.36,384.80 221.66,384.43 221.96,378.24 222.26,379.33 222.56,379.37 222.86,379.36 223.16,379.67 223.31,336.80 223.75,336.80 224.05,381.28 224.35,381.08 224.65,383.92 224.95,381.31 225.25,377.61 225.55,383.20 225.85,384.37 226.15,378.63 226.45,376.14 226.75,380.88 227.05,381.16 227.35,381.39 227.65,385.23 227.95,382.21 228.25,383.68 228.55,376.58 228.85,381.22 229.15,383.55 229.45,376.78 229.75,376.76 230.05,383.07 230.35,384.64 230.65,376.81 230.95,382.10 231.10,336.80 231.78,336.80 232.08,382.24 232.38,378.14 232.68,383.39 232.98,381.05 233.28,383.40 233.58,379.83 233.88,379.29 234.18,385.38 234.48,382.53 234.78,380.81 235.08,381.24 235.38,383.02 235.68,382.90 235.98,384.90 236.13,336.80 236.86,336.80 237.16,382.50 237.46,383.87 237.76,384.15 238.06,384.69 238.36,385.36 238.66,382.30 238.96,381.18 239.26,382.98 239.56,383.88 239.86,380.20 240.16,380.20 240.46,377.55 240.76,383.31 241.06,385.73 241.36,379.78 241.66,377.77 241.96,378.13 242.26,380.28 242.56,378.99 242.86,385.56 243.16,376.75 243.46,379.17 243.76,377.29 244.06,382.47 244.21,343.33 244.58,343.33 244.88,380.63 245.18,385.02 245.48,376.56 245.78,377.27 246.08,378.01 246.38,378.33 246.68,378.51 246.98,383.19 247.28,382.01 247.58,378.41 247.88,378.04 248.18,378.98 248.48,377.93 248.78,383.62 249.08,379.29 249.38,381.59 249.68,384.22 249.98,380.94 250.13,336.80 250.88,336.80 251.18,385.17 251.48,381.62 251.78,385.62 252.08,381.00 252.38,378.46 252.68,376.80 252.98,385.55 253.28,384.13 253.58,380.08 253.88,381.47 254.18,381.36 254.48,379.02 254.78,386.00 255.08,382.76 255.38,378.67 255.68,376.46 255.98,380.97 256.13,336.80 256.84,336.80 257.14,383.32 257.44,377.92 257.74,377.92 258.04,379.53 258.34,378.93 258.64,384.89 258.94,381.45 259.24,382.64 259.54,386.12 259.84,379.02 260.14,381.65 260.44,377.90 260.74,383.97 261.04,376.45 261.34,384.48 261.64,384.73 261.94,384.50 262.24,377.26 262.54,379.10 262.84,383.48 263.14,377.42 263.44,381.17 263.59,336.80 264.37,336.80 264.67,382.22 264.97,379.47 265.27,384.24 265.57,380.59 265.87,385.50 266.17,377.40 266.47,384.62 266.77,378.56 267.07,381.86 267.37,381.69 267.67,378.08 267.97,384.71 268.27,379.60 268.57,379.60 268.87,377.29 269.17,379.56 269.47,381.15 269.77,383.59 270.07,380.10 270.37,383.33 270.67,377.61 270.82,336.80 271.38,336.80 271.68,386.09 271.98,383.03 272.28,376.72 272.58,380.32 272.88,383.60 273.18,378.95 273.48,382.17 273.78,381.13 274.08,376.73 274.38,386.41 274.68,384.52 274.98,378.68 275.28,382.72 275.58,379.51 275.88,380.36 276.18,381.98 276.48,379.60 276.78,379.99 277.08,380.54 277.23,336.80 277.70,336.80 278.00,378.64 278.30,379.94 278.60,386.03 278.90,382.26 279.20,383.85 279.50,379.98 279.80,384.88 280.10,377.62 280.40,378.11 280.70,377.65 281.00,383.43 281.30,383.74 281.60,378.51 281.90,380.72 282.20,385.03 282.50,382.62 282.80,377.64 283.10,379.00 283.40,378.32 283.55,336.80 284.08,336.80 284.38,377.48 284.68,381.01 284.98,381.86 285.28,383.21 285.58,384.40 285.88,384.94 286.18,380.63 286.48,380.09 286.78,380.90 287.08,376.97 287.38,380.80 287.68,383.77 287.98,386.58 288.28,384.68 288.58,383.40 288.88,382.89 289.18,377.03 289.48,380.14 289.78,380.25 290.08,383.33 290.38,377.92 290.68,380.62 290.83,336.80 291.53,336.80 291.83,385.07 292.13,378.46 292.43,384.52 292.73,385.89 293.03,382.36 293.33,380.42 293.63,381.89 293.93,378.32 294.23,384.03 294.53,386.76 294.83,382.07 295.13,384.06 295.43,385.27 295.73,378.91 296.03,386.37 296.33,383.21 296.48,336.80 296.87,336.80 297.17,379.39 297.47,383.92 297.77,380.26 298.07,386.25 298.37,380.59 298.67,381.61 298.97,378.22 299.27,386.72 299.57,378.35 299.87,386.04 300.17,382.44 300.47,382.61 300.77,382.61 301.07,379.66 301.37,386.11 301.67,386.94 301.97,385.19 302.27,383.04 302.57,378.27 302.87,385.27 303.02,336.80 303.77,336.80 304.07,379.45 304.37,385.35 304.67,378.93 304.97,382.54 305.27,377.85 305.57,377.41 305.87,378.89 306.17,386.92 306.47,386.45 306.77,383.66 307.07,380.18 307.37,383.80 307.67,384.46 307.97,380.93 308.27,383.02 308.57,385.12 308.87,377.31 309.17,379.14 309.47,381.80 309.62,336.80 310.15,336.80 310.45,382.81 310.75,382.33 311.05,379.80 311.35,382.82 311.65,380.49 311.95,383.55 312.25,377.58 312.55,383.85 312.85,378.65 313.15,386.71 313.45,383.16 313.75,381.88 314.05,381.30 314.35,383.40 314.65,384.06 314.95,384.74 315.10,355.00 315.90,355.00 316.20,385.53 316.50,381.31 316.80,381.56 317.10,382.87 317.40,386.21 317.70,382.48 318.00,382.47 318.30,381.57 318.60,386.21 318.90,380.48 319.20,377.87 319.50,384.47 319.80,386.18 320.10,384.53 320.40,383.22 320.70,384.74 321.00,380.35 321.30,383.19 321.60,378.05 321.90,378.59 322.20,381.76 322.50,382.31 322.80,381.28 323.10,377.90 323.40,384.21 323.55,336.80 324.00,336.80 324.30,380.40 324.60,379.73 324.90,378.10 325.20,386.34 325.50,386.88 325.80,383.95 326.10,385.91 326.40,381.57 326.70,385.32 327.00,379.63 327.30,384.75 327.60,383.00 327.90,386.29 328.20,378.44 328.50,385.21 328.80,378.70 328.95,336.80 329.73,336.80 330.03,377.50 330.33,380.43 330.63,380.68 330.93,378.14 331.23,386.24 331.53,385.47 331.83,381.41 332.13,381.01 332.43,383.24 332.73,378.01 333.03,377.87 333.33,386.29 333.63,380.56 333.93,382.42 334.23,386.64 334.53,387.07 334.83,382.18 335.13,379.60 335.28,336.80 336.05,336.80 336.35,386.29 336.65,385.74 336.95,381.06 337.25,382.21 337.55,379.30 337.85,386.15 338.15,387.27 338.45,379.61 338.75,383.77 339.05,379.52 339.35,386.17 339.65,378.16 339.95,378.71 340.25,384.69 340.55,380.71 340.85,386.38 341.15,386.09 341.45,384.58 341.60,336.80 342.26,336.80 342.56,386.75 342.86,378.49 343.16,379.89 343.46,380.70 343.76,384.58 344.06,379.64 344.36,379.50 344.66,380.03 344.96,384.15 345.26,385.37 345.56,381.36 345.86,384.14 346.16,386.28 346.46,383.45 346.76,380.00 347.06,380.69 347.36,386.69 347.66,384.21 347.96,380.47 348.26,383.95 348.56,378.69 348.71,353.55 349.30,353.55 349.60,382.91 349.90,383.59 350.20,380.58 350.50,380.26 350.80,385.54 351.10,378.71 351.40,380.60 351.70,385.10 352.00,380.24 352.30,380.56 352.60,383.13 352.90,379.68 353.20,386.46 353.50,387.33 353.80,378.24 354.10,382.32 354.40,385.08 354.55,336.80 355.32,336.80 355.62,382.69 355.92,383.24 356.22,384.09 356.52,381.38 356.82,384.23 357.12,385.41 357.42,382.89 357.72,382.79 358.02,386.02 358.32,384.49 358.62,382.94 358.92,387.03 359.22,379.66 359.52,385.41 359.82,379.59 360.12,383.79 360.42,380.26 360.72,382.21 361.02,385.36 361.32,385.49 361.47,345.82 362.04,345.82 362.34,380.14 362.64,382.79 362.94,378.41 363.24,383.72 363.54,384.84 363.84,383.50 364.14,386.33 364.44,379.80 364.74,379.54 365.04,378.28 365.34,382.79 365.64,382.22 365.94,382.29 366.24,380.61 366.54,385.66 366.84,378.83 367.14,386.69 367.44,383.51 367.74,383.27 368.04,385.61 368.34,380.41 368.64,379.55 368.94,381.10 369.09,336.80 369.58,336.80 369.88,384.02 370.18,380.68 370.48,383.73 370.78,379.04 371.08,385.91 371.38,379.83 371.68,380.61 371.98,379.73 372.28,384.70 372.58,386.02 372.88,385.61 373.18,378.82 373.48,382.10 373.78,381.67 374.08,380.29 374.38,387.34 374.68,378.67 374.98,382.86 375.28,385.40 375.43,342.36 375.98,342.36 376.28,385.24 376.58,380.55 376.88,386.62 377.18,379.64 377.48,381.99 377.78,381.11 378.08,382.29 378.38,379.05 378.68,378.66 378.98,387.62 379.28,385.46 379.58,385.19 379.88,380.50 380.18,380.72 380.48,383.51 380.78,380.63 380.93,336.80 381.70,336.80 382.00,381.76 382.30,387.51 382.60,384.08 382.90,378.79 383.20,382.16 383.50,384.45 383.80,378.97 384.10,381.62 384.40,384.88 384.70,386.45 385.00,383.92 385.30,386.66 385.60,382.74 385.90,382.10 386.20,386.27 386.50,382.00 386.80,385.70 387.10,380.48 387.40,381.70 387.70,380.19 388.00,383.58 388.15,336.80 388.59,336.80 388.89,380.48 389.19,381.37 389.49,382.65 389.79,387.69 390.09,384.80 390.39,386.49 390.69,380.43 390.99,382.08 391.29,379.23 391.59,384.92 391.89,381.91 392.19,381.10 392.49,378.75 392.79,380.26 393.09,381.00 393.39,382.20 393.69,387.08 393.99,385.17 394.29,381.08 394.59,381.93 394.89,380.03 395.04,350.77 395.74,350.77 396.04,385.26 396.34,378.83 396.64,381.60 396.94,382.17 397.24,379.42 397.54,386.74 397.84,381.65 398.14,385.72 398.44,383.43 398.74,379.19 399.04,382.29 399.34,380.87 399.64,379.08 399.94,380.08 400.24,384.14 400.54,379.01 400.84,381.57 401.14,382.59 401.44,383.69 401.74,379.98 402.04,385.18 402.34,381.12 402.64,385.36 402.79,342.53 403.23,342.53 403.53,381.31 403.83,382.46 404.13,382.29 404.43,386.65 404.73,380.84 405.03,381.45 405.33,381.93 405.63,380.76 405.93,379.18 406.23,379.04 406.53,384.54 406.83,383.96 407.13,386.16 407.43,387.67 407.73,381.54 408.03,384.92 408.33,387.17 408.63,380.81 408.93,385.10 409.08,374.11 409.82,374.11 410.12,380.98 410.42,379.70 410.72,382.75 411.02,382.44 411.32,379.45 411.62,382.37 411.92,381.87 412.22,383.40 412.52,381.45 412.82,380.36 413.12,382.56 413.42,383.22 413.72,380.45 414.02,384.94 414.32,381.11 414.62,379.80 414.92,382.04 415.22,382.77 415.37,336.80 415.98,336.80 416.28,385.28 416.58,385.28 416.88,379.20 417.18,382.52 417.48,382.28 417.78,379.58 418.08,382.64 418.38,379.51 418.68,383.47 418.98,384.28 419.28,383.24 419.58,381.96 419.88,381.32 420.18,379.26 420.48,382.16 420.78,387.04 421.08,384.13 421.38,381.42 421.68,385.05 421.83,336.80 422.39,336.80 422.69,384.58 422.99,382.34 423.29,384.25 423.59,387.52 423.89,386.00 424.19,384.71 424.49,384.66 424.79,382.79 425.09,382.84 425.39,381.60 425.69,386.53 425.99,386.98 426.29,382.56 426.59,387.25 426.89,379.51 427.19,380.38 427.49,383.69 427.79,381.93 428.09,382.39 428.39,387.87 428.69,380.53 428.99,380.91 429.29,381.24 429.44,346.04 429.79,346.04 430.09,384.03 430.39,381.35 430.69,383.61 430.99,385.00 431.29,384.10 431.59,384.78 431.89,384.22 432.19,386.61 432.49,387.83 432.79,382.22 433.09,382.34 433.39,387.11 433.69,382.05 433.99,385.61 434.29,385.44 434.44,374.87 435.17,374.87 435.47,380.70 435.77,383.65 436.07,384.30 436.37,382.59 436.67,381.85 436.97,385.94 437.27,384.05 437.57,381.44 437.87,381.55 438.17,382.22 438.47,380.93 438.77,383.89 439.07,380.48 439.37,379.94 439.67,379.99 439.97,380.29 440.27,385.59 440.57,380.39 440.87,383.37 441.17,386.19 441.47,383.63 441.62,336.80 442.36,336.80 442.66,387.05 442.96,381.67 443.26,383.89 443.56,386.43 443.86,382.89 444.16,385.73 444.46,381.67 444.76,385.73 445.06,382.34 445.36,382.40 445.66,386.12 445.96,386.85 446.26,386.73 446.56,384.46 446.71,336.80 447.37,336.80 447.67,384.94 447.97,386.51 448.27,380.63 448.57,382.82 448.87,385.37 449.17,381.56 449.47,381.16 449.77,379.68 450.07,384.66 450.37,387.75 450.67,388.01 450.97,380.74 451.27,385.56 451.57,383.23 451.87,385.08 452.17,383.05 452.47,387.71 452.77,388.19 453.07,380.04 453.37,385.81 453.67,380.65 453.97,380.00 454.27,382.12 454.57,385.98 454.87,388.25 455.17,380.69 455.32,336.80 455.69,336.80 455.99,384.35 456.29,382.90 456.59,382.35 456.89,386.60 457.19,386.93 457.49,382.14 457.79,383.08 458.09,385.03 458.39,386.31 458.69,388.18 458.99,383.08 459.29,385.71 459.59,384.43 459.89,386.63 460.19,381.00 460.49,381.25 460.79,380.67 461.09,387.79 461.24,336.80 461.81,336.80 462.11,380.79 462.41,379.94 462.71,384.64 463.01,381.02 463.31,385.16 463.61,382.15 463.91,381.76 464.21,383.94 464.51,382.95 464.81,382.04 465.11,380.26 465.41,380.38 465.71,387.48 466.01,382.49 466.31,380.51 466.61,381.41 466.91,383.99 467.21,388.39 467.36,336.80 468.10,336.80 468.40,384.00 468.70,386.78 469.00,383.27 469.30,380.39 469.60,384.60 469.90,385.51 470.20,385.22 470.50,382.28 470.80,387.92 471.10,387.29 471.40,388.40 471.70,383.71 472.00,387.04 472.30,386.12 472.60,381.45 472.90,380.18 473.20,381.40 473.50,380.98 473.80,380.61 474.10,383.03 474.25,349.25 474.83,349.25 475.13,380.06 475.43,388.14 475.73,380.10 476.03,384.48 476.33,386.88 476.63,386.74 476.93,386.26 477.23,383.41 477.53,386.84 477.83,387.05 478.13,386.54 478.43,388.39 478.73,380.91 479.03,388.10 479.33,383.47 479.63,386.03 479.93,382.19 480.23,387.76 480.38,336.80 480.99,336.80 481.29,382.00 481.59,383.22 481.89,385.65 482.19,386.95 482.49,383.19 482.79,385.50 483.09,383.11 483.39,382.49 483.69,387.76 483.99,382.85 484.29,380.94 484.59,382.97 484.89,386.40 485.19,381.94 485.49,386.42 485.79,384.76 486.09,385.89 486.39,381.67 486.69,381.08 486.99,381.40 487.29,383.14 487.44,336.80 487.79,336.80 488.09,384.42 488.39,382.91 488.69,384.73 488.99,388.21 489.29,381.95 489.59,387.61 489.89,382.93 490.19,386.56 490.49,381.16 490.79,388.52 491.09,383.86 491.39,388.31 491.69,382.11 491.99,383.69 492.29,386.18 492.59,381.78 492.89,382.58 493.19,385.95 493.49,388.21 493.79,383.00 493.94,336.80 494.45,336.80 494.75,388.56 495.05,385.62 495.35,383.49 495.65,385.70 495.95,382.12 496.25,385.48 496.55,387.74 496.85,387.48 497.15,385.59 497.45,384.57 497.75,385.09 498.05,381.33 498.35,387.34 498.65,386.12 498.95,384.16 499.25,385.92 499.55,383.89 499.85,383.60 500.00,336.80 500.62,336.80 500.92,385.16 501.22,380.71 501.52,385.63 501.82,384.14 502.12,385.36 502.42,385.37 502.72,388.16 503.02,381.73 503.32,384.34 503.62,388.67 503.92,386.57 504.22,383.07 504.52,386.57 504.82,388.66 505.12,383.82 505.42,387.66 505.72,381.56 506.02,388.67 506.32,384.57 506.62,382.46 506.92,387.45 507.22,385.88 507.37,370.59 508.08,370.59 508.38,384.75 508.68,381.10 508.98,387.71 509.28,386.42 509.58,382.64 509.88,387.21 510.18,384.32 510.48,384.99 510.78,387.69 511.08,382.21 511.38,382.90 511.68,385.89 511.98,381.23 512.28,385.17 512.58,387.07 512.88,384.65 513.18,382.62 513.48,387.19 513.78,387.64 514.08,386.95 514.38,385.15 514.68,388.06 514.98,387.18 515.28,381.92 515.43,336.80 515.83,336.80 516.13,380.98 516.43,387.74 516.73,387.50 517.03,381.67 517.33,382.19 517.63,383.88 517.93,387.63 518.23,385.75 518.53,388.07 518.83,381.32 519.13,388.77 519.43,382.43 519.73,385.86 520.03,387.88 520.18,344.87 520.83,344.87 521.13,384.26 521.43,383.54 521.73,383.35 522.03,385.90 522.33,383.06 522.63,385.69 522.93,386.43 523.23,382.28 523.53,381.86 523.83,386.43 524.13,384.60 524.43,381.88 524.73,381.78 525.03,388.45 525.33,385.78 525.63,383.74 525.93,382.44 526.08,365.20 526.76,365.20 527.06,383.77 527.36,384.18 527.66,382.07 527.96,385.98 528.26,384.32 528.56,387.51 528.86,384.20 529.16,384.59 529.46,384.99 529.76,388.49 530.06,383.71 530.36,386.59 530.66,382.83 530.96,385.60 531.26,383.24 531.56,387.96 531.86,383.26 532.16,387.82 532.46,386.40 532.76,384.62 533.06,388.46 533.21,336.80 533.89,336.80 534.19,385.80" fill="none" stroke="#ee0000" stroke-width="1.3" stroke-linejoin="round" stroke-linecap="round" clip-path="url(#cpe)"/>
<polyline points="25.30,380.91 25.60,381.00 25.90,375.51 26.20,374.13 26.50,377.95 26.80,376.90 27.10,382.53 27.40,381.27 27.70,380.34 27.85,336.80 28.50,336.80 28.80,375.56 29.10,375.76 29.40,383.55 29.70,374.68 30.00,382.64 30.30,374.86 30.60,381.26 30.90,377.61 31.20,378.32 31.50,382.90 31.80,374.29 32.10,374.74 32.40,383.66 32.70,379.42 33.00,375.07 33.30,384.42 33.60,384.00 33.90,375.30 34.20,378.55 34.35,336.80 34.84,336.80 35.14,380.61 35.44,381.41 35.74,374.69 36.04,375.94 36.34,382.66 36.64,378.34 36.94,378.53 37.24,380.38 37.54,379.14 37.84,378.19 38.14,374.51 38.44,381.75 38.74,384.25 39.04,384.35 39.34,381.10 39.64,377.91 39.94,377.99 40.09,336.80 40.74,336.80 41.04,375.40 41.34,378.01 41.64,379.54 41.94,382.64 42.24,379.43 42.54,374.55 42.84,382.78 43.14,378.72 43.44,379.64 43.74,376.57 44.04,378.70 44.34,378.30 44.64,382.27 44.94,375.35 45.24,379.98 45.54,376.14 45.84,381.50 46.14,374.69 46.44,377.17 46.74,377.87 46.89,336.80 47.26,336.80 47.56,379.06 47.86,377.24 48.16,379.25 48.46,384.23 48.76,379.31 49.06,384.21 49.36,376.08 49.66,383.88 49.96,378.12 50.26,376.32 50.56,382.08 50.86,383.77 51.16,374.45 51.46,377.15 51.76,382.32 52.06,377.91 52.36,376.88 52.66,374.49 52.96,374.82 53.26,380.77 53.41,371.36 53.99,371.36 54.29,374.66 54.59,382.51 54.89,382.97 55.19,381.00 55.49,376.80 55.79,379.86 56.09,379.35 56.39,380.89 56.69,377.15 56.99,384.17 57.29,383.63 57.59,376.13 57.89,377.46 58.19,383.42 58.49,377.34 58.79,384.15 59.09,379.77 59.39,381.62 59.69,381.71 59.99,376.70 60.29,377.43 60.44,336.80 61.10,336.80 61.40,381.61 61.70,383.59 62.00,378.83 62.30,377.00 62.60,378.99 62.90,384.54 63.20,380.27 63.50,380.93 63.80,383.94 64.10,384.37 64.40,382.32 64.70,378.83 65.00,380.57 65.30,383.76 65.60,382.63 65.90,380.50 66.20,378.13 66.35,336.80 67.03,336.80 67.33,380.33 67.63,381.84 67.93,383.81 68.23,382.73 68.53,383.75 68.83,383.88 69.13,380.07 69.43,382.66 69.73,378.50 70.03,375.65 70.33,378.24 70.63,377.83 70.93,384.14 71.23,381.66 71.53,380.17 71.83,380.98 72.13,375.95 72.43,380.10 72.73,381.79 72.88,336.80 73.34,336.80 73.64,378.81 73.94,381.64 74.24,376.15 74.54,375.64 74.84,377.88 75.14,381.76 75.44,382.41 75.74,381.40 76.04,384.18 76.34,378.44 76.64,375.05 76.94,379.68 77.24,379.24 77.54,376.57 77.84,381.50 78.14,378.21 78.44,377.18 78.74,378.08 79.04,384.29 79.34,374.87 79.64,378.42 79.94,377.61 80.09,336.80 80.64,336.80 80.94,377.02 81.24,379.86 81.54,381.84 81.84,376.46 82.14,379.50 82.44,380.93 82.74,383.31 83.04,377.35 83.34,379.46 83.64,383.43 83.94,383.20 84.24,377.14 84.54,380.26 84.84,382.51 85.14,378.84 85.44,381.63 85.74,381.53 86.04,384.63 86.34,380.44 86.64,381.71 86.94,378.41 87.24,382.23 87.54,378.13 87.84,379.92 88.14,378.53 88.29,336.80 88.70,336.80 89.00,377.18 89.30,377.45 89.60,375.40 89.90,382.97 90.20,377.80 90.50,384.30 90.80,380.93 91.10,378.84 91.40,383.68 91.70,383.92 92.00,378.18 92.30,376.23 92.60,381.37 92.90,383.39 93.20,381.05 93.50,382.81 93.80,379.11 93.95,336.80 94.41,336.80 94.71,379.05 95.01,378.85 95.31,379.00 95.61,383.05 95.91,376.72 96.21,377.07 96.51,377.57 96.81,384.69 97.11,380.24 97.41,375.58 97.71,383.35 98.01,383.73 98.31,383.21 98.61,378.63 98.91,382.36 99.21,378.11 99.51,376.44 99.81,383.66 99.96,344.25 100.71,344.25 101.01,375.33 101.31,375.24 101.61,376.81 101.91,376.74 102.21,382.21 102.51,378.06 102.81,377.01 103.11,376.96 103.41,378.23 103.71,383.67 104.01,381.15 104.31,376.17 104.61,381.93 104.91,380.46 105.21,379.60 105.51,380.39 105.81,381.61 106.11,383.09 106.41,380.18 106.56,336.80 107.12,336.80 107.42,381.45 107.72,379.30 108.02,380.31 108.32,382.27 108.62,377.97 108.92,384.35 109.22,380.08 109.52,383.67 109.82,382.04 110.12,384.67 110.42,381.97 110.72,379.46 111.02,379.25 111.32,381.25 111.62,382.69 111.92,383.53 112.22,376.54 112.52,375.89 112.82,376.34 113.12,376.11 113.27,336.80 113.62,336.80 113.92,377.74 114.22,382.04 114.52,381.36 114.82,384.81 115.12,384.76 115.42,382.66 115.72,384.66 116.02,375.60 116.32,377.57 116.62,384.44 116.92,380.01 117.22,377.37 117.52,382.78 117.82,379.51 118.12,380.69 118.42,378.46 118.72,377.74 119.02,376.22 119.17,336.80 119.95,336.80 120.25,385.06 120.55,384.55 120.85,378.95 121.15,378.32 121.45,384.46 121.75,381.29 122.05,381.97 122.35,375.54 122.65,377.66 122.95,380.15 123.25,382.60 123.55,383.53 123.85,382.86 124.15,378.77 124.45,379.19 124.75,383.90 125.05,385.15 125.35,380.21 125.65,377.37 125.95,381.58 126.25,380.72 126.55,379.02 126.85,377.74 127.15,379.26 127.45,381.48 127.60,336.80 128.20,336.80 128.50,384.81 128.80,377.98 129.10,379.61 129.40,376.52 129.70,382.73 130.00,381.70 130.30,377.22 130.60,380.89 130.90,381.36 131.20,381.18 131.50,379.24 131.80,378.58 132.10,379.02 132.40,385.30 132.70,378.79 133.00,380.47 133.30,380.06 133.60,377.27 133.90,379.48 134.05,336.80 134.54,336.80 134.84,379.17 135.14,384.75 135.44,378.50 135.74,378.85 136.04,382.02 136.34,379.49 136.64,380.65 136.94,381.94 137.24,376.35 137.54,382.18 137.84,376.63 138.14,378.08 138.44,383.53 138.74,385.29 139.04,382.22 139.34,377.33 139.49,336.80 139.97,336.80 140.27,383.85 140.57,377.59 140.87,381.89 141.17,381.88 141.47,381.43 141.77,380.35 142.07,385.02 142.37,380.16 142.67,384.81 142.97,379.52 143.27,380.24 143.57,379.21 143.87,382.67 144.17,383.03 144.47,378.06 144.77,380.85 145.07,382.80 145.37,380.62 145.67,382.18 145.82,336.80 146.49,336.80 146.79,379.20 147.09,376.01 147.39,384.41 147.69,383.44 147.99,379.57 148.29,385.17 148.59,384.54 148.89,377.27 149.19,383.91 149.49,379.89 149.79,378.86 150.09,378.33 150.39,379.83 150.69,376.33 150.99,376.32 151.29,376.97 151.59,378.81 151.89,377.38 152.19,377.03 152.49,383.90 152.64,336.80 153.21,336.80 153.51,381.67 153.81,377.29 154.11,378.08 154.41,384.19 154.71,384.67 155.01,384.89 155.31,381.00 155.61,379.44 155.91,377.73 156.21,384.70 156.51,383.30 156.81,381.24 157.11,383.56 157.41,378.44 157.71,381.08 158.01,384.68 158.31,376.99 158.61,381.90 158.91,377.73 159.21,384.03 159.51,384.05 159.81,382.17 160.11,380.17 160.41,376.18 160.71,380.73 160.86,336.80 161.39,336.80 161.69,376.72 161.99,381.02 162.29,381.40 162.59,384.11 162.89,384.63 163.19,381.30 163.49,381.25 163.79,384.17 164.09,379.61 164.39,384.69 164.69,376.27 164.99,383.69 165.29,381.11 165.59,382.03 165.89,385.57 166.19,378.17 166.49,379.97 166.79,383.74 167.09,383.24 167.39,381.11 167.54,361.36 168.28,361.36 168.58,382.31 168.88,378.84 169.18,376.88 169.48,377.28 169.78,376.51 170.08,385.47 170.38,377.46 170.68,381.90 170.98,377.41 171.28,385.39 171.58,381.24 171.88,377.83 172.18,384.06 172.48,384.38 172.63,344.92 173.16,344.92 173.46,382.48 173.76,381.61 174.06,382.88 174.36,383.37 174.66,384.06 174.96,383.37 175.26,378.92 175.56,383.42 175.86,380.34 176.16,377.82 176.46,376.40 176.76,382.16 177.06,379.63 177.36,377.11 177.66,380.90 177.96,380.19 178.26,379.34 178.56,381.64 178.86,381.38 179.01,336.80 179.81,336.80 180.11,384.88 180.41,384.58 180.71,379.27 181.01,385.21 181.31,376.82 181.61,379.31 181.91,385.17 182.21,382.59 182.51,383.03 182.81,378.24 183.11,377.46 183.41,385.45 183.71,376.94 184.01,377.98 184.31,380.42 184.61,384.12 184.91,382.79 185.21,385.84 185.51,383.75 185.66,336.80 186.42,336.80 186.72,379.35 187.02,385.48 187.32,384.74 187.62,382.65 187.92,380.93 188.22,378.31 188.52,378.46 188.82,377.02 189.12,377.28 189.42,380.94 189.72,384.91 190.02,385.26 190.32,381.29 190.62,382.81 190.92,380.86 191.22,383.79 191.52,383.13 191.67,367.77 192.32,367.77 192.62,382.03 192.92,380.92 193.22,380.69 193.52,377.91 193.82,378.37 194.12,380.36 194.42,378.13 194.72,382.38 195.02,379.58 195.32,385.84 195.62,382.96 195.92,381.38 196.22,380.60 196.52,380.20 196.82,378.40 197.12,385.62 197.42,385.16 197.72,382.67 198.02,382.67 198.32,377.88 198.47,336.80 198.90,336.80 199.20,379.59 199.50,378.15 199.80,378.75 200.10,383.45 200.40,381.14 200.70,384.97 201.00,378.07 201.30,377.40 201.60,385.45 201.90,382.34 202.20,383.14 202.50,381.85 202.80,377.99 203.10,385.85 203.40,381.29 203.70,385.21 204.00,377.99 204.30,379.22 204.60,381.82 204.90,378.96 205.20,384.77 205.50,379.10 205.80,377.38 206.10,378.18 206.25,336.80 207.02,336.80 207.32,384.97 207.62,380.71 207.92,377.05 208.22,384.56 208.52,377.87 208.82,378.57 209.12,380.81 209.42,384.88 209.72,378.43 210.02,377.29 210.32,385.32 210.62,376.78 210.92,383.69 211.22,378.05 211.52,379.56 211.82,378.69 212.12,380.90 212.42,385.50 212.72,384.73 213.02,381.84 213.17,336.80 213.60,336.80 213.90,379.55 214.20,385.48 214.50,377.00 214.80,379.95 215.10,385.92 215.40,378.21 215.70,377.54 216.00,379.31 216.30,385.27 216.60,379.30 216.90,383.68 217.20,377.93 217.50,383.08 217.80,378.42 218.10,382.49 218.40,383.91 218.70,385.21 219.00,380.99 219.30,386.24 219.60,380.72 219.90,385.92 220.05,373.78 220.45,373.78 220.75,379.45 221.05,385.32 221.35,379.31 221.65,384.21 221.95,381.43 222.25,376.91 222.55,377.69 222.85,376.95 223.15,379.07 223.45,385.82 223.75,383.40 224.05,385.17 224.35,385.68 224.65,380.67 224.95,383.59 225.25,383.19 225.55,383.56 225.85,377.81 226.15,385.45 226.30,336.80 226.85,336.80 227.15,383.52 227.45,384.88 227.75,379.95 228.05,379.82 228.35,383.95 228.65,377.41 228.95,385.36 229.25,380.00 229.55,380.75 229.85,379.99 230.15,383.85 230.45,378.66 230.75,378.30 231.05,377.63 231.35,378.26 231.65,383.00 231.95,386.53 232.25,377.07 232.55,381.47 232.85,380.45 233.00,336.80 233.51,336.80 233.81,378.06 234.11,379.61 234.41,377.62 234.71,378.35 235.01,386.01 235.31,383.99 235.61,386.55 235.91,384.92 236.21,384.20 236.51,379.27 236.81,378.13 237.11,386.59 237.41,383.70 237.71,384.08 238.01,378.49 238.31,384.75 238.61,382.28 238.76,336.80 239.20,336.80 239.50,386.46 239.80,378.00 240.10,377.91 240.40,384.39 240.70,380.55 241.00,381.77 241.30,378.47 241.60,378.88 241.90,381.97 242.20,381.30 242.50,378.96 242.80,378.63 243.10,381.48 243.40,378.28 243.70,377.78 244.00,381.78 244.30,377.69 244.60,384.31 244.90,384.65 245.20,384.05 245.50,386.44 245.80,378.82 245.95,336.80 246.49,336.80 246.79,377.91 247.09,377.63 247.39,386.78 247.69,383.80 247.99,386.81 248.29,377.83 248.59,385.94 248.89,386.63 249.19,384.83 249.49,382.91 249.79,383.57 250.09,381.96 250.39,385.58 250.69,382.91 250.99,382.62 251.29,381.23 251.59,383.41 251.89,383.01 252.19,386.46 252.49,384.84 252.79,380.53 253.09,384.33 253.24,336.80 253.80,336.80 254.10,382.44 254.40,378.04 254.70,378.77 255.00,379.13 255.30,383.40 255.60,379.02 255.90,382.82 256.20,385.97 256.50,381.54 256.80,379.55 257.10,383.21 257.40,381.40 257.70,381.65 258.00,379.13 258.30,384.06 258.60,380.77 258.90,387.03 259.20,382.26 259.35,336.80 260.12,336.80 260.42,387.03 260.72,386.51 261.02,378.45 261.32,386.73 261.62,385.16 261.92,379.96 262.22,384.46 262.52,382.97 262.82,381.89 263.12,383.61 263.42,381.94 263.72,383.92 264.02,384.29 264.17,336.80 264.81,336.80 265.11,384.39 265.41,382.76 265.71,382.81 266.01,378.93 266.31,379.43 266.61,386.31 266.91,378.13 267.21,386.37 267.51,378.74 267.81,381.31 268.11,383.65 268.41,377.83 268.71,381.94 269.01,385.40 269.31,381.33 269.61,379.29 269.91,378.15 270.21,386.89 270.51,378.60 270.81,384.16 271.11,383.86 271.41,380.34 271.71,383.08 272.01,384.35 272.31,379.65 272.61,380.01 272.91,386.71 273.06,336.80 273.63,336.80 273.93,382.09 274.23,386.08 274.53,385.16 274.83,383.81 275.13,382.97 275.43,378.55 275.73,383.31 276.03,381.93 276.33,385.12 276.63,381.37 276.93,378.87 277.23,381.45 277.53,385.88 277.83,382.58 278.13,384.29 278.43,378.24 278.73,379.88 279.03,380.32 279.18,336.80 279.58,336.80 279.88,387.04 280.18,377.72 280.48,380.09 280.78,382.68 281.08,383.82 281.38,385.79 281.68,378.59 281.98,387.35 282.28,386.22 282.58,382.84 282.88,384.16 283.18,380.79 283.48,379.23 283.78,377.87 284.08,387.30 284.38,386.60 284.68,382.20 284.83,336.80 285.40,336.80 285.70,384.61 286.00,385.28 286.30,379.54 286.60,383.67 286.90,383.99 287.20,386.23 287.50,383.92 287.80,379.59 288.10,385.93 288.40,381.55 288.70,383.43 289.00,385.80 289.30,387.56 289.60,378.88 289.90,382.38 290.20,380.98 290.50,386.29 290.65,336.80 291.41,336.80 291.71,385.76 292.01,385.48 292.31,384.65 292.61,379.06 292.91,380.85 293.21,379.25 293.51,386.20 293.81,381.85 294.11,380.91 294.41,385.07 294.71,387.76 295.01,379.34 295.31,384.83 295.61,380.22 295.91,385.83 296.21,385.39 296.51,385.62 296.81,383.77 297.11,379.18 297.41,386.47 297.71,379.07 298.01,383.77 298.16,347.04 298.72,347.04 299.02,384.72 299.32,381.22 299.62,382.16 299.92,386.96 300.22,385.16 300.52,379.75 300.82,384.81 301.12,386.53 301.42,384.03 301.72,386.96 302.02,380.68 302.32,380.93 302.62,386.68 302.92,380.61 303.22,379.32 303.52,379.54 303.82,386.86 304.12,386.27 304.42,380.05 304.72,385.47 305.02,380.05 305.32,384.28 305.47,336.80 306.08,336.80 306.38,385.56 306.68,384.36 306.98,379.29 307.28,382.67 307.58,385.91 307.88,381.84 308.18,385.52 308.48,384.09 308.78,386.17 309.08,385.49 309.38,381.18 309.68,386.29 309.98,386.27 310.28,382.41 310.58,385.30 310.88,382.29 311.18,383.90 311.48,381.41 311.63,336.80 312.12,336.80 312.42,387.05 312.72,384.29 313.02,383.39 313.32,382.82 313.62,379.96 313.92,384.63 314.22,382.65 314.52,381.64 314.82,383.31 315.12,379.55 315.42,384.66 315.72,385.99 316.02,381.89 316.32,379.87 316.62,387.83 316.92,384.39 317.22,381.43 317.52,379.19 317.82,383.95 318.12,380.47 318.42,387.16 318.57,347.46 319.10,347.46 319.40,379.17 319.70,383.82 320.00,387.01 320.30,382.54 320.60,387.80 320.90,380.87 321.20,379.38 321.50,386.60 321.80,382.08 322.10,381.13 322.40,382.74 322.70,384.38 323.00,380.55 323.30,379.44 323.60,384.25 323.90,384.85 324.05,336.80 324.48,336.80 324.78,386.84 325.08,383.73 325.38,387.09 325.68,379.75 325.98,383.29 326.28,382.59 326.58,384.69 326.88,380.66 327.18,380.82 327.48,380.68 327.78,383.92 328.08,381.41 328.38,387.53 328.68,386.98 328.98,385.58 329.28,382.46 329.58,386.54 329.88,384.10 330.18,386.14 330.48,387.81 330.78,379.71 331.08,385.94 331.23,352.49 331.73,352.49 332.03,378.84 332.33,380.56 332.63,378.64 332.93,379.43 333.23,383.57 333.53,385.20 333.83,387.37 334.13,385.03 334.43,379.57 334.73,387.61 335.03,387.05 335.33,386.43 335.63,387.33 335.93,386.71 336.23,385.24 336.53,386.05 336.83,378.85 337.13,388.21 337.43,378.68 337.73,382.76 338.03,384.16 338.33,383.59 338.63,381.94 338.93,383.57 339.08,336.80 339.73,336.80 340.03,378.96 340.33,384.97 340.63,383.10 340.93,378.89 341.23,383.13 341.53,387.65 341.83,383.75 342.13,385.76 342.43,382.41 342.73,388.17 343.03,383.79 343.33,386.54 343.63,384.77 343.93,386.57 344.08,336.80 344.84,336.80 345.14,388.25 345.44,387.49 345.74,382.28 346.04,382.04 346.34,387.35 346.64,386.72 346.94,384.47 347.24,384.17 347.54,378.93 347.84,384.18 348.14,379.38 348.44,383.87 348.74,380.97 349.04,384.65 349.34,380.35 349.64,381.98 349.94,386.22 350.24,384.40 350.54,380.14 350.84,388.28 351.14,379.08 351.44,382.82 351.74,385.70 352.04,384.44 352.19,336.80 352.95,336.80 353.25,379.81 353.55,381.31 353.85,384.63 354.15,383.35 354.45,384.92 354.75,386.56 355.05,383.72 355.35,382.97 355.65,384.24 355.95,380.55 356.25,387.64 356.55,382.67 356.85,383.71 357.15,386.96 357.45,386.90 357.75,388.46 357.90,357.63 358.44,357.63 358.74,386.37 359.04,379.11 359.34,384.35 359.64,385.36 359.94,382.42 360.24,386.89 360.54,386.06 360.84,387.43 361.14,381.81 361.44,385.31 361.74,384.36 362.04,382.28 362.34,381.88 362.64,379.90 362.94,386.98 363.24,381.69 363.54,382.36 363.84,381.49 364.14,384.35 364.44,383.77 364.59,339.93 365.10,339.93 365.40,386.98 365.70,379.73 366.00,383.33 366.30,388.49 366.60,388.36 366.90,382.14 367.20,386.15 367.50,382.27 367.80,379.77 368.10,387.60 368.40,380.35 368.70,388.50 369.00,383.42 369.30,387.19 369.60,383.66 369.90,387.65 370.20,386.20 370.50,380.82 370.80,379.44 371.10,380.81 371.40,384.90 371.70,380.26 371.85,336.80 372.37,336.80 372.67,379.73 372.97,385.15 373.27,381.38 373.57,386.66 373.87,381.70 374.17,382.68 374.47,383.05 374.77,387.21 375.07,379.73 375.37,386.86 375.67,380.18 375.97,388.36 376.27,384.49 376.57,386.31 376.87,384.11 377.02,363.94 377.44,363.94 377.74,381.12 378.04,381.38 378.34,381.60 378.64,379.83 378.94,385.99 379.24,386.69 379.54,379.71 379.84,387.38 380.14,380.44 380.44,383.99 380.74,384.16 381.04,381.73 381.34,382.40 381.64,383.96 381.94,386.67 382.24,381.77 382.54,381.57 382.84,388.47 383.14,381.88 383.44,380.39 383.74,388.06 384.04,388.01 384.34,381.43 384.64,384.35 384.94,387.53 385.24,382.43 385.39,336.80 385.74,336.80 386.04,380.65 386.34,384.07 386.64,387.45 386.94,383.60 387.24,382.00 387.54,383.13 387.84,380.79 388.14,383.94 388.44,385.90 388.74,381.22 389.04,384.90 389.34,388.72 389.64,385.95 389.94,382.46 390.24,385.48 390.54,380.56 390.84,380.56 390.99,364.92 391.62,364.92 391.92,384.72 392.22,387.27 392.52,384.31 392.82,387.17 393.12,386.34 393.42,382.67 393.72,387.09 394.02,382.82 394.32,385.26 394.62,387.35 394.92,388.36 395.22,385.33 395.52,381.46 395.82,381.11 396.12,387.25 396.42,382.47 396.72,380.99 396.87,336.80 397.41,336.80 397.71,386.42 398.01,384.35 398.31,388.42 398.61,381.26 398.91,383.24 399.21,383.29 399.51,380.89 399.81,381.02 400.11,382.58 400.41,384.72 400.71,380.97 401.01,385.51 401.31,383.14 401.61,382.47 401.91,387.49 402.21,386.50 402.51,383.81 402.81,382.12 403.11,384.40 403.26,367.19 403.91,367.19 404.21,379.77 404.51,388.84 404.81,384.75 405.11,384.46 405.41,380.84 405.71,386.94 406.01,387.31 406.31,382.63 406.61,382.28 406.91,380.49 407.21,382.61 407.51,384.48 407.81,383.89 408.11,379.93 408.41,380.74 408.71,381.99 409.01,387.38 409.31,388.59 409.61,387.66 409.76,336.80 410.27,336.80 410.57,387.97 410.87,385.73 411.17,386.22 411.47,388.37 411.77,384.66 412.07,382.22 412.37,386.54 412.67,388.31 412.97,381.97 413.27,383.40 413.57,386.81 413.87,387.15 414.17,380.42 414.47,387.22 414.77,382.15 415.07,381.11 415.37,380.41 415.67,384.12 415.97,384.05 416.27,381.66 416.57,386.39 416.87,381.66 417.17,388.33 417.47,388.97 417.77,383.00 417.92,336.80 418.30,336.80 418.60,384.81 418.90,387.01 419.20,383.70 419.50,382.35 419.80,381.49 420.10,388.93 420.40,386.89 420.70,386.15 421.00,382.04 421.30,384.03 421.60,386.83 421.90,385.86 422.20,382.57 422.50,383.22 422.80,387.34 423.10,380.59 423.40,385.88 423.55,357.62 424.15,357.62 424.45,388.36 424.75,386.83 425.05,386.58 425.35,386.72 425.65,380.75 425.95,386.32 426.25,383.50 426.55,381.32 426.85,388.24 427.15,382.53 427.45,384.32 427.75,382.91 428.05,381.18 428.35,382.78 428.65,385.64 428.95,385.87 429.25,386.84 429.55,381.56 429.85,382.65 430.00,358.00 430.68,358.00 430.98,384.31 431.28,380.54 431.58,387.70 431.88,388.26 432.18,386.59 432.48,382.18 432.78,385.84 433.08,386.29 433.38,382.77 433.68,383.61 433.98,388.15 434.28,382.62 434.58,385.69 434.88,380.72 435.18,380.51 435.48,380.70 435.78,383.01 436.08,388.52 436.38,385.42 436.68,384.60 436.83,336.80 437.43,336.80 437.73,381.48 438.03,383.30 438.33,382.63 438.63,387.25 438.93,385.33 439.23,386.01 439.53,382.83 439.83,383.84 440.13,381.40 440.43,382.92 440.73,389.12 441.03,386.29 441.33,383.37 441.63,385.94 441.93,388.41 442.23,387.54 442.38,336.80 442.80,336.80 443.10,380.89 443.40,387.63 443.70,387.29 444.00,386.59 444.30,386.79 444.60,381.70 444.90,385.55 445.20,380.56 445.50,380.77 445.80,385.90 446.10,380.56 446.40,384.11 446.70,383.59 447.00,388.10 447.30,383.58 447.60,382.31 447.90,386.46 448.20,381.88 448.50,389.07 448.80,388.58 448.95,362.00 449.38,362.00 449.68,382.29 449.98,384.38 450.28,386.70 450.58,382.39 450.88,385.53 451.18,388.01 451.48,383.08 451.78,387.84 452.08,381.85 452.38,386.38 452.68,380.97 452.98,382.73 453.28,381.24 453.58,382.33 453.88,385.22 454.18,387.67 454.48,387.69 454.78,388.56 455.08,382.79 455.38,388.77 455.68,384.35 455.98,386.43 456.28,386.92 456.58,383.03 456.88,383.11 457.18,384.45 457.33,336.80 458.01,336.80 458.31,388.17 458.61,381.13 458.91,387.60 459.21,387.34 459.51,389.21 459.81,382.35 460.11,388.78 460.41,384.16 460.71,385.53 461.01,382.50 461.31,382.92 461.61,384.39 461.91,385.61 462.21,382.97 462.51,385.53 462.81,384.44 463.11,382.67 463.41,386.35 463.71,383.54 463.86,336.80 464.32,336.80 464.62,384.41 464.92,381.41 465.22,388.44 465.52,381.51 465.82,388.94 466.12,381.08 466.42,383.48 466.72,383.72 467.02,386.62 467.32,381.62 467.62,382.64 467.92,387.91 468.22,388.73 468.52,381.36 468.82,381.73 469.12,383.80 469.42,383.98 469.72,386.69 470.02,388.94 470.17,350.45 470.62,350.45 470.92,381.45 471.22,388.28 471.52,388.30 471.82,384.08 472.12,382.82 472.42,388.29 472.72,382.91 473.02,384.40 473.32,388.52 473.62,381.18 473.92,383.98 474.22,382.67 474.52,384.79 474.82,388.93 475.12,389.13 475.42,387.39 475.57,352.32 476.25,352.32 476.55,387.19 476.85,384.11 477.15,388.22 477.45,382.64 477.75,385.99 478.05,389.07 478.35,387.35 478.65,387.46 478.95,382.58 479.25,384.21 479.55,385.81 479.85,387.88 480.15,383.09 480.45,385.65 480.75,387.38 481.05,386.91 481.35,383.26 481.65,381.94 481.95,384.15 482.25,382.75 482.55,385.85 482.85,385.56 483.15,381.53 483.45,389.02 483.75,388.84 484.05,382.78 484.20,336.80 484.98,336.80 485.28,381.41 485.58,384.25 485.88,388.26 486.18,381.67 486.48,385.62 486.78,387.55 487.08,386.46 487.38,384.91 487.68,386.66 487.98,387.18 488.28,385.27 488.58,383.48 488.88,386.52 489.03,340.83 489.67,340.83 489.97,384.74 490.27,383.99 490.57,381.84 490.87,388.14 491.17,385.94 491.47,384.91 491.77,388.52 492.07,388.20 492.37,384.59 492.67,381.57 492.97,386.20 493.27,383.24 493.57,386.36 493.87,382.14 494.17,387.98 494.47,388.42 494.77,382.84 495.07,388.15 495.37,382.12 495.52,336.80 496.13,336.80 496.43,383.33 496.73,384.44 497.03,387.69 497.33,387.81 497.63,388.72 497.93,383.36 498.23,383.55 498.53,388.29 498.83,384.73 499.13,382.36 499.43,385.59 499.73,383.39 500.03,386.67 500.33,384.77 500.63,382.77 500.93,387.65 501.23,388.81 501.53,382.71 501.83,383.21 502.13,385.59 502.43,382.81 502.58,354.97 502.96,354.97 503.26,383.11 503.56,383.55 503.86,386.50 504.16,388.74 504.46,384.76 504.76,386.03 505.06,389.39 505.36,385.58 505.66,384.64 505.96,388.70 506.26,387.11 506.56,384.96 506.86,388.24 507.16,383.58 507.46,382.37 507.76,383.47 508.06,384.29 508.36,388.59 508.66,383.65 508.81,336.80 509.21,336.80 509.51,388.14 509.81,389.39 510.11,384.33 510.41,382.77 510.71,383.09 511.01,387.77 511.31,385.74 511.61,388.52 511.91,389.39 512.21,385.61 512.51,382.38 512.81,388.59 513.11,388.86 513.41,386.34 513.71,386.00 514.01,388.05 514.31,384.59 514.61,381.84 514.91,389.48 515.21,385.49 515.51,384.45 515.81,388.88 516.11,389.08 516.26,336.80 516.94,336.80 517.24,389.84 517.54,385.85 517.84,389.36 518.14,382.81 518.44,387.45 518.74,383.40 519.04,384.38 519.34,388.10 519.64,382.38 519.94,389.20 520.24,387.59 520.54,389.29 520.84,388.64 521.14,386.60 521.44,385.04 521.74,382.57 522.04,389.19 522.34,388.11 522.64,384.39 522.79,336.80 523.58,336.80 523.88,384.48 524.18,383.69 524.48,387.56 524.78,388.39 525.08,384.01 525.38,387.34 525.68,386.69 525.98,387.24 526.28,383.18 526.58,388.17 526.88,382.71 527.18,382.73 527.48,386.74 527.78,389.16 528.08,387.45 528.38,388.78 528.53,364.96 529.29,364.96 529.59,389.72 529.89,383.11 530.19,384.25 530.49,385.55 530.79,386.33 531.09,385.69 531.39,389.10 531.69,387.11 531.99,389.36 532.29,389.90 532.59,382.32 532.89,384.28 533.19,389.86 533.49,382.81 533.79,385.04" fill="none" stroke="#0000ee" stroke-width="1.3" stroke-linejoin="round" stroke-linecap="round" clip-path="url(#cpe)"/>
<polyline points="25.30,374.34 25.45,374.33 25.60,376.87 25.75,364.40 25.90,365.56 26.05,363.31 26.20,365.44 26.35,375.14 26.50,362.81 26.65,371.78 26.80,365.17 26.95,367.10 27.10,369.95 27.25,376.74 27.40,373.14 27.55,357.88 27.70,366.69 27.85,363.35 28.00,377.26 28.15,376.35 28.30,376.30 28.45,376.61 28.60,375.37 28.75,378.40 28.90,376.13 29.05,366.28 29.20,376.98 29.35,349.12 29.95,349.12 30.25,366.00 30.40,370.01 30.55,367.63 30.70,362.51 30.85,376.58 31.00,376.26 31.15,378.98 31.30,374.60 31.45,372.32 31.60,375.52 31.75,363.10 31.90,374.39 32.05,370.32 32.20,364.32 32.35,365.03 32.50,371.79 32.65,366.30 32.80,370.64 32.95,373.24 33.10,369.41 33.25,363.01 33.40,371.24 33.55,365.89 33.70,365.90 33.85,364.85 34.00,368.84 34.15,361.04 34.30,374.04 34.45,378.62 34.60,369.33 34.75,375.14 34.90,378.34 35.05,359.76 35.20,363.40 35.35,376.50 35.50,376.99 35.65,373.88 35.80,363.95 35.95,369.84 36.10,351.42 36.82,351.42 37.12,360.97 37.27,369.10 37.42,375.18 37.57,363.32 37.72,378.96 37.87,373.35 38.02,375.30 38.17,365.42 38.32,373.59 38.47,372.98 38.62,373.16 38.77,368.83 38.92,375.40 39.07,368.46 39.22,367.46 39.37,364.18 39.52,374.72 39.67,362.59 39.82,365.82 39.97,361.03 40.12,374.08 40.27,372.60 40.42,372.38 40.57,359.69 40.72,370.48 40.87,368.54 41.02,361.95 41.17,357.13 41.32,379.44 41.47,362.94 41.62,367.66 41.77,366.92 41.92,373.36 42.07,361.42 42.22,371.10 42.37,369.08 42.52,377.13 42.67,357.51 42.82,368.42 42.97,371.61 43.12,379.10 43.27,371.99 43.42,371.21 43.57,374.60 43.72,367.61 43.87,359.41 44.02,352.01 44.70,352.01 45.00,362.45 45.15,377.42 45.30,366.77 45.45,373.30 45.60,368.94 45.75,366.44 45.90,367.46 46.05,365.43 46.20,368.85 46.35,359.81 46.50,369.82 46.65,361.89 46.80,376.10 46.95,373.54 47.10,357.44 47.25,376.35 47.40,365.12 47.55,371.45 47.70,372.78 47.85,368.52 48.00,367.57 48.15,370.60 48.30,363.61 48.45,377.73 48.60,362.82 48.75,377.14 48.90,365.88 49.05,367.91 49.20,369.71 49.35,359.65 49.50,363.38 49.65,369.16 49.80,370.78 49.95,377.96 50.10,379.58 50.25,336.80 50.84,336.80 51.14,359.65 51.29,368.40 51.44,378.24 51.59,372.73 51.74,363.35 51.89,357.67 52.04,366.71 52.19,377.90 52.34,364.11 52.49,371.55 52.64,369.47 52.79,368.91 52.94,376.94 53.09,365.88 53.24,375.66 53.39,374.83 53.54,378.91 53.69,372.34 53.84,378.71 53.99,370.87 54.14,373.29 54.29,374.10 54.44,377.55 54.59,378.40 54.74,363.10 54.89,363.80 55.04,372.62 55.19,377.16 55.34,372.63 55.49,368.00 55.64,379.34 55.79,367.97 55.94,362.15 56.09,360.75 56.24,359.67 56.39,375.88 56.54,362.88 56.69,375.72 56.84,378.01 56.99,379.91 57.14,344.04 57.77,344.04 58.07,376.07 58.22,367.87 58.37,376.48 58.52,363.01 58.67,368.29 58.82,379.91 58.97,371.59 59.12,367.37 59.27,376.86 59.42,371.21 59.57,357.72 59.72,359.70 59.87,367.19 60.02,368.84 60.17,379.12 60.32,366.92 60.47,377.87 60.62,377.92 60.77,370.58 60.92,379.93 61.07,376.55 61.22,371.89 61.37,367.28 61.52,371.47 61.67,378.66 61.82,372.86 61.97,365.61 62.12,369.81 62.27,371.77 62.42,365.53 62.57,373.51 62.72,360.05 62.87,377.50 63.02,365.22 63.17,362.91 63.32,373.81 63.47,336.80 64.22,336.80 64.52,368.48 64.67,377.74 64.82,366.21 64.97,376.40 65.12,374.86 65.27,370.94 65.42,379.57 65.57,359.42 65.72,378.18 65.87,364.28 66.02,377.86 66.17,364.59 66.32,361.08 66.47,372.33 66.62,379.12 66.77,367.33 66.92,372.08 67.07,374.23 67.22,367.01 67.37,372.89 67.52,358.55 67.67,371.40 67.82,376.69 67.97,369.21 68.12,366.45 68.27,361.01 68.42,375.78 68.57,371.00 68.72,379.01 68.87,376.42 69.02,362.98 69.17,379.02 69.32,379.28 69.47,377.60 69.62,348.65 70.29,348.65 70.59,372.57 70.74,367.42 70.89,364.11 71.04,376.25 71.19,374.14 71.34,361.34 71.49,374.90 71.64,374.38 71.79,372.66 71.94,377.03 72.09,378.55 72.24,370.18 72.39,377.64 72.54,372.46 72.69,373.75 72.84,370.85 72.99,379.39 73.14,371.45 73.29,379.67 73.44,369.32 73.59,375.46 73.74,379.11 73.89,375.65 74.04,370.11 74.19,362.29 74.34,372.12 74.49,370.90 74.64,377.69 74.79,377.24 74.94,380.18 75.09,371.56 75.24,370.84 75.39,373.69 75.54,376.73 75.69,362.41 75.84,366.53 75.99,364.62 76.14,369.09 76.29,336.80 77.08,336.80 77.38,362.15 77.53,368.47 77.68,366.28 77.83,380.09 77.98,362.81 78.13,363.64 78.28,364.15 78.43,361.97 78.58,370.45 78.73,366.52 78.88,365.08 79.03,359.34 79.18,376.01 79.33,361.23 79.48,367.03 79.63,373.82 79.78,378.84 79.93,375.41 80.08,376.20 80.23,376.08 80.38,377.58 80.53,378.42 80.68,365.01 80.83,361.49 80.98,374.80 81.13,373.03 81.28,373.08 81.43,377.37 81.58,365.58 81.73,376.20 81.88,371.33 82.03,371.24 82.18,367.42 82.33,368.29 82.48,374.12 82.63,373.69 82.78,379.26 82.93,368.28 83.08,376.39 83.23,363.23 83.38,375.37 83.53,365.25 83.68,378.56 83.83,341.32 84.54,341.32 84.84,362.62 84.99,363.49 85.14,371.70 85.29,363.54 85.44,376.27 85.59,374.14 85.74,371.30 85.89,376.37 86.04,367.24 86.19,369.51 86.34,370.18 86.49,358.20 86.64,379.07 86.79,363.01 86.94,363.47 87.09,377.76 87.24,378.07 87.39,371.87 87.54,371.37 87.69,364.72 87.84,358.09 87.99,373.24 88.14,367.55 88.29,365.09 88.44,379.38 88.59,359.85 88.74,370.22 88.89,350.17 89.29,350.17 89.59,374.78 89.74,375.17 89.89,379.96 90.04,377.85 90.19,374.67 90.34,377.42 90.49,372.78 90.64,373.86 90.79,378.15 90.94,375.03 91.09,370.57 91.24,359.99 91.39,377.74 91.54,369.83 91.69,371.63 91.84,368.68 91.99,373.96 92.14,371.09 92.29,378.43 92.44,374.64 92.59,374.02 92.74,377.68 92.89,371.88 93.04,373.65 93.19,377.19 93.34,376.76 93.49,377.09 93.64,379.30 93.79,374.05 93.94,374.00 94.09,366.30 94.24,367.65 94.39,371.80 94.54,373.01 94.69,379.45 94.84,361.33 94.99,370.11 95.14,377.08 95.29,372.29 95.44,378.72 95.59,365.54 95.74,377.57 95.89,371.78 96.04,337.83 96.57,337.83 96.87,376.36 97.02,374.24 97.17,371.65 97.32,361.21 97.47,376.49 97.62,372.11 97.77,376.89 97.92,375.08 98.07,371.26 98.22,379.18 98.37,364.79 98.52,380.39 98.67,363.24 98.82,380.54 98.97,374.68 99.12,372.18 99.27,380.08 99.42,373.38 99.57,373.32 99.72,362.24 99.87,378.08 100.02,375.58 100.17,367.76 100.32,364.25 100.47,371.68 100.62,380.10 100.77,379.17 100.92,372.56 101.07,361.16 101.22,378.57 101.37,366.85 101.52,377.08 101.67,373.20 101.82,380.51 101.97,365.36 102.12,378.05 102.27,376.92 102.42,360.10 102.57,374.38 102.72,369.12 102.87,376.54 103.02,380.49 103.17,345.85 103.79,345.85 104.09,363.82 104.24,364.46 104.39,376.96 104.54,362.65 104.69,373.75 104.84,366.35 104.99,374.39 105.14,362.28 105.29,360.85 105.44,375.44 105.59,376.96 105.74,379.49 105.89,376.30 106.04,381.00 106.19,365.34 106.34,375.52 106.49,375.65 106.64,366.29 106.79,365.27 106.94,367.97 107.09,373.73 107.24,378.03 107.39,376.86 107.54,374.59 107.69,363.22 107.84,377.03 107.99,373.56 108.14,366.17 108.29,375.38 108.44,368.13 108.59,369.58 108.74,372.46 108.89,377.50 109.04,336.80 109.59,336.80 109.89,363.70 110.04,378.49 110.19,368.62 110.34,377.04 110.49,372.73 110.64,367.51 110.79,368.90 110.94,374.07 111.09,378.37 111.24,375.16 111.39,358.70 111.54,378.00 111.69,374.81 111.84,371.98 111.99,368.12 112.14,372.33 112.29,376.64 112.44,368.84 112.59,365.41 112.74,379.44 112.89,372.37 113.04,363.13 113.19,379.62 113.34,364.53 113.49,370.88 113.64,375.49 113.79,376.22 113.94,379.74 114.09,366.52 114.24,374.67 114.39,379.47 114.54,372.88 114.69,377.03 114.84,372.87 114.99,377.06 115.14,380.58 115.29,370.41 115.44,377.38 115.59,370.52 115.74,379.60 115.89,377.80 116.04,379.18 116.19,348.02 116.97,348.02 117.27,362.14 117.42,363.42 117.57,374.96 117.72,376.65 117.87,369.30 118.02,378.54 118.17,372.02 118.32,367.21 118.47,367.11 118.62,374.90 118.77,371.39 118.92,362.33 119.07,369.78 119.22,380.85 119.37,373.07 119.52,376.61 119.67,372.23 119.82,363.38 119.97,375.49 120.12,367.59 120.27,365.15 120.42,375.57 120.57,376.51 120.72,360.30 120.87,380.48 121.02,361.03 121.17,366.46 121.32,370.32 121.47,378.37 121.62,377.56 121.77,377.57 121.92,372.34 122.07,380.02 122.22,365.56 122.37,380.70 122.52,336.80 122.94,336.80 123.24,375.66 123.39,376.52 123.54,368.61 123.69,379.40 123.84,373.92 123.99,367.60 124.14,364.44 124.29,381.10 124.44,362.92 124.59,367.95 124.74,370.97 124.89,379.79 125.04,378.91 125.19,379.07 125.34,375.88 125.49,360.55 125.64,377.55 125.79,367.25 125.94,380.55 126.09,380.86 126.24,363.40 126.39,377.46 126.54,368.53 126.69,364.79 126.84,379.56 126.99,372.68 127.14,369.74 127.29,374.76 127.44,363.38 127.59,372.35 127.74,376.22 127.89,379.42 128.04,365.41 128.19,379.84 128.34,364.87 128.49,367.73 128.64,370.61 128.79,366.77 128.94,364.41 129.09,376.34 129.24,371.91 129.39,367.33 129.54,374.03 129.69,336.80 130.34,336.80 130.64,380.50 130.79,372.38 130.94,371.95 131.09,371.33 131.24,372.24 131.39,367.10 131.54,369.89 131.69,376.92 131.84,373.46 131.99,363.67 132.14,366.21 132.29,379.15 132.44,371.09 132.59,379.00 132.74,375.79 132.89,375.93 133.04,371.16 133.19,375.19 133.34,372.31 133.49,374.14 133.64,380.60 133.79,365.12 133.94,368.06 134.09,380.04 134.24,380.37 134.39,378.77 134.54,379.45 134.69,365.03 134.84,377.40 134.99,365.68 135.14,379.28 135.29,372.00 135.44,347.00 135.89,347.00 136.19,371.84 136.34,373.00 136.49,372.82 136.64,371.46 136.79,367.57 136.94,369.78 137.09,379.17 137.24,380.91 137.39,371.63 137.54,369.85 137.69,370.90 137.84,379.54 137.99,369.32 138.14,367.40 138.29,370.46 138.44,364.57 138.59,366.46 138.74,368.64 138.89,376.44 139.04,380.45 139.19,369.27 139.34,370.02 139.49,375.43 139.64,362.23 139.79,364.70 139.94,375.22 140.09,373.37 140.24,371.24 140.39,372.48 140.54,361.68 140.69,369.33 140.84,367.34 140.99,368.86 141.14,364.05 141.29,378.91 141.44,361.50 141.59,372.49 141.74,367.23 141.89,368.04 142.04,378.11 142.19,380.91 142.34,380.97 142.49,370.89 142.64,374.74 142.79,372.83 142.94,364.49 143.09,348.98 143.62,348.98 143.92,376.76 144.07,370.16 144.22,380.05 144.37,375.24 144.52,369.33 144.67,380.18 144.82,373.73 144.97,375.78 145.12,373.54 145.27,379.56 145.42,377.76 145.57,373.08 145.72,371.65 145.87,378.35 146.02,379.28 146.17,375.79 146.32,379.77 146.47,374.58 146.62,372.61 146.77,370.71 146.92,369.70 147.07,366.88 147.22,380.46 147.37,375.01 147.52,364.76 147.67,368.33 147.82,372.80 147.97,378.86 148.12,379.56 148.27,378.20 148.42,370.25 148.57,355.88 149.09,355.88 149.39,373.93 149.54,373.83 149.69,374.29 149.84,380.31 149.99,380.99 150.14,378.13 150.29,371.10 150.44,379.81 150.59,380.40 150.74,364.61 150.89,372.88 151.04,375.06 151.19,370.58 151.34,369.18 151.49,378.61 151.64,368.46 151.79,375.11 151.94,362.12 152.09,373.57 152.24,381.06 152.39,360.85 152.54,365.73 152.69,380.22 152.84,380.41 152.99,374.35 153.14,370.42 153.29,370.49 153.44,377.91 153.59,375.58 153.74,373.33 153.89,377.29 154.04,365.51 154.19,354.68 154.95,354.68 155.25,370.55 155.40,380.04 155.55,374.66 155.70,366.86 155.85,365.72 156.00,377.02 156.15,371.43 156.30,374.75 156.45,363.45 156.60,380.89 156.75,370.15 156.90,376.48 157.05,376.30 157.20,371.74 157.35,368.62 157.50,375.35 157.65,371.18 157.80,364.87 157.95,367.82 158.10,363.37 158.25,380.25 158.40,368.49 158.55,380.54 158.70,376.27 158.85,381.03 159.00,373.85 159.15,369.72 159.30,365.19 159.45,376.32 159.60,377.44 159.75,377.21 159.90,380.43 160.05,365.68 160.20,376.70 160.35,377.57 160.50,380.85 160.65,369.66 160.80,380.72 160.95,362.79 161.10,375.85 161.25,371.29 161.40,374.73 161.55,367.88 161.70,372.39 161.85,371.71 162.00,373.81 162.15,372.78 162.30,368.97 162.45,367.76 162.60,357.32 163.33,357.32 163.63,363.66 163.78,367.21 163.93,371.31 164.08,381.59 164.23,371.58 164.38,365.94 164.53,375.48 164.68,375.89 164.83,374.66 164.98,380.98 165.13,374.70 165.28,372.09 165.43,368.83 165.58,375.81 165.73,378.24 165.88,374.56 166.03,372.60 166.18,369.82 166.33,379.65 166.48,381.56 166.63,375.89 166.78,377.78 166.93,371.37 167.08,367.61 167.23,364.44 167.38,376.40 167.53,380.62 167.68,377.50 167.83,377.24 167.98,379.86 168.13,373.04 168.28,373.34 168.43,370.08 168.58,379.49 168.73,377.51 168.88,353.12 169.64,353.12 169.94,361.71 170.09,374.05 170.24,377.88 170.39,369.73 170.54,373.63 170.69,377.15 170.84,370.85 170.99,377.24 171.14,364.72 171.29,373.11 171.44,376.80 171.59,379.96 171.74,374.81 171.89,377.19 172.04,377.18 172.19,376.94 172.34,373.82 172.49,371.35 172.64,366.96 172.79,380.28 172.94,378.78 173.09,377.01 173.24,378.48 173.39,371.32 173.54,368.29 173.69,375.19 173.84,374.13 173.99,376.99 174.14,380.12 174.29,372.82 174.44,351.72 175.19,351.72 175.49,372.73 175.64,380.38 175.79,380.75 175.94,364.26 176.09,381.43 176.24,366.10 176.39,375.55 176.54,374.72 176.69,381.50 176.84,369.72 176.99,364.27 177.14,381.26 177.29,374.02 177.44,374.04 177.59,373.51 177.74,370.68 177.89,363.60 178.04,375.65 178.19,369.36 178.34,374.75 178.49,381.73 178.64,381.58 178.79,371.34 178.94,371.85 179.09,367.00 179.24,376.46 179.39,368.53 179.54,367.14 179.69,380.73 179.84,375.72 179.99,380.41 180.14,369.39 180.29,368.49 180.44,376.03 180.59,377.72 180.74,368.54 180.89,374.84 181.04,375.80 181.19,374.81 181.34,371.52 181.49,373.93 181.64,366.74 181.79,366.38 181.94,336.80 182.67,336.80 182.97,366.40 183.12,366.93 183.27,380.37 183.42,363.76 183.57,379.34 183.72,375.37 183.87,380.68 184.02,380.46 184.17,362.83 184.32,364.80 184.47,370.27 184.62,364.53 184.77,380.14 184.92,367.79 185.07,377.57 185.22,381.17 185.37,377.95 185.52,381.80 185.67,377.18 185.82,373.02 185.97,381.53 186.12,369.60 186.27,375.78 186.42,373.49 186.57,375.64 186.72,371.33 186.87,381.38 187.02,381.76 187.17,377.93 187.32,374.89 187.47,381.27 187.62,381.23 187.77,364.83 187.92,380.44 188.07,366.89 188.22,366.43 188.37,370.46 188.52,372.76 188.67,374.71 188.82,340.05 189.46,340.05 189.76,371.79 189.91,381.85 190.06,380.86 190.21,372.34 190.36,380.28 190.51,374.20 190.66,377.62 190.81,381.02 190.96,377.14 191.11,372.64 191.26,365.11 191.41,374.48 191.56,376.25 191.71,370.95 191.86,376.22 192.01,363.38 192.16,370.55 192.31,374.74 192.46,374.75 192.61,378.11 192.76,370.12 192.91,371.15 193.06,378.49 193.21,371.21 193.36,368.21 193.51,376.93 193.66,372.50 193.81,376.45 193.96,358.11 194.66,358.11 194.96,381.39 195.11,372.72 195.26,381.13 195.41,367.63 195.56,369.69 195.71,375.20 195.86,367.57 196.01,376.70 196.16,375.83 196.31,369.71 196.46,378.69 196.61,366.40 196.76,374.94 196.91,371.13 197.06,381.21 197.21,368.18 197.36,373.14 197.51,378.29 197.66,371.71 197.81,379.83 197.96,367.35 198.11,366.19 198.26,363.41 198.41,376.03 198.56,374.84 198.71,375.72 198.86,374.73 199.01,380.48 199.16,369.96 199.31,368.30 199.46,370.65 199.61,379.92 199.76,379.64 199.91,367.40 200.06,362.32 200.21,381.87 200.36,381.63 200.51,371.25 200.66,375.71 200.81,365.23 200.96,375.37 201.11,369.01 201.26,377.94 201.41,368.61 201.56,376.24 201.71,372.32 201.86,374.96 202.01,381.44 202.16,375.63 202.31,352.87 202.76,352.87 203.06,367.15 203.21,379.26 203.36,368.38 203.51,379.70 203.66,371.80 203.81,376.34 203.96,380.76 204.11,381.09 204.26,369.18 204.41,368.40 204.56,371.22 204.71,376.93 204.86,381.68 205.01,377.63 205.16,379.13 205.31,379.91 205.46,374.96 205.61,373.31 205.76,379.61 205.91,377.19 206.06,380.71 206.21,382.09 206.36,374.84 206.51,372.77 206.66,368.12 206.81,376.69 206.96,372.25 207.11,372.25 207.26,375.52 207.41,378.73 207.56,378.08 207.71,374.79 207.86,377.67 208.01,377.35 208.16,381.12 208.31,378.13 208.46,380.32 208.61,370.83 208.76,380.36 208.91,336.80 209.63,336.80 209.93,362.73 210.08,371.57 210.23,369.13 210.38,378.99 210.53,368.50 210.68,378.15 210.83,366.94 210.98,370.22 211.13,373.83 211.28,376.61 211.43,377.87 211.58,373.22 211.73,380.61 211.88,364.91 212.03,369.91 212.18,373.82 212.33,377.24 212.48,377.84 212.63,380.89 212.78,373.09 212.93,377.67 213.08,378.35 213.23,369.19 213.38,373.42 213.53,374.70 213.68,377.10 213.83,376.06 213.98,368.68 214.13,370.24 214.28,372.74 214.43,367.24 214.58,379.47 214.73,381.05 214.88,378.98 215.03,336.80 215.65,336.80 215.95,363.37 216.10,371.39 216.25,377.14 216.40,376.92 216.55,376.32 216.70,369.35 216.85,375.74 217.00,379.22 217.15,380.82 217.30,373.58 217.45,374.92 217.60,380.80 217.75,365.93 217.90,377.27 218.05,367.86 218.20,379.98 218.35,378.29 218.50,366.92 218.65,365.90 218.80,381.68 218.95,372.51 219.10,376.98 219.25,376.98 219.40,373.88 219.55,367.84 219.70,378.98 219.85,373.06 220.00,374.65 220.15,379.99 220.30,381.68 220.45,372.17 220.60,354.80 221.15,354.80 221.45,380.33 221.60,366.44 221.75,372.20 221.90,381.23 222.05,377.03 222.20,382.15 222.35,380.30 222.50,378.47 222.65,370.02 222.80,374.54 222.95,365.01 223.10,373.16 223.25,370.91 223.40,381.73 223.55,369.50 223.70,373.38 223.85,365.20 224.00,369.46 224.15,378.72 224.30,374.39 224.45,376.01 224.60,380.33 224.75,378.73 224.90,370.84 225.05,379.40 225.20,378.58 225.35,377.27 225.50,375.99 225.65,381.52 225.80,377.44 225.95,366.87 226.10,380.61 226.25,378.28 226.40,372.01 226.55,379.78 226.70,381.73 226.85,379.28 227.00,375.66 227.15,380.48 227.30,367.61 227.45,366.64 227.60,349.02 228.24,349.02 228.54,375.99 228.69,374.02 228.84,379.33 228.99,376.93 229.14,370.91 229.29,377.21 229.44,375.44 229.59,380.12 229.74,378.94 229.89,382.43 230.04,379.75 230.19,376.29 230.34,378.53 230.49,372.66 230.64,376.91 230.79,382.51 230.94,368.90 231.09,374.97 231.24,375.06 231.39,379.15 231.54,370.61 231.69,378.75 231.84,368.72 231.99,382.22 232.14,367.81 232.29,378.24 232.44,379.62 232.59,376.97 232.74,372.29 232.89,373.98 233.04,381.41 233.19,375.56 233.34,377.12 233.49,382.15 233.64,375.97 233.79,380.47 233.94,377.66 234.09,380.67 234.24,378.00 234.39,369.41 234.54,336.80 235.01,336.80 235.31,367.91 235.46,374.99 235.61,374.13 235.76,365.61 235.91,382.56 236.06,376.06 236.21,371.19 236.36,378.59 236.51,368.32 236.66,369.79 236.81,382.09 236.96,378.67 237.11,374.06 237.26,369.50 237.41,379.45 237.56,371.92 237.71,373.54 237.86,372.69 238.01,378.19 238.16,371.99 238.31,367.20 238.46,381.00 238.61,376.80 238.76,369.38 238.91,367.54 239.06,381.76 239.21,376.53 239.36,377.11 239.51,381.64 239.66,365.97 239.81,368.90 239.96,371.31 240.11,379.17 240.26,369.10 240.41,377.32 240.56,380.38 240.71,374.90 240.86,378.75 241.01,366.87 241.16,376.17 241.31,353.17 241.84,353.17 242.14,376.46 242.29,382.07 242.44,380.66 242.59,379.32 242.74,382.43 242.89,375.42 243.04,365.97 243.19,380.58 243.34,374.29 243.49,373.88 243.64,382.29 243.79,374.98 243.94,369.77 244.09,381.80 244.24,364.78 244.39,367.39 244.54,379.29 244.69,370.74 244.84,379.58 244.99,364.85 245.14,373.16 245.29,374.95 245.44,378.35 245.59,379.89 245.74,379.03 245.89,371.26 246.04,381.24 246.19,367.53 246.34,375.68 246.49,367.42 246.64,380.22 246.79,376.19 246.94,375.70 247.09,382.21 247.24,372.30 247.39,378.77 247.54,379.34 247.69,368.18 247.84,380.27 247.99,374.13 248.14,379.78 248.29,380.06 248.44,374.05 248.59,375.04 248.74,339.27 249.34,339.27 249.64,377.88 249.79,375.86 249.94,377.39 250.09,378.65 250.24,380.23 250.39,378.98 250.54,382.53 250.69,381.20 250.84,382.62 250.99,375.87 251.14,377.42 251.29,370.89 251.44,376.94 251.59,376.93 251.74,374.51 251.89,382.29 252.04,381.66 252.19,380.98 252.34,373.55 252.49,377.92 252.64,381.42 252.79,375.13 252.94,378.00 253.09,371.50 253.24,382.41 253.39,377.84 253.54,376.07 253.69,381.47 253.84,373.09 253.99,377.28 254.14,375.46 254.29,381.93 254.44,376.84 254.59,382.49 254.74,381.06 254.89,369.67 255.04,378.07 255.19,376.73 255.34,370.70 255.49,357.20 256.28,357.20 256.58,373.72 256.73,379.03 256.88,381.30 257.03,373.21 257.18,380.36 257.33,376.67 257.48,375.21 257.63,382.97 257.78,379.62 257.93,382.83 258.08,380.57 258.23,381.22 258.38,372.12 258.53,380.22 258.68,369.50 258.83,380.50 258.98,379.52 259.13,375.47 259.28,378.13 259.43,382.78 259.58,379.48 259.73,373.77 259.88,382.80 260.03,344.41 260.57,344.41 260.87,371.26 261.02,381.39 261.17,375.23 261.32,382.60 261.47,374.01 261.62,374.83 261.77,373.80 261.92,380.82 262.07,369.91 262.22,371.09 262.37,381.09 262.52,380.31 262.67,371.02 262.82,375.95 262.97,368.48 263.12,381.52 263.27,381.90 263.42,367.78 263.57,380.82 263.72,373.01 263.87,383.10 264.02,371.06 264.17,382.69 264.32,373.91 264.47,377.91 264.62,377.83 264.77,380.98 264.92,374.91 265.07,380.83 265.22,381.04 265.37,379.31 265.52,368.33 265.67,376.45 265.82,372.56 265.97,383.27 266.12,376.02 266.27,382.02 266.42,375.99 266.57,373.34 266.72,371.99 266.87,380.08 267.02,369.90 267.17,376.86 267.32,361.19 268.04,361.19 268.34,366.61 268.49,376.22 268.64,380.84 268.79,370.06 268.94,379.85 269.09,374.00 269.24,378.73 269.39,375.22 269.54,371.69 269.69,381.77 269.84,381.61 269.99,375.17 270.14,375.39 270.29,372.55 270.44,375.05 270.59,376.07 270.74,370.58 270.89,382.53 271.04,376.55 271.19,373.47 271.34,373.54 271.49,371.55 271.64,376.99 271.79,376.10 271.94,381.13 272.09,374.68 272.24,372.71 272.39,371.75 272.54,380.12 272.69,371.56 272.84,371.41 272.99,369.69 273.14,378.01 273.29,374.85 273.44,380.59 273.59,375.36 273.74,343.11 274.26,343.11 274.56,379.42 274.71,381.36 274.86,379.83 275.01,377.33 275.16,376.39 275.31,382.72 275.46,374.97 275.61,376.20 275.76,379.93 275.91,378.11 276.06,382.51 276.21,374.94 276.36,381.62 276.51,380.68 276.66,371.20 276.81,382.61 276.96,380.13 277.11,382.79 277.26,377.87 277.41,382.24 277.56,378.03 277.71,382.46 277.86,381.36 278.01,372.57 278.16,382.31 278.31,371.85 278.46,377.69 278.61,375.22 278.76,376.72 278.91,374.24 279.06,374.60 279.21,380.66 279.36,376.12 279.51,377.82 279.66,371.61 279.81,371.85 279.96,380.10 280.11,376.27 280.26,378.53 280.41,382.64 280.56,370.15 280.71,373.86 280.86,381.92 281.01,380.08 281.16,381.46 281.31,371.74 281.46,376.65 281.61,362.25 282.28,362.25 282.58,383.08 282.73,379.87 282.88,382.94 283.03,372.05 283.18,379.19 283.33,374.91 283.48,378.05 283.63,382.38 283.78,376.83 283.93,371.12 284.08,377.90 284.23,378.90 284.38,374.28 284.53,381.55 284.68,374.67 284.83,377.44 284.98,378.54 285.13,368.26 285.28,382.62 285.43,379.43 285.58,374.42 285.73,382.80 285.88,381.15 286.03,379.07 286.18,377.77 286.33,380.26 286.48,373.42 286.63,377.20 286.78,368.17 286.93,336.80 287.55,336.80 287.85,375.53 288.00,379.66 288.15,380.90 288.30,380.07 288.45,376.37 288.60,380.78 288.75,372.55 288.90,383.46 289.05,379.41 289.20,377.01 289.35,380.17 289.50,377.08 289.65,374.91 289.80,379.62 289.95,383.44 290.10,379.10 290.25,382.62 290.40,376.36 290.55,383.38 290.70,383.05 290.85,381.18 291.00,370.49 291.15,382.86 291.30,378.82 291.45,377.41 291.60,381.86 291.75,379.04 291.90,382.02 292.05,378.85 292.20,372.66 292.35,383.19 292.50,373.57 292.65,378.21 292.80,373.70 292.95,370.14 293.10,377.94 293.25,376.68 293.40,371.16 293.55,382.10 293.70,378.85 293.85,379.36 294.00,372.31 294.15,375.82 294.30,381.05 294.45,379.51 294.60,376.53 294.75,361.15 295.32,361.15 295.62,370.34 295.77,379.89 295.92,380.72 296.07,374.60 296.22,377.53 296.37,375.88 296.52,369.40 296.67,377.82 296.82,379.95 296.97,378.12 297.12,382.94 297.27,375.19 297.42,380.55 297.57,382.03 297.72,380.99 297.87,372.53 298.02,383.65 298.17,373.08 298.32,369.16 298.47,379.38 298.62,375.12 298.77,375.79 298.92,372.45 299.07,381.91 299.22,369.29 299.37,375.57 299.52,383.89 299.67,371.91 299.82,380.72 299.97,379.92 300.12,376.18 300.27,379.82 300.42,372.74 300.57,382.21 300.72,382.38 300.87,380.65 301.02,336.80 301.52,336.80 301.82,369.74 301.97,368.40 302.12,381.53 302.27,383.46 302.42,383.28 302.57,374.02 302.72,382.73 302.87,371.85 303.02,377.34 303.17,381.30 303.32,377.46 303.47,374.07 303.62,379.70 303.77,376.73 303.92,382.40 304.07,382.15 304.22,370.92 304.37,382.16 304.52,373.80 304.67,373.81 304.82,383.92 304.97,383.47 305.12,379.25 305.27,382.87 305.42,379.51 305.57,374.55 305.72,378.46 305.87,380.33 306.02,371.65 306.17,375.81 306.32,381.51 306.47,380.18 306.62,370.65 306.77,372.25 306.92,383.81 307.07,372.07 307.22,382.82 307.37,381.27 307.52,375.25 307.67,374.91 307.82,376.71 307.97,372.12 308.12,373.42 308.27,383.97 308.42,359.79 309.13,359.79 309.43,370.75 309.58,382.10 309.73,371.02 309.88,376.29 310.03,376.80 310.18,379.10 310.33,379.14 310.48,377.79 310.63,383.02 310.78,383.87 310.93,378.00 311.08,382.94 311.23,374.35 311.38,383.17 311.53,369.94 311.68,381.13 311.83,379.50 311.98,380.74 312.13,375.40 312.28,380.29 312.43,377.81 312.58,374.18 312.73,377.51 312.88,380.47 313.03,384.01 313.18,382.79 313.33,380.83 313.48,378.00 313.63,380.84 313.78,374.41 313.93,376.54 314.08,382.24 314.23,375.89 314.38,336.80 314.75,336.80 315.05,367.89 315.20,370.31 315.35,382.24 315.50,377.67 315.65,378.61 315.80,376.67 315.95,381.47 316.10,381.25 316.25,380.37 316.40,379.08 316.55,375.02 316.70,379.17 316.85,377.69 317.00,378.56 317.15,383.84 317.30,379.13 317.45,382.22 317.60,378.15 317.75,377.50 317.90,382.82 318.05,374.62 318.20,381.72 318.35,381.22 318.50,374.53 318.65,373.36 318.80,382.84 318.95,383.18 319.10,377.87 319.25,373.58 319.40,374.01 319.55,379.31 319.70,374.44 319.85,370.44 320.00,380.36 320.15,383.01 320.30,371.04 320.45,383.50 320.60,369.81 320.75,373.94 320.90,336.80 321.46,336.80 321.76,372.54 321.91,374.21 322.06,378.69 322.21,381.11 322.36,376.66 322.51,374.08 322.66,381.08 322.81,381.09 322.96,381.53 323.11,384.14 323.26,376.47 323.41,379.71 323.56,379.64 323.71,377.37 323.86,377.89 324.01,377.68 324.16,377.09 324.31,377.72 324.46,381.99 324.61,380.18 324.76,383.14 324.91,383.17 325.06,375.90 325.21,374.75 325.36,378.90 325.51,383.29 325.66,372.61 325.81,376.83 325.96,378.50 326.11,371.75 326.26,382.87 326.41,382.72 326.56,376.05 326.71,382.04 326.86,336.80 327.26,336.80 327.56,378.27 327.71,376.84 327.86,382.34 328.01,381.67 328.16,380.34 328.31,382.91 328.46,376.08 328.61,382.69 328.76,382.37 328.91,379.51 329.06,375.06 329.21,378.03 329.36,381.93 329.51,383.58 329.66,376.01 329.81,380.52 329.96,383.29 330.11,383.63 330.26,373.41 330.41,378.38 330.56,373.68 330.71,381.93 330.86,381.88 331.01,383.61 331.16,377.54 331.31,381.27 331.46,369.58 331.61,374.46 331.76,378.20 331.91,379.19 332.06,378.77 332.21,379.50 332.36,379.49 332.51,380.67 332.66,370.43 332.81,382.19 332.96,370.25 333.11,336.80 333.73,336.80 334.03,367.85 334.18,377.00 334.33,379.28 334.48,383.30 334.63,380.59 334.78,381.89 334.93,374.31 335.08,377.65 335.23,377.16 335.38,374.51 335.53,378.00 335.68,376.77 335.83,377.04 335.98,369.47 336.13,378.79 336.28,376.98 336.43,374.93 336.58,382.85 336.73,380.98 336.88,374.77 337.03,383.00 337.18,382.25 337.33,370.98 337.48,371.56 337.63,371.40 337.78,383.46 337.93,381.42 338.08,379.39 338.23,380.41 338.38,384.05 338.53,378.94 338.68,370.21 338.83,374.30 338.98,375.00 339.13,380.13 339.28,375.48 339.43,380.48 339.58,370.73 339.73,381.84 339.88,372.80 340.03,373.59 340.18,381.84 340.33,369.27 340.48,372.24 340.63,380.02 340.78,336.85 341.19,336.85 341.49,377.98 341.64,382.21 341.79,376.27 341.94,375.55 342.09,380.73 342.24,369.96 342.39,383.29 342.54,373.83 342.69,381.60 342.84,382.76 342.99,382.74 343.14,380.13 343.29,372.16 343.44,377.62 343.59,374.03 343.74,381.36 343.89,369.02 344.04,373.71 344.19,381.13 344.34,380.32 344.49,382.87 344.64,381.96 344.79,383.02 344.94,379.20 345.09,377.61 345.24,382.98 345.39,373.28 345.54,370.59 345.69,375.59 345.84,383.40 345.99,377.25 346.14,341.83 346.83,341.83 347.13,372.18 347.28,381.35 347.43,381.40 347.58,375.86 347.73,382.17 347.88,380.90 348.03,378.28 348.18,383.69 348.33,380.84 348.48,371.61 348.63,370.25 348.78,381.41 348.93,380.25 349.08,372.48 349.23,383.07 349.38,372.86 349.53,373.39 349.68,375.84 349.83,380.42 349.98,381.17 350.13,383.72 350.28,375.49 350.43,370.54 350.58,374.17 350.73,373.93 350.88,382.89 351.03,377.67 351.18,377.82 351.33,379.04 351.48,383.44 351.63,372.49 351.78,377.32 351.93,374.60 352.08,375.09 352.23,383.57 352.38,372.43 352.53,361.81 353.30,361.81 353.60,379.54 353.75,378.92 353.90,381.12 354.05,384.45 354.20,383.62 354.35,380.33 354.50,383.91 354.65,377.97 354.80,378.66 354.95,383.00 355.10,383.12 355.25,382.63 355.40,380.16 355.55,371.17 355.70,379.28 355.85,382.08 356.00,378.65 356.15,380.22 356.30,382.64 356.45,375.55 356.60,379.35 356.75,383.22 356.90,384.18 357.05,383.51 357.20,369.68 357.35,380.47 357.50,381.33 357.65,382.80 357.80,383.29 357.95,378.79 358.10,377.94 358.25,372.34 358.40,382.83 358.55,381.93 358.70,383.11 358.85,377.12 359.00,375.60 359.15,376.79 359.30,381.09 359.45,375.23 359.60,336.80 360.14,336.80 360.44,374.06 360.59,379.09 360.74,384.43 360.89,373.49 361.04,383.71 361.19,384.36 361.34,380.99 361.49,379.22 361.64,376.67 361.79,384.17 361.94,378.90 362.09,383.60 362.24,380.61 362.39,373.01 362.54,378.95 362.69,377.23 362.84,377.80 362.99,373.02 363.14,378.43 363.29,376.28 363.44,375.55 363.59,382.58 363.74,376.54 363.89,378.36 364.04,373.30 364.19,373.78 364.34,384.20 364.49,371.19 364.64,380.43 364.79,373.94 364.94,379.74 365.09,382.26 365.24,380.23 365.39,381.47 365.54,379.40 365.69,384.01 365.84,378.40 365.99,375.99 366.14,376.33 366.29,383.60 366.44,381.70 366.59,382.02 366.74,355.88 367.22,355.88 367.52,382.95 367.67,380.90 367.82,384.29 367.97,382.15 368.12,373.80 368.27,383.83 368.42,381.36 368.57,383.46 368.72,378.88 368.87,370.50 369.02,376.67 369.17,380.74 369.32,373.46 369.47,371.05 369.62,384.11 369.77,376.53 369.92,381.05 370.07,375.19 370.22,374.87 370.37,382.56 370.52,375.48 370.67,379.89 370.82,378.59 370.97,376.85 371.12,382.98 371.27,384.43 371.42,380.46 371.57,377.07 371.72,371.97 371.87,382.42 372.02,383.88 372.17,384.33 372.32,371.73 372.47,382.01 372.62,373.79 372.77,376.72 372.92,382.35 373.07,382.21 373.22,374.80 373.37,380.61 373.52,379.91 373.67,376.66 373.82,383.87 373.97,339.39 374.35,339.39 374.65,378.31 374.80,380.30 374.95,382.29 375.10,379.32 375.25,381.11 375.40,383.98 375.55,382.13 375.70,378.53 375.85,381.70 376.00,384.54 376.15,379.20 376.30,382.54 376.45,379.64 376.60,372.48 376.75,381.88 376.90,373.87 377.05,383.83 377.20,383.07 377.35,381.21 377.50,384.29 377.65,371.26 377.80,382.54 377.95,383.96 378.10,376.30 378.25,377.91 378.40,371.77 378.55,381.93 378.70,370.41 378.85,381.10 379.00,379.65 379.15,381.33 379.30,365.35 379.95,365.35 380.25,382.89 380.40,379.50 380.55,381.28 380.70,384.44 380.85,376.38 381.00,383.47 381.15,380.11 381.30,383.83 381.45,377.63 381.60,376.85 381.75,383.28 381.90,380.64 382.05,381.13 382.20,380.63 382.35,382.95 382.50,377.48 382.65,371.95 382.80,383.53 382.95,380.83 383.10,372.16 383.25,384.31 383.40,383.97 383.55,380.00 383.70,376.92 383.85,382.18 384.00,382.77 384.15,383.25 384.30,380.30 384.45,382.64 384.60,384.35 384.75,381.73 384.90,378.38 385.05,374.01 385.20,352.84 385.98,352.84 386.28,370.84 386.43,383.30 386.58,377.87 386.73,378.60 386.88,382.43 387.03,377.82 387.18,369.84 387.33,377.15 387.48,371.82 387.63,384.15 387.78,378.48 387.93,383.53 388.08,373.98 388.23,377.60 388.38,381.66 388.53,373.72 388.68,378.46 388.83,378.53 388.98,370.68 389.13,377.17 389.28,384.49 389.43,378.79 389.58,372.51 389.73,381.61 389.88,377.32 390.03,379.01 390.18,383.48 390.33,374.82 390.48,373.27 390.63,377.76 390.78,379.59 390.93,379.49 391.08,378.60 391.23,383.69 391.38,382.61 391.53,382.66 391.68,382.18 391.83,377.86 391.98,379.46 392.13,378.70 392.28,378.12 392.43,382.45 392.58,377.14 392.73,378.34 392.88,373.80 393.03,375.47 393.18,362.88 393.64,362.88 393.94,379.28 394.09,370.44 394.24,371.35 394.39,377.30 394.54,381.59 394.69,373.84 394.84,374.12 394.99,375.72 395.14,378.80 395.29,372.47 395.44,382.58 395.59,378.76 395.74,383.39 395.89,382.89 396.04,384.46 396.19,373.32 396.34,383.59 396.49,379.09 396.64,379.13 396.79,382.72 396.94,370.69 397.09,377.05 397.24,382.98 397.39,370.96 397.54,382.71 397.69,380.15 397.84,370.30 397.99,372.63 398.14,377.02 398.29,381.47 398.44,384.03 398.59,382.37 398.74,371.53 398.89,380.99 399.04,379.86 399.19,379.03 399.34,377.48 399.49,355.87 400.27,355.87 400.57,372.31 400.72,374.36 400.87,375.84 401.02,374.63 401.17,381.41 401.32,377.34 401.47,382.98 401.62,381.29 401.77,374.54 401.92,377.95 402.07,383.24 402.22,382.40 402.37,371.41 402.52,384.43 402.67,378.79 402.82,384.37 402.97,380.86 403.12,381.96 403.27,377.32 403.42,374.75 403.57,382.41 403.72,378.42 403.87,379.12 404.02,381.08 404.17,383.94 404.32,374.07 404.47,382.73 404.62,383.98 404.77,373.74 404.92,373.84 405.07,383.87 405.22,384.49 405.37,381.11 405.52,382.93 405.67,371.87 405.82,365.15 406.24,365.15 406.54,376.00 406.69,378.15 406.84,370.21 406.99,383.06 407.14,375.27 407.29,384.51 407.44,375.53 407.59,379.83 407.74,377.57 407.89,377.51 408.04,373.43 408.19,371.06 408.34,384.82 408.49,381.08 408.64,374.68 408.79,384.72 408.94,376.81 409.09,381.10 409.24,378.27 409.39,375.86 409.54,378.71 409.69,373.09 409.84,378.95 409.99,371.94 410.14,378.62 410.29,373.97 410.44,383.01 410.59,376.55 410.74,373.28 410.89,383.75 411.04,384.07 411.19,379.26 411.34,372.70 411.49,379.31 411.64,384.78 411.79,337.98 412.22,337.98 412.52,384.33 412.67,379.84 412.82,380.39 412.97,380.62 413.12,381.13 413.27,378.69 413.42,371.25 413.57,378.44 413.72,377.92 413.87,382.98 414.02,378.03 414.17,384.71 414.32,374.68 414.47,380.55 414.62,384.52 414.77,381.73 414.92,371.10 415.07,379.05 415.22,384.17 415.37,375.45 415.52,376.65 415.67,383.77 415.82,382.99 415.97,376.92 416.12,381.88 416.27,379.92 416.42,383.81 416.57,371.90 416.72,372.57 416.87,383.52 417.02,383.63 417.17,379.23 417.32,381.63 417.47,371.45 417.62,378.13 417.77,375.67 417.92,375.52 418.07,379.96 418.22,383.68 418.37,372.89 418.52,382.22 418.67,374.82 418.82,381.39 418.97,380.75 419.12,378.99 419.27,336.80 419.80,336.80 420.10,382.93 420.25,382.32 420.40,383.67 420.55,378.00 420.70,373.26 420.85,377.29 421.00,381.97 421.15,380.51 421.30,381.04 421.45,374.80 421.60,378.07 421.75,382.18 421.90,381.67 422.05,378.19 422.20,377.27 422.35,372.10 422.50,375.49 422.65,379.96 422.80,377.42 422.95,375.71 423.10,383.98 423.25,378.96 423.40,376.05 423.55,377.70 423.70,384.21 423.85,377.88 424.00,370.55 424.15,378.65 424.30,381.38 424.45,379.23 424.60,375.86 424.75,379.93 424.90,377.71 425.05,340.07 425.49,340.07 425.79,372.25 425.94,377.79 426.09,381.90 426.24,371.88 426.39,383.46 426.54,377.73 426.69,380.26 426.84,382.73 426.99,382.23 427.14,385.01 427.29,377.86 427.44,379.40 427.59,382.09 427.74,375.71 427.89,382.74 428.04,383.98 428.19,379.59 428.34,375.74 428.49,378.51 428.64,381.85 428.79,377.49 428.94,382.88 429.09,375.14 429.24,377.34 429.39,380.10 429.54,381.49 429.69,378.66 429.84,382.76 429.99,380.69 430.14,383.35 430.29,372.75 430.44,379.63 430.59,378.62 430.74,378.61 430.89,383.63 431.04,381.85 431.19,376.71 431.34,380.80 431.49,375.91 431.64,384.98 431.79,375.11 431.94,374.61 432.09,373.13 432.24,375.31 432.39,376.42 432.54,372.05 432.69,380.26 432.84,375.94 432.99,384.15 433.14,340.89 433.67,340.89 433.97,383.73 434.12,380.55 434.27,383.93 434.42,381.99 434.57,384.10 434.72,384.94 434.87,380.38 435.02,374.81 435.17,377.51 435.32,377.01 435.47,382.62 435.62,382.49 435.77,382.86 435.92,378.05 436.07,377.88 436.22,380.66 436.37,381.52 436.52,373.29 436.67,383.53 436.82,384.55 436.97,375.10 437.12,378.17 437.27,379.25 437.42,382.68 437.57,383.72 437.72,381.33 437.87,376.87 438.02,384.25 438.17,383.51 438.32,372.89 438.47,384.54 438.62,380.61 438.77,381.68 438.92,377.67 439.07,379.46 439.22,384.77 439.37,382.79 439.52,379.85 439.67,375.68 439.82,384.38 439.97,383.82 440.12,384.79 440.27,336.80 440.92,336.80 441.22,385.01 441.37,384.33 441.52,381.27 441.67,382.07 441.82,379.74 441.97,379.79 442.12,383.29 442.27,381.50 442.42,383.50 442.57,376.30 442.72,374.39 442.87,384.15 443.02,372.48 443.17,375.56 443.32,379.65 443.47,383.34 443.62,372.73 443.77,377.12 443.92,381.25 444.07,384.60 444.22,378.33 444.37,375.41 444.52,379.68 444.67,376.34 444.82,378.31 444.97,384.69 445.12,377.27 445.27,372.54 445.42,371.76 445.57,339.94 446.27,339.94 446.57,380.85 446.72,383.68 446.87,380.50 447.02,376.94 447.17,381.78 447.32,382.12 447.47,383.13 447.62,384.50 447.77,375.10 447.92,374.83 448.07,377.53 448.22,372.39 448.37,379.70 448.52,382.55 448.67,383.16 448.82,372.40 448.97,384.46 449.12,378.43 449.27,384.32 449.42,377.38 449.57,377.66 449.72,377.13 449.87,378.71 450.02,371.08 450.17,374.31 450.32,380.35 450.47,382.44 450.62,376.74 450.77,385.25 450.92,377.26 451.07,376.51 451.22,385.16 451.37,382.57 451.52,376.90 451.67,384.23 451.82,372.58 451.97,370.86 452.12,374.66 452.27,378.74 452.42,354.54 452.98,354.54 453.28,382.30 453.43,373.02 453.58,382.13 453.73,372.64 453.88,381.86 454.03,379.53 454.18,380.51 454.33,380.78 454.48,380.65 454.63,375.69 454.78,378.47 454.93,377.47 455.08,371.94 455.23,381.81 455.38,384.01 455.53,383.38 455.68,376.35 455.83,381.49 455.98,383.03 456.13,380.95 456.28,375.82 456.43,381.46 456.58,372.75 456.73,381.13 456.88,381.49 457.03,375.85 457.18,382.66 457.33,384.49 457.48,382.13 457.63,372.86 457.78,377.40 457.93,380.26 458.08,375.87 458.23,382.06 458.38,384.98 458.53,376.30 458.68,382.75 458.83,382.21 458.98,381.49 459.13,384.92 459.28,347.05 460.02,347.05 460.32,376.37 460.47,383.30 460.62,384.68 460.77,384.89 460.92,383.94 461.07,377.98 461.22,375.86 461.37,374.75 461.52,382.76 461.67,380.60 461.82,379.65 461.97,380.73 462.12,377.94 462.27,382.08 462.42,381.07 462.57,384.56 462.72,382.38 462.87,381.52 463.02,380.58 463.17,376.89 463.32,378.44 463.47,377.41 463.62,373.06 463.77,377.65 463.92,384.38 464.07,377.75 464.22,377.88 464.37,375.01 464.52,375.86 464.67,381.57 464.82,374.20 464.97,373.65 465.12,353.73 465.71,353.73 466.01,375.19 466.16,375.76 466.31,374.10 466.46,381.87 466.61,378.24 466.76,378.20 466.91,385.21 467.06,376.80 467.21,375.02 467.36,383.38 467.51,383.94 467.66,375.59 467.81,374.15 467.96,374.94 468.11,372.08 468.26,376.99 468.41,380.71 468.56,383.65 468.71,384.46 468.86,372.26 469.01,377.88 469.16,378.52 469.31,381.32 469.46,383.98 469.61,381.21 469.76,380.80 469.91,378.25 470.06,383.27 470.21,373.48 470.36,381.91 470.51,381.86 470.66,373.36 470.81,372.95 470.96,375.90 471.11,384.00 471.26,381.18 471.41,374.44 471.56,344.49 471.93,344.49 472.23,383.21 472.38,376.78 472.53,383.40 472.68,383.85 472.83,385.34 472.98,384.86 473.13,373.13 473.28,377.89 473.43,376.74 473.58,375.16 473.73,385.42 473.88,381.52 474.03,376.73 474.18,376.19 474.33,374.39 474.48,383.60 474.63,383.28 474.78,376.29 474.93,376.88 475.08,378.42 475.23,375.99 475.38,382.10 475.53,379.83 475.68,381.41 475.83,385.03 475.98,376.94 476.13,375.98 476.28,379.78 476.43,382.28 476.58,378.59 476.73,381.49 476.88,378.80 477.03,380.23 477.18,373.00 477.33,380.76 477.48,380.83 477.63,372.33 477.78,382.36 477.93,385.31 478.08,375.78 478.23,377.06 478.38,381.59 478.53,385.11 478.68,382.59 478.83,380.10 478.98,378.76 479.13,380.74 479.28,380.71 479.43,375.35 479.58,384.17 479.73,383.86 479.88,377.14 480.03,366.94 480.68,366.94 480.98,379.02 481.13,376.81 481.28,377.35 481.43,376.06 481.58,380.45 481.73,382.48 481.88,382.38 482.03,374.97 482.18,380.96 482.33,382.76 482.48,379.04 482.63,380.92 482.78,385.30 482.93,381.67 483.08,373.10 483.23,373.38 483.38,371.91 483.53,377.80 483.68,381.47 483.83,382.35 483.98,384.73 484.13,379.82 484.28,379.79 484.43,385.16 484.58,380.86 484.73,378.17 484.88,378.18 485.03,379.27 485.18,382.51 485.33,383.65 485.48,376.28 485.63,382.50 485.78,385.22 485.93,344.10 486.36,344.10 486.66,374.31 486.81,382.20 486.96,383.68 487.11,375.46 487.26,379.87 487.41,385.30 487.56,381.08 487.71,372.92 487.86,385.31 488.01,382.25 488.16,382.32 488.31,373.30 488.46,375.81 488.61,375.43 488.76,375.90 488.91,377.08 489.06,383.97 489.21,379.50 489.36,383.87 489.51,381.15 489.66,382.01 489.81,376.38 489.96,385.54 490.11,384.48 490.26,380.50 490.41,376.97 490.56,383.02 490.71,381.11 490.86,353.86 491.58,353.86 491.88,373.72 492.03,382.67 492.18,384.82 492.33,376.60 492.48,373.62 492.63,380.93 492.78,374.65 492.93,373.32 493.08,384.89 493.23,382.74 493.38,385.26 493.53,384.38 493.68,383.21 493.83,375.56 493.98,384.30 494.13,379.81 494.28,379.53 494.43,382.20 494.58,379.58 494.73,381.53 494.88,380.15 495.03,384.44 495.18,379.15 495.33,379.56 495.48,380.61 495.63,380.24 495.78,379.42 495.93,375.88 496.08,376.50 496.23,376.89 496.38,384.90 496.53,384.03 496.68,375.10 496.83,378.40 496.98,372.30 497.13,385.17 497.28,385.59 497.43,378.86 497.58,383.42 497.73,378.74 497.88,381.25 498.03,385.32 498.18,383.84 498.33,383.13 498.48,376.36 498.63,377.22 498.78,375.11 498.93,374.36 499.08,376.54 499.23,379.48 499.38,378.91 499.53,340.87 499.94,340.87 500.24,384.50 500.39,377.11 500.54,382.48 500.69,384.45 500.84,384.27 500.99,377.92 501.14,383.76 501.29,380.37 501.44,384.59 501.59,380.96 501.74,375.07 501.89,384.73 502.04,383.10 502.19,381.21 502.34,378.29 502.49,379.16 502.64,375.25 502.79,382.04 502.94,374.09 503.09,379.10 503.24,373.93 503.39,383.74 503.54,376.93 503.69,383.10 503.84,383.36 503.99,358.66 504.58,358.66 504.88,378.06 505.03,378.44 505.18,380.43 505.33,380.87 505.48,385.50 505.63,385.43 505.78,383.06 505.93,376.72 506.08,380.19 506.23,383.61 506.38,375.46 506.53,383.90 506.68,385.09 506.83,384.20 506.98,374.74 507.13,374.78 507.28,376.79 507.43,384.42 507.58,384.79 507.73,380.27 507.88,376.99 508.03,385.12 508.18,383.07 508.33,385.50 508.48,378.42 508.63,382.68 508.78,381.22 508.93,380.65 509.08,381.25 509.23,380.18 509.38,383.73 509.53,380.22 509.68,382.12 509.83,384.94 509.98,383.85 510.13,377.06 510.28,383.87 510.43,379.31 510.58,382.81 510.73,384.82 510.88,385.69 511.03,370.93 511.18,379.65 511.33,350.38 512.01,350.38 512.31,385.62 512.46,376.82 512.61,384.96 512.76,377.69 512.91,372.34 513.06,372.35 513.21,384.28 513.36,377.57 513.51,383.42 513.66,376.17 513.81,381.90 513.96,376.68 514.11,377.14 514.26,381.88 514.41,374.52 514.56,375.92 514.71,378.00 514.86,379.82 515.01,375.38 515.16,378.10 515.31,377.29 515.46,378.66 515.61,384.93 515.76,374.64 515.91,374.97 516.06,381.75 516.21,372.63 516.36,379.49 516.51,381.06 516.66,383.38 516.81,383.68 516.96,381.13 517.11,384.11 517.26,380.11 517.41,384.39 517.56,382.97 517.71,381.25 517.86,383.46 518.01,379.72 518.16,374.48 518.31,372.32 518.46,381.29 518.61,373.86 518.76,343.03 519.18,343.03 519.48,371.58 519.63,385.32 519.78,383.62 519.93,381.88 520.08,379.14 520.23,377.12 520.38,377.56 520.53,372.02 520.68,385.25 520.83,382.73 520.98,385.54 521.13,384.50 521.28,384.29 521.43,373.71 521.58,383.29 521.73,379.33 521.88,381.23 522.03,377.73 522.18,382.63 522.33,381.13 522.48,378.38 522.63,383.21 522.78,380.14 522.93,375.39 523.08,376.19 523.23,385.33 523.38,382.15 523.53,384.46 523.68,378.61 523.83,351.14 524.39,351.14 524.69,373.22 524.84,380.98 524.99,385.74 525.14,378.68 525.29,376.24 525.44,372.38 525.59,377.83 525.74,384.92 525.89,382.39 526.04,384.03 526.19,380.90 526.34,383.17 526.49,372.43 526.64,384.50 526.79,377.66 526.94,376.55 527.09,385.44 527.24,383.66 527.39,374.55 527.54,382.78 527.69,379.43 527.84,380.48 527.99,385.12 528.14,384.53 528.29,376.62 528.44,381.80 528.59,381.85 528.74,381.75 528.89,375.38 529.04,384.45 529.19,382.69 529.34,385.64 529.49,381.38 529.64,377.44 529.79,382.20 529.94,371.71 530.09,384.63 530.24,376.93 530.39,373.77 530.54,377.40 530.69,374.60 530.84,385.09 530.99,379.24 531.14,384.95 531.29,378.75 531.44,379.54 531.59,385.88 531.74,381.22 531.89,385.44 532.04,374.59 532.19,384.84 532.34,348.33 532.78,348.33 533.08,379.24 533.23,375.15 533.38,380.56 533.53,385.47 533.68,385.52 533.83,381.74 533.98,381.85" fill="none" stroke="#00f000" stroke-width="1.3" stroke-linejoin="round" stroke-linecap="round" clip-path="url(#cpe)"/>
<polyline points="25.30,374.62 25.45,352.04 25.92,352.04 26.22,361.89 26.62,373.95 27.02,367.29 27.42,374.39 27.82,369.28 28.22,375.87 28.62,362.49 29.02,365.46 29.42,377.74 29.82,368.55 30.22,366.40 30.62,376.34 31.02,373.63 31.42,363.53 31.82,372.28 32.22,374.19 32.62,364.01 33.02,374.01 33.42,362.77 33.82,368.22 34.22,361.42 34.62,365.14 35.02,378.98 35.42,369.64 35.82,379.18 36.22,370.34 36.62,373.38 37.02,377.54 37.42,374.71 37.82,362.52 38.22,373.11 38.62,373.88 39.02,364.64 39.42,361.98 39.82,377.65 40.22,371.85 40.62,365.02 41.02,370.74 41.17,350.07 41.75,350.07 42.05,358.79 42.45,361.88 42.85,367.22 43.25,359.18 43.65,375.73 44.05,362.76 44.45,372.18 44.85,362.07 45.25,371.38 45.65,374.92 46.05,372.39 46.45,370.94 46.85,371.51 47.25,370.62 47.65,373.49 48.05,362.22 48.45,371.36 48.85,366.33 49.25,377.78 49.65,378.85 50.05,361.20 50.45,363.86 50.85,375.35 51.25,373.18 51.65,358.86 52.05,375.41 52.45,379.00 52.85,370.50 53.25,368.98 53.65,373.21 54.05,378.98 54.45,367.14 54.85,368.04 55.00,347.48 55.56,347.48 55.86,362.70 56.26,359.91 56.66,368.32 57.06,379.68 57.46,373.60 57.86,367.68 58.26,379.05 58.66,369.36 59.06,366.98 59.46,360.01 59.86,364.21 60.26,365.70 60.66,366.50 61.06,378.22 61.46,367.36 61.86,366.99 62.26,374.03 62.66,378.90 63.06,368.02 63.46,376.61 63.86,369.71 64.26,373.35 64.66,373.96 65.06,379.32 65.21,345.57 65.94,345.57 66.24,365.52 66.64,379.61 67.04,373.16 67.44,376.89 67.84,368.66 68.24,379.01 68.64,374.35 69.04,367.14 69.44,379.31 69.84,371.83 70.24,369.26 70.64,367.55 71.04,363.13 71.44,366.03 71.84,375.73 72.24,364.36 72.64,367.51 73.04,371.50 73.44,373.30 73.84,370.21 74.24,377.24 74.64,367.52 75.04,369.99 75.44,371.13 75.84,364.09 76.24,366.71 76.64,364.65 77.04,376.39 77.44,364.68 77.84,375.49 78.24,366.76 78.39,348.37 78.90,348.37 79.20,378.91 79.60,373.67 80.00,361.11 80.40,370.90 80.80,367.89 81.20,372.14 81.60,379.61 82.00,378.62 82.40,361.87 82.80,375.81 83.20,379.66 83.60,373.52 84.00,363.24 84.40,378.72 84.80,371.40 85.20,380.36 85.60,378.86 86.00,378.20 86.40,379.70 86.80,362.24 87.20,377.70 87.60,368.96 88.00,364.61 88.40,370.55 88.80,374.45 89.20,358.66 89.60,371.97 90.00,377.63 90.40,372.84 90.80,373.45 91.20,368.86 91.60,380.39 92.00,367.76 92.40,376.07 92.80,375.51 92.95,354.74 93.40,354.74 93.70,380.56 94.10,379.46 94.50,378.80 94.90,371.10 95.30,372.04 95.70,370.05 96.10,380.01 96.50,360.67 96.90,364.89 97.30,380.33 97.70,378.16 98.10,376.62 98.50,380.52 98.90,373.57 99.30,378.63 99.70,372.10 100.10,379.60 100.50,362.67 100.90,372.04 101.30,374.56 101.70,378.06 102.10,371.76 102.50,376.30 102.90,380.58 103.30,371.72 103.70,366.85 104.10,360.97 104.50,379.09 104.90,372.84 105.30,371.15 105.70,373.64 106.10,364.65 106.50,367.51 106.90,367.85 107.30,368.33 107.45,341.36 107.84,341.36 108.14,378.04 108.54,361.00 108.94,376.32 109.34,376.50 109.74,375.92 110.14,377.88 110.54,371.98 110.94,367.70 111.34,377.43 111.74,375.55 112.14,376.82 112.54,366.69 112.94,371.02 113.34,376.64 113.74,371.28 114.14,375.22 114.54,372.98 114.94,377.64 115.34,370.59 115.74,373.45 116.14,378.76 116.54,369.82 116.94,366.60 117.34,375.84 117.74,365.41 118.14,379.20 118.29,353.91 118.88,353.91 119.18,362.19 119.58,376.61 119.98,373.33 120.38,375.87 120.78,371.13 121.18,380.66 121.58,366.70 121.98,378.39 122.38,361.26 122.78,373.76 123.18,363.31 123.58,365.55 123.98,375.17 124.38,379.94 124.78,370.00 125.18,371.90 125.58,373.27 125.98,375.48 126.38,370.89 126.78,370.92 127.18,379.26 127.58,374.69 127.98,370.97 128.38,378.77 128.78,381.27 129.18,372.54 129.58,360.98 129.98,370.04 130.38,379.92 130.78,366.91 130.93,352.20 131.33,352.20 131.63,377.98 132.03,371.77 132.43,375.42 132.83,365.24 133.23,378.21 133.63,372.75 134.03,378.15 134.43,378.07 134.83,364.10 135.23,378.93 135.63,378.91 136.03,368.79 136.43,375.44 136.83,367.95 137.23,374.58 137.63,377.94 138.03,371.69 138.43,374.51 138.83,366.02 139.23,379.55 139.63,376.06 140.03,379.10 140.43,364.43 140.83,377.89 141.23,364.80 141.63,374.97 142.03,368.70 142.18,338.91 142.75,338.91 143.05,369.92 143.45,363.93 143.85,376.75 144.25,381.08 144.65,371.54 145.05,380.11 145.45,371.12 145.85,369.76 146.25,373.32 146.65,381.11 147.05,378.47 147.45,376.29 147.85,363.02 148.25,373.30 148.65,361.67 149.05,364.02 149.45,371.95 149.85,369.22 150.25,365.54 150.65,374.40 151.05,378.57 151.45,380.54 151.85,380.42 152.25,372.94 152.65,367.72 153.05,381.06 153.45,372.91 153.85,371.41 154.25,379.20 154.65,375.24 155.05,380.93 155.45,377.46 155.85,380.86 156.25,367.16 156.40,347.88 157.06,347.88 157.36,366.66 157.76,370.57 158.16,367.67 158.56,381.08 158.96,366.29 159.36,369.45 159.76,376.52 160.16,368.59 160.56,368.81 160.96,369.72 161.36,369.31 161.76,361.82 162.16,378.13 162.56,376.95 162.96,370.98 163.36,380.33 163.76,375.43 164.16,369.06 164.56,381.20 164.96,369.31 165.36,379.15 165.76,379.25 166.16,361.28 166.56,379.67 166.96,373.16 167.36,374.57 167.76,380.99 168.16,373.73 168.31,337.84 169.06,337.84 169.36,370.26 169.76,376.80 170.16,381.45 170.56,380.90 170.96,380.90 171.36,374.69 171.76,380.57 172.16,371.14 172.56,366.86 172.96,376.83 173.36,363.40 173.76,381.39 174.16,371.55 174.56,373.39 174.96,370.89 175.36,371.54 175.76,375.31 176.16,379.18 176.56,362.69 176.96,371.97 177.36,370.02 177.76,381.26 178.16,373.73 178.56,373.83 178.96,381.00 179.36,372.84 179.76,372.80 180.16,373.08 180.56,369.89 180.96,377.90 181.36,370.97 181.76,374.98 182.16,375.97 182.56,378.80 182.96,378.44 183.36,374.55 183.76,381.21 184.16,381.17 184.31,352.20 184.86,352.20 185.16,368.74 185.56,374.47 185.96,378.60 186.36,373.01 186.76,372.62 187.16,363.32 187.56,378.37 187.96,371.20 188.36,374.86 188.76,378.33 189.16,379.77 189.56,381.21 189.96,377.47 190.36,370.08 190.76,381.03 191.16,365.18 191.56,373.57 191.96,380.99 192.36,379.98 192.76,376.51 193.16,380.29 193.56,368.89 193.96,364.65 194.36,371.50 194.76,381.09 195.16,364.72 195.56,372.09 195.96,375.24 196.36,369.65 196.76,380.37 197.16,367.13 197.56,366.49 197.96,381.95 198.11,341.72 198.65,341.72 198.95,379.58 199.35,376.27 199.75,379.55 200.15,376.99 200.55,379.91 200.95,363.74 201.35,375.88 201.75,364.05 202.15,380.22 202.55,364.33 202.95,366.99 203.35,374.15 203.75,377.13 204.15,363.74 204.55,377.42 204.95,367.32 205.35,372.35 205.75,365.25 206.15,378.67 206.55,380.05 206.95,379.26 207.35,372.39 207.75,370.99 207.90,355.25 208.68,355.25 208.98,370.59 209.38,378.08 209.78,379.54 210.18,375.69 210.58,379.54 210.98,375.51 211.38,371.59 211.78,375.20 212.18,365.50 212.58,378.11 212.98,372.82 213.38,369.69 213.78,379.73 214.18,376.02 214.58,372.53 214.98,381.38 215.38,381.57 215.78,374.48 216.18,376.39 216.58,362.95 216.98,373.35 217.38,382.20 217.78,375.89 218.18,382.29 218.58,365.24 218.98,364.65 219.38,366.62 219.78,367.10 220.18,379.40 220.58,382.27 220.98,379.50 221.38,377.39 221.78,373.94 222.18,373.96 222.58,368.82 222.98,374.24 223.38,368.62 223.78,380.18 224.18,376.50 224.33,356.74 224.82,356.74 225.12,380.02 225.52,377.82 225.92,377.37 226.32,377.91 226.72,381.39 227.12,382.49 227.52,376.90 227.92,382.10 228.32,371.65 228.72,381.72 229.12,381.21 229.52,378.05 229.92,368.58 230.32,381.29 230.72,374.19 231.12,373.42 231.52,382.07 231.92,368.02 232.32,378.24 232.72,371.44 233.12,381.13 233.52,371.25 233.92,368.64 234.32,376.03 234.72,375.59 235.12,379.73 235.52,372.61 235.92,372.83 236.07,350.01 236.48,350.01 236.78,374.41 237.18,378.94 237.58,372.21 237.98,376.05 238.38,368.48 238.78,375.94 239.18,379.93 239.58,364.23 239.98,378.48 240.38,381.91 240.78,372.78 241.18,373.51 241.58,378.97 241.98,370.24 242.38,372.64 242.78,378.15 243.18,376.77 243.58,370.58 243.98,371.28 244.38,376.40 244.78,381.37 245.18,371.37 245.58,379.12 245.98,377.04 246.38,372.95 246.78,375.28 247.18,380.88 247.58,369.11 247.98,377.32 248.38,376.34 248.78,369.38 249.18,375.38 249.58,370.88 249.73,337.54 250.33,337.54 250.63,379.37 251.03,382.27 251.43,372.64 251.83,380.73 252.23,374.57 252.63,379.69 253.03,376.37 253.43,380.07 253.83,375.30 254.23,382.63 254.63,376.34 255.03,380.79 255.43,371.33 255.83,379.94 256.23,372.00 256.63,375.53 257.03,375.08 257.43,379.19 257.83,378.03 258.23,373.33 258.63,382.43 259.03,367.60 259.43,376.65 259.83,370.35 260.23,369.81 260.63,372.34 261.03,382.61 261.43,366.90 261.83,379.99 262.23,378.16 262.63,381.41 263.03,381.58 263.18,360.22 263.60,360.22 263.90,367.33 264.30,379.79 264.70,378.19 265.10,379.69 265.50,372.46 265.90,376.82 266.30,374.51 266.70,382.92 267.10,378.17 267.50,379.88 267.90,376.49 268.30,370.34 268.70,369.85 269.10,372.79 269.50,380.39 269.90,372.37 270.30,377.04 270.70,374.92 271.10,370.86 271.50,375.41 271.90,377.23 272.30,382.55 272.45,348.01 272.93,348.01 273.23,369.87 273.63,377.85 274.03,383.16 274.43,369.46 274.83,372.31 275.23,375.95 275.63,378.37 276.03,369.31 276.43,367.59 276.83,378.25 277.23,367.40 277.63,381.61 278.03,379.80 278.43,377.11 278.83,383.55 279.23,377.35 279.63,383.01 280.03,373.08 280.43,369.83 280.83,376.44 281.23,378.07 281.63,379.83 282.03,371.16 282.43,380.38 282.83,374.51 283.23,383.09 283.63,381.45 284.03,381.18 284.43,368.94 284.83,369.43 285.23,368.50 285.63,376.97 286.03,368.61 286.18,338.33 286.98,338.33 287.28,374.42 287.68,371.95 288.08,374.49 288.48,370.97 288.88,381.57 289.28,382.98 289.68,381.80 290.08,370.18 290.48,379.33 290.88,382.26 291.28,376.45 291.68,381.44 292.08,367.85 292.48,378.24 292.88,381.05 293.28,377.02 293.68,371.01 294.08,383.58 294.48,381.87 294.88,374.81 295.28,380.95 295.68,372.65 296.08,379.60 296.48,380.77 296.88,379.41 297.28,377.28 297.68,382.09 298.08,376.92 298.48,370.40 298.63,340.86 299.33,340.86 299.63,368.02 300.03,379.22 300.43,370.46 300.83,383.44 301.23,383.91 301.63,374.14 302.03,379.06 302.43,374.12 302.83,372.17 303.23,370.69 303.63,382.84 304.03,373.96 304.43,373.62 304.83,373.08 305.23,375.09 305.63,383.49 306.03,373.77 306.43,373.27 306.83,370.21 307.23,380.89 307.63,371.54 308.03,382.17 308.43,383.46 308.83,375.02 309.23,377.91 309.63,382.00 310.03,378.19 310.43,375.71 310.83,383.22 311.23,384.08 311.63,374.39 312.03,382.47 312.43,369.66 312.83,382.28 313.23,376.19 313.63,383.98 314.03,369.22 314.43,373.91 314.83,377.10 315.23,378.49 315.63,381.75 315.78,338.41 316.24,338.41 316.54,369.06 316.94,378.65 317.34,373.83 317.74,375.91 318.14,374.96 318.54,377.83 318.94,375.93 319.34,380.08 319.74,374.13 320.14,380.79 320.54,383.30 320.94,381.57 321.34,371.23 321.74,378.26 322.14,382.32 322.54,370.94 322.94,383.57 323.34,372.00 323.74,371.93 324.14,368.53 324.54,382.76 324.94,369.53 325.34,378.18 325.74,379.72 326.14,378.37 326.54,384.17 326.94,379.83 327.34,368.32 327.74,377.18 328.14,373.17 328.54,383.14 328.69,355.31 329.23,355.31 329.53,374.94 329.93,375.01 330.33,380.44 330.73,379.90 331.13,382.31 331.53,382.37 331.93,371.88 332.33,382.42 332.73,376.15 333.13,384.01 333.53,379.61 333.93,374.04 334.33,378.95 334.73,379.28 335.13,378.84 335.53,377.15 335.93,379.79 336.33,379.24 336.73,382.21 337.13,376.55 337.53,378.16 337.93,368.99 338.33,381.68 338.73,370.93 339.13,383.06 339.28,352.88 339.81,352.88 340.11,377.01 340.51,373.38 340.91,379.23 341.31,375.94 341.71,378.85 342.11,378.73 342.51,384.14 342.91,380.64 343.31,369.59 343.71,380.81 344.11,376.29 344.51,373.97 344.91,376.99 345.31,383.33 345.71,382.26 346.11,378.32 346.51,382.99 346.91,379.08 347.31,373.35 347.71,381.36 348.11,383.03 348.51,381.06 348.91,375.99 349.31,378.61 349.46,343.80 349.84,343.80 350.14,383.84 350.54,378.72 350.94,381.13 351.34,381.27 351.74,378.56 352.14,375.36 352.54,378.86 352.94,379.46 353.34,377.35 353.74,374.92 354.14,380.00 354.54,380.79 354.94,375.05 355.34,373.07 355.74,381.97 356.14,384.33 356.54,381.71 356.94,382.69 357.34,381.67 357.74,377.55 358.14,380.03 358.54,378.53 358.94,384.27 359.34,372.77 359.74,384.44 360.14,373.20 360.54,376.36 360.94,379.95 361.34,383.95 361.74,383.33 362.14,382.10 362.54,380.80 362.94,382.03 363.34,376.43 363.74,371.08 364.14,380.20 364.54,374.98 364.94,378.55 365.34,382.21 365.74,384.34 366.14,373.29 366.29,343.51 366.87,343.51 367.17,381.39 367.57,377.58 367.97,383.53 368.37,374.20 368.77,382.84 369.17,384.45 369.57,383.03 369.97,373.08 370.37,377.74 370.77,372.71 371.17,377.14 371.57,377.90 371.97,374.04 372.37,378.74 372.77,382.98 373.17,381.15 373.57,376.51 373.97,373.26 374.37,373.12 374.77,382.79 375.17,375.88 375.57,379.97 375.97,374.76 376.37,381.60 376.77,372.50 377.17,378.95 377.57,378.53 377.97,379.45 378.37,375.10 378.77,381.46 378.92,342.93 379.30,342.93 379.60,373.33 380.00,383.35 380.40,371.03 380.80,371.39 381.20,379.76 381.60,378.95 382.00,375.23 382.40,381.52 382.80,378.03 383.20,384.39 383.60,375.34 384.00,379.69 384.40,373.64 384.80,373.09 385.20,384.28 385.60,383.62 386.00,382.20 386.40,379.46 386.80,381.41 387.20,375.55 387.60,374.81 388.00,375.43 388.40,376.26 388.80,378.14 389.20,379.50 389.60,376.30 390.00,377.53 390.15,360.33 390.62,360.33 390.92,377.99 391.32,380.99 391.72,380.92 392.12,374.83 392.52,383.26 392.92,380.82 393.32,384.47 393.72,376.35 394.12,374.34 394.52,382.63 394.92,382.35 395.32,375.78 395.72,378.84 396.12,374.82 396.52,379.12 396.92,384.63 397.32,376.34 397.72,377.76 398.12,383.55 398.52,384.70 398.92,379.78 399.32,380.22 399.72,379.68 400.12,381.92 400.52,384.00 400.92,384.06 401.32,380.41 401.47,362.16 402.12,362.16 402.42,384.71 402.82,382.29 403.22,382.95 403.62,377.75 404.02,370.53 404.42,377.55 404.82,384.62 405.22,382.56 405.62,377.60 406.02,383.47 406.42,373.14 406.82,382.35 407.22,380.34 407.62,384.76 408.02,377.01 408.42,377.77 408.82,377.85 409.22,378.99 409.62,379.29 410.02,375.39 410.42,379.11 410.82,372.39 411.22,381.21 411.62,383.38 412.02,377.50 412.42,379.18 412.82,384.65 413.22,383.41 413.62,381.91 414.02,380.71 414.42,384.64 414.57,355.41 415.32,355.41 415.62,375.27 416.02,381.65 416.42,382.21 416.82,382.08 417.22,378.71 417.62,376.94 418.02,382.79 418.42,382.31 418.82,380.12 419.22,376.62 419.62,373.07 420.02,380.10 420.42,384.16 420.82,383.78 421.22,382.59 421.62,378.97 422.02,383.80 422.42,383.92 422.82,377.41 423.22,380.35 423.62,378.22 424.02,375.63 424.42,379.81 424.82,376.15 425.22,384.57 425.62,384.85 426.02,376.70 426.42,375.17 426.82,375.73 427.22,384.31 427.62,377.77 428.02,383.43 428.42,385.04 428.82,377.99 429.22,383.63 429.37,338.12 430.02,338.12 430.32,374.73 430.72,380.06 431.12,383.15 431.52,379.30 431.92,380.59 432.32,382.81 432.72,373.71 433.12,380.11 433.52,372.21 433.92,375.89 434.32,374.41 434.72,375.48 435.12,384.41 435.52,371.50 435.92,379.86 436.32,373.33 436.72,371.12 437.12,384.48 437.52,380.09 437.92,383.84 438.32,381.52 438.72,380.92 439.12,382.97 439.52,370.80 439.92,376.03 440.32,382.07 440.72,385.12 441.12,375.76 441.27,357.47 441.88,357.47 442.18,381.17 442.58,376.62 442.98,382.05 443.38,382.75 443.78,381.93 444.18,383.38 444.58,383.36 444.98,370.45 445.38,377.57 445.78,373.31 446.18,374.51 446.58,382.60 446.98,378.72 447.38,384.15 447.78,371.97 448.18,379.59 448.58,385.03 448.98,378.46 449.38,382.19 449.78,384.05 450.18,383.42 450.58,377.90 450.98,379.52 451.38,383.11 451.78,380.53 452.18,379.27 452.58,384.79 452.98,376.91 453.13,347.61 453.76,347.61 454.06,381.63 454.46,383.46 454.86,380.22 455.26,381.13 455.66,382.29 456.06,382.97 456.46,384.61 456.86,371.59 457.26,371.87 457.66,384.97 458.06,381.82 458.46,374.00 458.86,377.64 459.26,374.96 459.66,377.82 460.06,374.98 460.46,382.74 460.86,375.18 461.26,379.71 461.66,373.05 462.06,378.96 462.46,377.05 462.86,380.73 463.26,377.13 463.66,376.37 464.06,378.40 464.46,384.88 464.86,385.31 465.26,375.37 465.66,382.92 466.06,373.08 466.46,377.88 466.86,383.34 467.26,382.81 467.66,382.48 468.06,380.23 468.46,379.65 468.86,372.95 469.26,382.11 469.66,381.92 470.06,378.73 470.46,375.18 470.86,377.12 471.26,383.62 471.41,355.15 472.11,355.15 472.41,381.69 472.81,382.43 473.21,376.38 473.61,377.34 474.01,381.94 474.41,374.50 474.81,380.52 475.21,382.44 475.61,372.64 476.01,372.82 476.41,383.74 476.81,383.58 477.21,385.21 477.61,374.52 478.01,384.04 478.41,381.18 478.81,381.04 479.21,375.88 479.61,378.70 480.01,376.06 480.41,371.95 480.81,382.67 481.21,374.25 481.36,360.87 482.08,360.87 482.38,372.05 482.78,375.40 483.18,378.44 483.58,379.95 483.98,377.60 484.38,378.43 484.78,379.97 485.18,382.86 485.58,376.31 485.98,375.71 486.38,380.02 486.78,377.78 487.18,376.89 487.58,375.48 487.98,383.89 488.38,383.76 488.78,374.73 489.18,382.23 489.58,379.79 489.98,373.51 490.38,373.80 490.78,385.62 491.18,374.52 491.58,380.73 491.98,382.77 492.38,383.26 492.78,382.83 493.18,373.84 493.58,379.05 493.98,374.65 494.38,382.97 494.53,343.97 495.14,343.97 495.44,374.38 495.84,376.16 496.24,378.36 496.64,375.50 497.04,371.84 497.44,379.28 497.84,384.07 498.24,382.04 498.64,382.40 499.04,380.18 499.44,375.87 499.84,377.32 500.24,374.41 500.64,381.80 501.04,375.73 501.44,382.48 501.84,372.47 502.24,383.12 502.64,377.21 503.04,375.76 503.44,380.12 503.84,376.80 504.24,383.72 504.64,382.39 505.04,380.12 505.44,381.04 505.84,383.53 506.24,382.37 506.64,379.77 507.04,381.31 507.19,356.41 507.91,356.41 508.21,382.32 508.61,372.36 509.01,373.82 509.41,374.86 509.81,385.33 510.21,379.09 510.61,380.62 511.01,380.08 511.41,380.30 511.81,382.61 512.21,382.11 512.61,376.66 513.01,380.57 513.41,384.41 513.81,380.19 514.21,380.24 514.61,377.96 515.01,379.60 515.41,379.33 515.81,376.34 516.21,381.90 516.61,373.84 517.01,377.32 517.41,372.11 517.81,384.06 518.21,379.89 518.61,379.27 519.01,384.63 519.41,383.52 519.81,377.36 520.21,382.27 520.61,377.79 521.01,379.05 521.41,374.64 521.81,380.92 522.21,382.38 522.61,377.53 523.01,379.03 523.41,377.41 523.56,365.55 524.29,365.55 524.59,382.34 524.99,379.61 525.39,378.35 525.79,384.92 526.19,385.73 526.59,383.23 526.99,377.50 527.39,373.78 527.79,382.41 528.19,374.20 528.59,384.58 528.99,376.32 529.39,377.93 529.79,374.94 530.19,383.87 530.59,376.30 530.99,376.15 531.39,379.08 531.79,375.25 532.19,374.03 532.59,385.22 532.99,379.80 533.39,377.50 533.79,376.26" fill="none" stroke="#00f000" stroke-width="1.2" stroke-linejoin="round" stroke-linecap="round" clip-path="url(#cpe)"/>
<rect x="370.9" y="407.2" width="122.30000000000001" height="66.69999999999999" fill="#fff" stroke="#7d7d7d" stroke-width="1.2"/>
<clipPath id="cpi"><rect x="370.9" y="407.2" width="122.30000000000001" height="66.69999999999999"/></clipPath>
<g clip-path="url(#cpi)">
<polyline points="371.00,426.40 371.30,426.29 371.70,426.15 372.16,425.97 372.69,425.78 373.25,425.58 373.84,425.38 374.42,425.18 375.00,425.00 375.46,424.87 375.94,424.73 376.43,424.60 376.93,424.47 377.44,424.34 377.95,424.21 378.47,424.08 378.98,423.95 379.50,423.83 380.00,423.70 380.50,423.57 381.00,423.42 381.50,423.27 382.00,423.11 382.50,422.96 383.00,422.82 383.50,422.70 384.00,422.60 384.50,422.53 385.00,422.50 385.50,422.51 386.00,422.58 386.50,422.68 387.00,422.81 387.50,422.95 388.00,423.09 388.50,423.22 389.00,423.32 389.50,423.39 390.00,423.40 390.50,423.35 391.00,423.26 391.50,423.12 392.00,422.96 392.50,422.78 393.00,422.61 393.50,422.45 394.00,422.32 394.50,422.23 395.00,422.20 395.50,422.24 396.00,422.33 396.50,422.47 397.00,422.65 397.50,422.83 398.00,423.01 398.50,423.18 399.00,423.31 399.50,423.39 400.00,423.40 400.50,423.35 401.00,423.24 401.50,423.09 402.00,422.91 402.50,422.71 403.00,422.49 403.50,422.27 404.00,422.06 404.50,421.87 405.00,421.70 405.51,421.56 406.03,421.42 406.56,421.29 407.10,421.17 407.62,421.05 408.14,420.93 408.65,420.81 409.13,420.68 409.58,420.54 410.00,420.40 410.62,420.13 411.15,419.84 411.62,419.54 412.07,419.24 412.52,418.96 413.00,418.70 413.49,418.45 413.96,418.19 414.44,417.94 414.93,417.73 415.44,417.57 416.00,417.50 416.45,417.50 416.91,417.54 417.38,417.61 417.88,417.72 418.38,417.85 418.91,418.01 419.45,418.20 420.00,418.40 420.46,418.58 420.94,418.77 421.43,418.98 421.93,419.21 422.44,419.45 422.95,419.71 423.47,419.98 423.98,420.27 424.50,420.58 425.00,420.90 425.50,421.24 426.00,421.62 426.50,422.01 427.00,422.42 427.50,422.84 428.00,423.28 428.50,423.71 429.00,424.15 429.50,424.58 430.00,425.00 430.50,425.43 431.00,425.87 431.50,426.33 432.00,426.79 432.50,427.25 433.00,427.70 433.50,428.12 434.00,428.52 434.50,428.88 435.00,429.20 435.50,429.48 436.00,429.73 436.50,429.96 437.00,430.16 437.50,430.34 438.00,430.49 438.50,430.62 439.00,430.73 439.50,430.83 440.00,430.90 440.50,430.95 441.00,430.98 441.50,430.99 442.00,430.97 442.50,430.94 443.00,430.88 443.50,430.81 444.00,430.72 444.50,430.62 445.00,430.50 445.48,430.36 445.92,430.20 446.34,430.01 446.76,429.80 447.19,429.58 447.64,429.35 448.13,429.11 448.68,428.87 449.30,428.63 450.00,428.40 450.39,428.28 450.82,428.16 451.28,428.03 451.76,427.90 452.27,427.77 452.79,427.63 453.33,427.49 453.88,427.35 454.44,427.21 455.00,427.07 455.56,426.94 456.12,426.80 456.67,426.67 457.21,426.54 457.73,426.42 458.24,426.30 458.72,426.19 459.18,426.09 459.61,425.99 460.00,425.90 460.70,425.74 461.32,425.60 461.87,425.47 462.36,425.36 462.81,425.27 463.24,425.19 463.66,425.12 464.08,425.07 464.52,425.03 465.00,425.00 465.50,424.99 466.00,425.01 466.50,425.06 467.00,425.12 467.50,425.19 468.00,425.26 468.50,425.32 469.00,425.37 469.50,425.40 470.00,425.40 470.50,425.37 471.00,425.33 471.50,425.26 472.00,425.19 472.50,425.11 473.00,425.02 473.50,424.93 474.00,424.84 474.50,424.77 475.00,424.70 475.50,424.64 476.00,424.59 476.50,424.54 477.00,424.49 477.50,424.44 478.00,424.39 478.50,424.34 479.00,424.30 479.50,424.25 480.00,424.20 480.49,424.15 480.95,424.10 481.41,424.05 481.86,424.00 482.31,423.95 482.78,423.90 483.28,423.85 483.81,423.80 484.38,423.75 485.00,423.70 485.43,423.67 485.91,423.63 486.43,423.60 486.98,423.56 487.55,423.53 488.13,423.49 488.72,423.45 489.31,423.42 489.89,423.38 490.45,423.35 490.99,423.32 491.49,423.29 491.95,423.26 492.36,423.24 492.71,423.22 493.00,423.20" fill="none" stroke="#ee0000" stroke-width="2.5" stroke-linejoin="round" stroke-linecap="round"/>
<polyline points="371.00,446.60 371.28,446.59 371.60,446.59 371.97,446.58 372.38,446.57 372.82,446.56 373.30,446.55 373.80,446.54 374.33,446.52 374.88,446.51 375.44,446.50 376.01,446.49 376.59,446.47 377.18,446.46 377.76,446.45 378.34,446.44 378.91,446.42 379.46,446.41 380.00,446.40 380.47,446.39 380.94,446.38 381.40,446.37 381.86,446.36 382.31,446.36 382.77,446.35 383.23,446.34 383.69,446.33 384.15,446.33 384.62,446.32 385.10,446.31 385.59,446.30 386.09,446.29 386.60,446.28 387.12,446.27 387.66,446.26 388.22,446.25 388.79,446.23 389.39,446.22 390.00,446.20 390.42,446.19 390.87,446.17 391.32,446.15 391.79,446.13 392.27,446.11 392.76,446.09 393.26,446.06 393.77,446.04 394.29,446.01 394.81,445.98 395.35,445.95 395.88,445.93 396.42,445.90 396.96,445.87 397.50,445.84 398.04,445.82 398.58,445.79 399.12,445.77 399.65,445.75 400.19,445.73 400.71,445.71 401.23,445.70 401.74,445.69 402.24,445.68 402.73,445.67 403.21,445.67 403.68,445.67 404.13,445.68 404.58,445.69 405.00,445.70 405.61,445.73 406.18,445.78 406.72,445.83 407.24,445.90 407.73,445.98 408.21,446.06 408.67,446.15 409.12,446.24 409.56,446.34 410.00,446.44 410.44,446.54 410.88,446.63 411.33,446.73 411.79,446.82 412.27,446.90 412.76,446.98 413.28,447.05 413.82,447.11 414.39,447.16 415.00,447.20 415.42,447.22 415.87,447.23 416.32,447.24 416.79,447.25 417.27,447.25 417.76,447.26 418.26,447.25 418.77,447.25 419.29,447.24 419.81,447.23 420.35,447.22 420.88,447.21 421.42,447.20 421.96,447.18 422.50,447.16 423.04,447.14 423.58,447.13 424.12,447.11 424.65,447.09 425.19,447.07 425.71,447.05 426.23,447.03 426.74,447.01 427.24,446.99 427.73,446.97 428.21,446.95 428.68,446.94 429.13,446.92 429.58,446.91 430.00,446.90 430.62,446.88 431.23,446.86 431.82,446.84 432.40,446.82 432.97,446.79 433.52,446.77 434.07,446.74 434.60,446.72 435.12,446.69 435.62,446.67 436.12,446.65 436.60,446.63 437.07,446.61 437.52,446.59 437.97,446.58 438.40,446.58 438.82,446.57 439.23,446.58 439.62,446.59 440.00,446.60 440.70,446.64 441.32,446.71 441.87,446.79 442.36,446.88 442.81,446.98 443.24,447.09 443.66,447.21 444.08,447.34 444.52,447.47 445.00,447.60 445.50,447.74 446.00,447.88 446.50,448.04 447.00,448.20 447.50,448.37 448.00,448.54 448.50,448.71 449.00,448.88 449.50,449.04 450.00,449.20 450.50,449.36 451.00,449.54 451.50,449.73 452.00,449.91 452.50,450.09 453.00,450.26 453.50,450.41 454.00,450.54 454.50,450.64 455.00,450.70 455.50,450.72 456.00,450.72 456.50,450.68 457.00,450.62 457.50,450.54 458.00,450.45 458.50,450.35 459.00,450.23 459.50,450.12 460.00,450.00 460.50,449.87 461.00,449.72 461.50,449.56 462.00,449.39 462.50,449.21 463.00,449.03 463.50,448.85 464.00,448.68 464.50,448.53 465.00,448.40 465.50,448.28 466.00,448.16 466.50,448.05 467.00,447.95 467.50,447.85 468.00,447.77 468.50,447.70 469.00,447.64 469.50,447.61 470.00,447.60 470.50,447.62 471.00,447.66 471.50,447.72 472.00,447.80 472.50,447.90 473.00,448.00 473.50,448.11 474.00,448.21 474.50,448.31 475.00,448.40 475.50,448.48 476.00,448.56 476.50,448.64 477.00,448.72 477.50,448.80 478.00,448.88 478.50,448.96 479.00,449.04 479.50,449.12 480.00,449.20 480.49,449.28 480.95,449.36 481.41,449.44 481.86,449.52 482.31,449.59 482.78,449.67 483.28,449.75 483.81,449.83 484.38,449.92 485.00,450.00 485.43,450.06 485.91,450.11 486.43,450.18 486.98,450.24 487.55,450.30 488.13,450.37 488.72,450.44 489.31,450.50 489.89,450.56 490.45,450.62 490.99,450.68 491.49,450.74 491.95,450.79 492.36,450.83 492.71,450.87 493.00,450.90" fill="none" stroke="#00f000" stroke-width="2.4" stroke-linejoin="round" stroke-linecap="round" stroke-dasharray="0.1 4.0"/>
<polyline points="371.00,460.10 371.27,460.10 371.58,460.09 371.92,460.08 372.30,460.07 372.71,460.06 373.15,460.05 373.61,460.04 374.10,460.03 374.60,460.02 375.13,460.01 375.67,459.99 376.23,459.98 376.80,459.97 377.38,459.96 377.96,459.94 378.55,459.93 379.13,459.92 379.72,459.91 380.31,459.90 380.88,459.90 381.45,459.89 382.01,459.89 382.56,459.88 383.09,459.88 383.60,459.88 384.09,459.89 384.56,459.89 385.00,459.90 385.58,459.92 386.14,459.94 386.67,459.96 387.18,459.99 387.66,460.02 388.14,460.06 388.60,460.09 389.05,460.13 389.49,460.18 389.94,460.22 390.38,460.26 390.83,460.31 391.29,460.35 391.76,460.39 392.24,460.43 392.74,460.47 393.27,460.51 393.82,460.54 394.39,460.57 395.00,460.60 395.42,460.62 395.85,460.63 396.30,460.65 396.75,460.66 397.21,460.68 397.68,460.69 398.16,460.70 398.64,460.72 399.13,460.73 399.63,460.74 400.13,460.75 400.64,460.76 401.15,460.77 401.67,460.78 402.19,460.79 402.71,460.80 403.23,460.81 403.76,460.82 404.29,460.83 404.81,460.84 405.34,460.84 405.87,460.85 406.40,460.86 406.92,460.87 407.44,460.87 407.96,460.88 408.48,460.88 408.99,460.89 409.50,460.89 410.00,460.90 410.50,460.90 410.99,460.91 411.48,460.91 411.96,460.92 412.44,460.92 412.92,460.93 413.40,460.93 413.87,460.93 414.34,460.93 414.81,460.94 415.29,460.94 415.76,460.94 416.23,460.94 416.71,460.94 417.19,460.94 417.67,460.94 418.15,460.94 418.64,460.94 419.13,460.94 419.63,460.94 420.13,460.94 420.64,460.94 421.16,460.93 421.68,460.93 422.21,460.93 422.75,460.92 423.30,460.92 423.85,460.91 424.42,460.91 425.00,460.90 425.44,460.89 425.90,460.89 426.37,460.88 426.84,460.87 427.33,460.86 427.82,460.85 428.33,460.84 428.84,460.83 429.36,460.82 429.88,460.81 430.41,460.80 430.95,460.78 431.49,460.77 432.03,460.76 432.57,460.74 433.12,460.73 433.67,460.72 434.22,460.70 434.76,460.69 435.31,460.67 435.86,460.66 436.40,460.65 436.94,460.63 437.48,460.62 438.01,460.61 438.54,460.60 439.06,460.59 439.58,460.57 440.09,460.56 440.59,460.55 441.08,460.54 441.56,460.54 442.03,460.53 442.49,460.52 442.94,460.51 443.38,460.51 443.81,460.51 444.22,460.50 444.62,460.50 445.00,460.50 445.72,460.50 446.38,460.51 446.99,460.52 447.56,460.54 448.09,460.55 448.58,460.57 449.04,460.60 449.48,460.62 449.90,460.65 450.31,460.68 450.72,460.70 451.12,460.73 451.53,460.76 451.95,460.78 452.38,460.81 452.84,460.83 453.32,460.85 453.84,460.87 454.40,460.89 455.00,460.90 455.42,460.91 455.84,460.91 456.26,460.91 456.69,460.92 457.12,460.92 457.55,460.92 457.99,460.92 458.43,460.92 458.88,460.91 459.33,460.91 459.79,460.91 460.26,460.90 460.73,460.90 461.20,460.90 461.69,460.89 462.18,460.89 462.68,460.89 463.18,460.88 463.70,460.88 464.22,460.88 464.75,460.88 465.30,460.87 465.85,460.87 466.41,460.87 466.98,460.88 467.56,460.88 468.15,460.88 468.76,460.89 469.37,460.89 470.00,460.90 470.42,460.91 470.86,460.91 471.32,460.92 471.79,460.93 472.28,460.94 472.78,460.94 473.29,460.95 473.81,460.96 474.35,460.97 474.89,460.98 475.45,461.00 476.01,461.01 476.58,461.02 477.15,461.03 477.73,461.04 478.32,461.06 478.90,461.07 479.49,461.08 480.08,461.10 480.67,461.11 481.26,461.12 481.85,461.14 482.44,461.15 483.02,461.16 483.60,461.18 484.17,461.19 484.74,461.20 485.29,461.22 485.84,461.23 486.39,461.24 486.92,461.26 487.44,461.27 487.94,461.28 488.44,461.29 488.92,461.30 489.38,461.32 489.83,461.33 490.26,461.34 490.68,461.35 491.08,461.36 491.45,461.36 491.81,461.37 492.14,461.38 492.45,461.39 492.74,461.39 493.00,461.40" fill="none" stroke="#0000ee" stroke-width="2.5" stroke-linejoin="round" stroke-linecap="round"/>
<polyline points="371.00,457.60 371.28,457.60 371.60,457.61 371.97,457.61 372.38,457.62 372.82,457.62 373.30,457.62 373.80,457.63 374.33,457.63 374.88,457.64 375.44,457.65 376.01,457.65 376.59,457.67 377.18,457.68 377.76,457.70 378.34,457.72 378.91,457.74 379.46,457.77 380.00,457.80 380.48,457.83 380.98,457.87 381.49,457.91 382.02,457.96 382.55,458.01 383.08,458.06 383.63,458.11 384.17,458.17 384.71,458.22 385.25,458.28 385.78,458.34 386.31,458.40 386.83,458.46 387.34,458.51 387.83,458.57 388.30,458.62 388.76,458.67 389.20,458.72 389.61,458.76 390.00,458.80 390.70,458.88 391.32,458.95 391.87,459.03 392.36,459.10 392.81,459.17 393.24,459.22 393.66,459.27 394.08,459.30 394.52,459.31 395.00,459.30 395.50,459.27 396.00,459.21 396.50,459.13 397.00,459.04 397.50,458.93 398.00,458.82 398.50,458.71 399.00,458.60 399.50,458.49 400.00,458.40 400.50,458.32 401.00,458.23 401.50,458.15 402.00,458.07 402.50,457.99 403.00,457.92 403.50,457.84 404.00,457.76 404.50,457.68 405.00,457.60 405.50,457.52 406.00,457.43 406.50,457.33 407.00,457.24 407.50,457.15 408.00,457.06 408.50,456.98 409.00,456.91 409.50,456.85 410.00,456.80 410.48,456.76 410.92,456.74 411.34,456.72 411.76,456.71 412.19,456.71 412.64,456.72 413.13,456.73 413.68,456.75 414.30,456.77 415.00,456.80 415.39,456.82 415.80,456.84 416.23,456.86 416.68,456.89 417.15,456.92 417.63,456.95 418.13,456.99 418.64,457.03 419.16,457.06 419.69,457.10 420.22,457.14 420.76,457.17 421.30,457.21 421.84,457.25 422.38,457.28 422.92,457.31 423.45,457.34 423.98,457.36 424.49,457.38 425.00,457.40 425.51,457.42 426.02,457.43 426.55,457.45 427.08,457.46 427.62,457.47 428.16,457.49 428.70,457.50 429.24,457.51 429.78,457.52 430.31,457.52 430.84,457.53 431.36,457.53 431.87,457.53 432.37,457.52 432.85,457.51 433.32,457.50 433.77,457.48 434.20,457.46 434.61,457.43 435.00,457.40 435.70,457.31 436.32,457.18 436.87,457.03 437.36,456.85 437.81,456.67 438.24,456.50 438.66,456.33 439.08,456.19 439.52,456.07 440.00,456.00 440.50,455.96 441.00,455.94 441.50,455.94 442.00,455.95 442.50,455.99 443.00,456.04 443.50,456.11 444.00,456.19 444.50,456.29 445.00,456.40 445.50,456.53 446.00,456.69 446.50,456.87 447.00,457.06 447.50,457.27 448.00,457.49 448.50,457.71 449.00,457.94 449.50,458.17 450.00,458.40 450.50,458.64 451.00,458.89 451.50,459.15 452.00,459.43 452.50,459.70 453.00,459.97 453.50,460.23 454.00,460.48 454.50,460.70 455.00,460.90 455.50,461.08 456.00,461.24 456.50,461.39 457.00,461.53 457.50,461.66 458.00,461.77 458.50,461.87 459.00,461.96 459.50,462.03 460.00,462.10 460.50,462.15 461.00,462.19 461.50,462.21 462.00,462.22 462.50,462.22 463.00,462.21 463.50,462.19 464.00,462.16 464.50,462.13 465.00,462.10 465.48,462.06 465.92,462.00 466.34,461.94 466.76,461.86 467.19,461.78 467.64,461.70 468.13,461.62 468.68,461.54 469.30,461.47 470.00,461.40 470.38,461.37 470.78,461.34 471.20,461.30 471.63,461.27 472.08,461.24 472.54,461.20 473.01,461.17 473.50,461.14 473.99,461.11 474.50,461.07 475.02,461.05 475.54,461.02 476.08,460.99 476.62,460.97 477.17,460.95 477.73,460.93 478.29,460.92 478.86,460.91 479.43,460.90 480.00,460.90 480.46,460.90 480.94,460.91 481.44,460.92 481.96,460.93 482.51,460.94 483.06,460.96 483.63,460.98 484.20,461.00 484.79,461.02 485.37,461.04 485.96,461.07 486.54,461.09 487.12,461.12 487.70,461.15 488.26,461.17 488.81,461.20 489.34,461.22 489.86,461.25 490.36,461.27 490.83,461.30 491.27,461.32 491.69,461.34 492.07,461.36 492.42,461.38 492.73,461.39 493.00,461.40" fill="none" stroke="#00f000" stroke-width="2.5" stroke-linejoin="round" stroke-linecap="round"/>
</g>
<rect x="370.9" y="407.2" width="122.30000000000001" height="66.69999999999999" fill="none" stroke="#7d7d7d" stroke-width="1.2"/>
<text x="361.45" y="477.40" font-size="9.5" textLength="5.85" lengthAdjust="spacingAndGlyphs" fill="#262626" stroke="#262626" stroke-width="0.1">0</text>
<text x="361.45" y="449.61" font-size="9.5" textLength="5.85" lengthAdjust="spacingAndGlyphs" fill="#262626" stroke="#262626" stroke-width="0.1">5</text>
<text x="355.60" y="421.82" font-size="9.5" textLength="11.70" lengthAdjust="spacingAndGlyphs" fill="#262626" stroke="#262626" stroke-width="0.1">10</text>
<text x="360.22" y="486.8" font-size="9.9" textLength="21.37" lengthAdjust="spacingAndGlyphs" fill="#262626" stroke="#262626" stroke-width="0.1">1.65</text>
<text x="424.42" y="486.8" font-size="9.9" textLength="15.26" lengthAdjust="spacingAndGlyphs" fill="#262626" stroke="#262626" stroke-width="0.1">1.7</text>
<text x="482.52" y="486.8" font-size="9.9" textLength="21.37" lengthAdjust="spacingAndGlyphs" fill="#262626" stroke="#262626" stroke-width="0.1">1.75</text>
<line x1="177.3" y1="92.2" x2="203.1" y2="92.2" stroke="#ee0000" stroke-width="2.8"/>
<text x="205.0" y="95.3" font-size="9.7" textLength="13.0" lengthAdjust="spacingAndGlyphs" fill="#222">SN</text>
<line x1="226.5" y1="92.2" x2="251.9" y2="92.2" stroke="#0000ee" stroke-width="2.8"/>
<text x="254.0" y="95.3" font-size="9.7" textLength="13.6" lengthAdjust="spacingAndGlyphs" fill="#222">XD</text>
<line x1="275.9" y1="92.2" x2="301.8" y2="92.2" stroke="#00f000" stroke-width="2.8"/>
<text x="303.6" y="95.3" font-size="9.7" textLength="18.0" lengthAdjust="spacingAndGlyphs" fill="#222">XPT</text>
<text x="34.3" y="41.0" font-size="10.5" font-weight="bold" fill="#000" stroke="#000" stroke-width="0.2">P</text>
<text x="42.6" y="46.3" font-size="7.4" textLength="18.8" lengthAdjust="spacingAndGlyphs" font-weight="bold" fill="#000" stroke="#000" stroke-width="0.2">NBI</text>
<text x="62.0" y="41.0" font-size="10.5" textLength="33.4" lengthAdjust="spacingAndGlyphs" font-weight="bold" fill="#000" stroke="#000" stroke-width="0.2">[MW]</text>
<text x="36.6" y="144.4" font-size="10.5" textLength="15.2" lengthAdjust="spacingAndGlyphs" font-weight="bold" fill="#000" stroke="#000" stroke-width="0.2">&lt;n</text>
<text x="52.9" y="150.0" font-size="9.6" font-weight="bold" fill="#000" stroke="#000" stroke-width="0.2">e</text>
<text x="60.6" y="144.4" font-size="10.5" textLength="34.6" lengthAdjust="spacingAndGlyphs" font-weight="bold" fill="#000" stroke="#000" stroke-width="0.2">&gt; [10</text>
<text x="95.3" y="138.8" font-size="7.6" textLength="11.6" lengthAdjust="spacingAndGlyphs" font-weight="bold" fill="#000" stroke="#000" stroke-width="0.2">20</text>
<text x="107.6" y="144.4" font-size="10.5" textLength="11.8" lengthAdjust="spacingAndGlyphs" font-weight="bold" fill="#000" stroke="#000" stroke-width="0.2">m</text>
<text x="119.8" y="138.8" font-size="7.6" textLength="11.6" lengthAdjust="spacingAndGlyphs" font-weight="bold" fill="#000" stroke="#000" stroke-width="0.2">-3</text>
<text x="131.6" y="144.4" font-size="10.5" textLength="4.6" lengthAdjust="spacingAndGlyphs" font-weight="bold" fill="#000" stroke="#000" stroke-width="0.2">]</text>
<text x="31.4" y="220.1" font-size="10.5" textLength="11.2" lengthAdjust="spacingAndGlyphs" font-weight="bold" fill="#000" stroke="#000" stroke-width="0.2">W</text>
<text x="43.4" y="225.6" font-size="8.2" textLength="24.0" lengthAdjust="spacingAndGlyphs" font-weight="bold" fill="#000" stroke="#000" stroke-width="0.2">MHD</text>
<text x="72.8" y="220.1" font-size="10.5" textLength="20.6" lengthAdjust="spacingAndGlyphs" font-weight="bold" fill="#000" stroke="#000" stroke-width="0.2">[kJ]</text>
<text x="34.8" y="298.4" font-size="11.3" textLength="9.6" lengthAdjust="spacingAndGlyphs" font-weight="bold" fill="#000" stroke="#000" stroke-width="0.2">H</text>
<text x="44.3" y="304.1" font-size="10.6" textLength="13.2" lengthAdjust="spacingAndGlyphs" font-weight="bold" fill="#000" stroke="#000" stroke-width="0.2">98</text>
<text x="33.0" y="331.6" font-size="10.3" font-weight="bold" fill="#000" stroke="#000" stroke-width="0.2">D</text>
<text x="41.0" y="331.6" font-size="12" font-family="Liberation Serif" font-style="italic" fill="#000" textLength="8.6" lengthAdjust="spacingAndGlyphs">α</text>
<text x="54.2" y="331.8" font-size="10.5" textLength="33.5" lengthAdjust="spacingAndGlyphs" font-weight="bold" fill="#000" stroke="#000" stroke-width="0.2">[a.u.]</text>
<text x="41.6" y="425.4" font-size="12.8" font-family="Liberation Serif" fill="#444">Γ</text>
<text x="50.0" y="419.6" font-size="8.8" textLength="25.4" lengthAdjust="spacingAndGlyphs" font-weight="bold" fill="#000" stroke="#000" stroke-width="0.2">peak</text>
<text x="50.0" y="430.5" font-size="8.8" textLength="15.2" lengthAdjust="spacingAndGlyphs" font-weight="bold" fill="#000" stroke="#000" stroke-width="0.2">ion</text>
<text x="76.0" y="425.2" font-size="10.5" textLength="19.6" lengthAdjust="spacingAndGlyphs" font-weight="bold" fill="#000" stroke="#000" stroke-width="0.2">[10</text>
<text x="95.6" y="419.8" font-size="8.8" textLength="13.6" lengthAdjust="spacingAndGlyphs" font-weight="bold" fill="#000" stroke="#000" stroke-width="0.2">21</text>
<text x="115.0" y="425.4" font-size="10.5" textLength="11.2" lengthAdjust="spacingAndGlyphs" font-weight="bold" fill="#000" stroke="#000" stroke-width="0.2">m</text>
<text x="126.2" y="420.8" font-size="7.8" textLength="10.0" lengthAdjust="spacingAndGlyphs" font-weight="bold" fill="#000" stroke="#000" stroke-width="0.2">-2</text>
<text x="137.2" y="425.4" font-size="10.5" textLength="7.4" lengthAdjust="spacingAndGlyphs" font-weight="bold" fill="#000" stroke="#000" stroke-width="0.2">s</text>
<text x="144.8" y="420.8" font-size="7.8" textLength="10.0" lengthAdjust="spacingAndGlyphs" font-weight="bold" fill="#000" stroke="#000" stroke-width="0.2">-1</text>
<text x="155.9" y="425.4" font-size="10.5" textLength="4.6" lengthAdjust="spacingAndGlyphs" font-weight="bold" fill="#000" stroke="#000" stroke-width="0.2">]</text>
<text x="279.5" y="60.6" font-size="13.2" font-family="Liberation Serif" font-style="italic" font-weight="bold" fill="#ff00ff">N</text>
<text x="290.5" y="64.0" font-size="9" font-weight="bold" fill="#ff00ff">2</text>
<text x="300.8" y="60.6" font-size="12.6" font-weight="bold" fill="#ff00ff" textLength="104.5" lengthAdjust="spacingAndGlyphs">seeding (2 × 10</text>
<text x="405.6" y="55.0" font-size="9" font-weight="bold" fill="#ff00ff" textLength="11.4" lengthAdjust="spacingAndGlyphs">20</text>
<text x="421.4" y="60.6" font-size="12.6" font-weight="bold" fill="#ff00ff" textLength="84.4" lengthAdjust="spacingAndGlyphs">molecules/s )</text>
<text x="507.4" y="33.9" font-size="15.2" letter-spacing="0" fill="#000">a)</text>
<text x="510.5" y="146.2" font-size="15.2" letter-spacing="0" fill="#000">b)</text>
<text x="511.9" y="178.9" font-size="15.2" letter-spacing="0" fill="#000">c)</text>
<text x="513.6" y="258.6" font-size="15.2" letter-spacing="0" fill="#000">d)</text>
<text x="513.9" y="336.4" font-size="15.2" letter-spacing="0.3" fill="#000">e)</text>
<text x="514.5" y="425.8" font-size="15.2" letter-spacing="0.9" fill="#000">f)</text>
</svg></body></html>
